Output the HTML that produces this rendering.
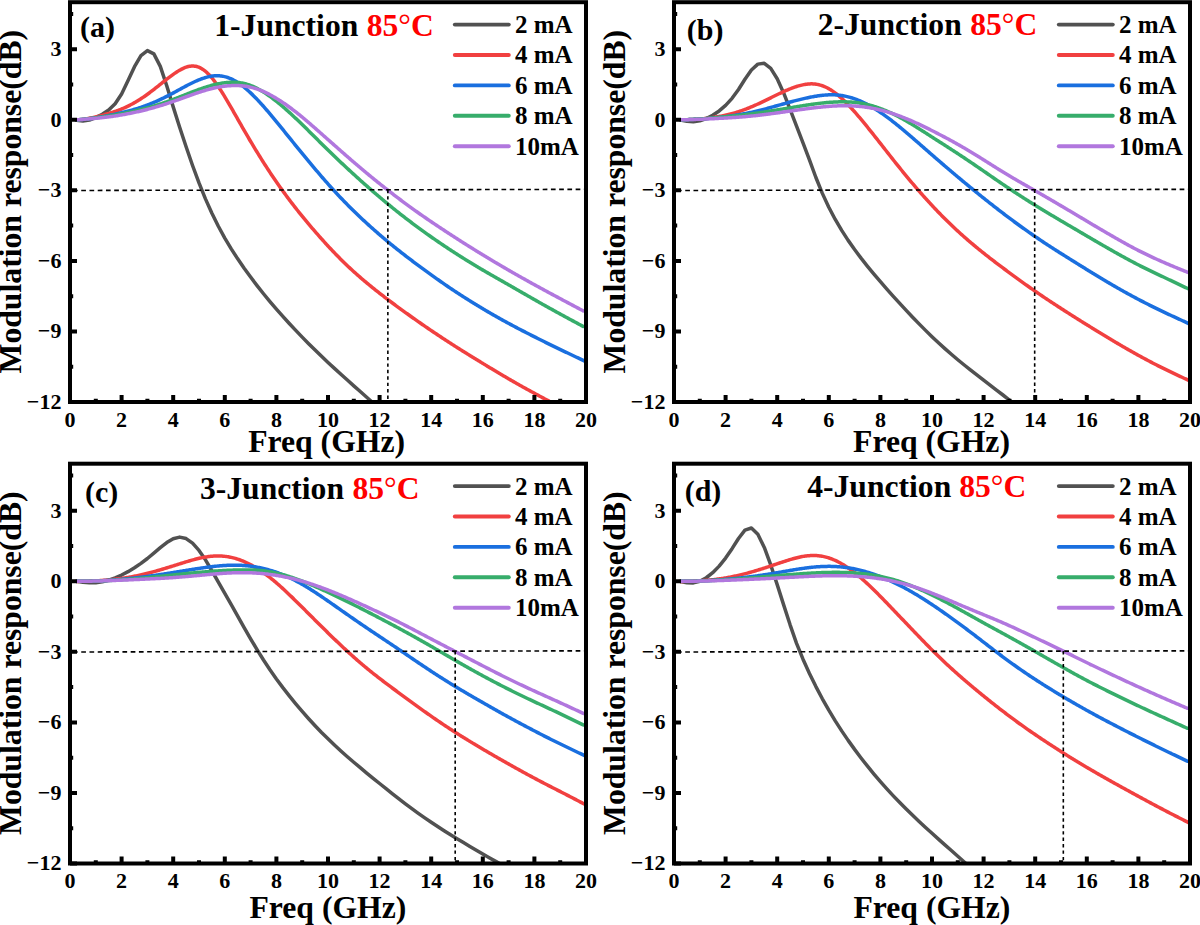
<!DOCTYPE html>
<html><head><meta charset="utf-8"><style>
html,body{margin:0;padding:0;background:#fff;}
svg{display:block;}
</style></head><body>
<svg width="1200" height="925" viewBox="0 0 1200 925">
<rect width="1200" height="925" fill="#fff"/>
<clipPath id="c0"><rect x="70" y="2.2" width="516" height="399.8"/></clipPath>
<g clip-path="url(#c0)" fill="none" stroke-width="3.5" stroke-linejoin="round" stroke-linecap="round">
<path d="M76.45 120.28 L82.90 120.94 L89.35 120.11 L95.80 117.52 L102.25 114.25 L108.70 110.06 L115.15 103.75 L121.60 93.97 L128.05 80.59 L134.50 66.65 L140.95 55.68 L147.40 50.64 L153.85 53.92 L160.30 66.38 L166.75 85.74 L173.20 106.88 L179.65 127.22 L186.10 146.77 L192.55 165.48 L199.00 182.94 L205.45 198.87 L211.90 213.25 L218.35 226.26 L224.80 238.07 L231.25 248.86 L237.70 258.84 L244.15 268.21 L250.60 277.08 L257.05 285.58 L263.50 293.75 L269.95 301.60 L276.40 309.15 L282.85 316.44 L289.30 323.52 L295.75 330.40 L302.20 337.11 L308.65 343.65 L315.10 350.05 L321.55 356.29 L328.00 362.40 L334.45 368.38 L340.90 374.26 L347.35 380.06 L353.80 385.82 L360.25 391.56 L366.70 397.31 L373.15 403.06" stroke="#515151"/>
<path d="M76.97 120.19 L78.00 120.05 L79.03 119.90 L80.06 119.76 L81.09 119.61 L82.13 119.46 L83.16 119.31 L84.19 119.15 L85.22 118.98 L86.25 118.81 L87.29 118.63 L88.32 118.44 L89.35 118.25 L90.38 118.05 L91.41 117.84 L92.45 117.62 L93.48 117.40 L94.51 117.17 L95.54 116.93 L96.57 116.69 L97.61 116.44 L98.64 116.18 L99.67 115.92 L100.70 115.65 L101.73 115.39 L102.77 115.12 L103.80 114.84 L104.83 114.56 L105.86 114.28 L106.89 113.99 L107.93 113.69 L108.96 113.39 L109.99 113.08 L111.02 112.77 L112.05 112.44 L113.09 112.11 L114.12 111.77 L115.15 111.42 L116.18 111.06 L117.21 110.69 L118.25 110.31 L119.28 109.92 L120.31 109.52 L121.34 109.10 L122.37 108.68 L123.41 108.24 L124.44 107.79 L125.47 107.33 L126.50 106.85 L127.53 106.36 L128.57 105.86 L129.60 105.34 L130.63 104.81 L131.66 104.27 L132.69 103.71 L133.73 103.14 L134.76 102.56 L135.79 101.96 L136.82 101.35 L137.85 100.72 L138.89 100.08 L139.92 99.43 L140.95 98.76 L141.98 98.08 L143.01 97.39 L144.05 96.69 L145.08 95.97 L146.11 95.24 L147.14 94.50 L148.17 93.75 L149.21 92.99 L150.24 92.22 L151.27 91.44 L152.30 90.65 L153.33 89.86 L154.37 89.05 L155.40 88.24 L156.43 87.43 L157.46 86.61 L158.49 85.78 L159.53 84.96 L160.56 84.13 L161.59 83.31 L162.62 82.48 L163.65 81.66 L164.69 80.84 L165.72 80.03 L166.75 79.23 L167.78 78.43 L168.81 77.64 L169.85 76.86 L170.88 76.09 L171.91 75.34 L172.94 74.59 L173.97 73.87 L175.01 73.16 L176.04 72.47 L177.07 71.79 L178.10 71.14 L179.13 70.52 L180.17 69.92 L181.20 69.35 L182.23 68.82 L183.26 68.32 L184.29 67.87 L185.33 67.46 L186.36 67.09 L187.39 66.77 L188.42 66.51 L189.45 66.30 L190.49 66.15 L191.52 66.05 L192.55 66.02 L193.58 66.05 L194.61 66.15 L195.65 66.31 L196.68 66.54 L197.71 66.84 L198.74 67.21 L199.77 67.65 L200.81 68.17 L201.84 68.75 L202.87 69.40 L203.90 70.12 L204.93 70.90 L205.97 71.76 L207.00 72.68 L208.03 73.66 L209.06 74.72 L210.09 75.83 L211.13 77.00 L212.16 78.23 L213.19 79.51 L214.22 80.85 L215.25 82.23 L216.29 83.66 L217.32 85.13 L218.35 86.64 L219.38 88.18 L220.41 89.76 L221.45 91.37 L222.48 93.01 L223.51 94.68 L224.54 96.37 L225.57 98.08 L226.61 99.81 L227.64 101.56 L228.67 103.32 L229.70 105.09 L230.73 106.88 L231.77 108.68 L232.80 110.48 L233.83 112.29 L234.86 114.11 L235.89 115.92 L236.93 117.74 L237.96 119.55 L238.99 121.37 L240.02 123.18 L241.05 124.99 L242.09 126.79 L243.12 128.59 L244.15 130.39 L245.18 132.17 L246.21 133.95 L247.25 135.72 L248.28 137.49 L249.31 139.24 L250.34 140.99 L251.37 142.73 L252.41 144.45 L253.44 146.17 L254.47 147.88 L255.50 149.58 L256.53 151.27 L257.57 152.95 L258.60 154.62 L259.63 156.28 L260.66 157.94 L261.69 159.58 L262.73 161.21 L263.76 162.84 L264.79 164.45 L265.82 166.05 L266.85 167.65 L267.89 169.23 L268.92 170.80 L269.95 172.36 L270.98 173.91 L272.01 175.45 L273.05 176.98 L274.08 178.50 L275.11 180.01 L276.14 181.51 L277.17 183.00 L278.21 184.48 L279.24 185.95 L280.27 187.41 L281.30 188.86 L282.33 190.29 L283.37 191.72 L284.40 193.14 L285.43 194.55 L286.46 195.95 L287.49 197.34 L288.53 198.72 L289.56 200.10 L290.59 201.46 L291.62 202.82 L292.65 204.16 L293.69 205.50 L294.72 206.83 L295.75 208.15 L296.78 209.46 L297.81 210.77 L298.85 212.06 L299.88 213.35 L300.91 214.63 L301.94 215.91 L302.97 217.17 L304.01 218.43 L305.04 219.68 L306.07 220.93 L307.10 222.17 L308.13 223.40 L309.17 224.62 L310.20 225.84 L311.23 227.05 L312.26 228.26 L313.29 229.46 L314.33 230.66 L315.36 231.84 L316.39 233.03 L317.42 234.21 L318.45 235.38 L319.49 236.55 L320.52 237.72 L321.55 238.88 L322.58 240.03 L323.61 241.18 L324.65 242.32 L325.68 243.46 L326.71 244.59 L327.74 245.71 L328.77 246.83 L329.81 247.94 L330.84 249.04 L331.87 250.14 L332.90 251.23 L333.93 252.31 L334.97 253.38 L336.00 254.45 L337.03 255.51 L338.06 256.56 L339.09 257.60 L340.13 258.64 L341.16 259.67 L342.19 260.69 L343.22 261.71 L344.25 262.71 L345.29 263.71 L346.32 264.71 L347.35 265.69 L348.38 266.67 L349.41 267.64 L350.45 268.60 L351.48 269.56 L352.51 270.51 L353.54 271.45 L354.57 272.38 L355.61 273.31 L356.64 274.22 L357.67 275.14 L358.70 276.04 L359.73 276.94 L360.77 277.83 L361.80 278.72 L362.83 279.60 L363.86 280.47 L364.89 281.34 L365.93 282.21 L366.96 283.07 L367.99 283.92 L369.02 284.77 L370.05 285.62 L371.09 286.46 L372.12 287.30 L373.15 288.13 L374.18 288.96 L375.21 289.78 L376.25 290.60 L377.28 291.42 L378.31 292.23 L379.34 293.04 L380.37 293.84 L381.41 294.64 L382.44 295.44 L383.47 296.24 L384.50 297.03 L385.53 297.82 L386.57 298.60 L387.60 299.38 L388.63 300.16 L389.66 300.94 L390.69 301.71 L391.73 302.48 L392.76 303.25 L393.79 304.02 L394.82 304.78 L395.85 305.54 L396.89 306.30 L397.92 307.06 L398.95 307.81 L399.98 308.57 L401.01 309.32 L402.05 310.07 L403.08 310.82 L404.11 311.56 L405.14 312.31 L406.17 313.05 L407.21 313.79 L408.24 314.53 L409.27 315.27 L410.30 316.00 L411.33 316.74 L412.37 317.47 L413.40 318.20 L414.43 318.93 L415.46 319.66 L416.49 320.38 L417.53 321.11 L418.56 321.83 L419.59 322.55 L420.62 323.27 L421.65 323.99 L422.69 324.70 L423.72 325.42 L424.75 326.13 L425.78 326.84 L426.81 327.54 L427.85 328.25 L428.88 328.95 L429.91 329.65 L430.94 330.35 L431.97 331.05 L433.01 331.75 L434.04 332.44 L435.07 333.13 L436.10 333.82 L437.13 334.51 L438.17 335.20 L439.20 335.88 L440.23 336.56 L441.26 337.24 L442.29 337.92 L443.33 338.60 L444.36 339.28 L445.39 339.95 L446.42 340.62 L447.45 341.30 L448.49 341.97 L449.52 342.63 L450.55 343.30 L451.58 343.96 L452.61 344.63 L453.65 345.29 L454.68 345.95 L455.71 346.61 L456.74 347.26 L457.77 347.92 L458.81 348.57 L459.84 349.22 L460.87 349.87 L461.90 350.52 L462.93 351.17 L463.97 351.82 L465.00 352.46 L466.03 353.10 L467.06 353.74 L468.09 354.38 L469.13 355.02 L470.16 355.66 L471.19 356.30 L472.22 356.93 L473.25 357.57 L474.29 358.20 L475.32 358.83 L476.35 359.46 L477.38 360.10 L478.41 360.73 L479.45 361.36 L480.48 361.99 L481.51 362.62 L482.54 363.25 L483.57 363.88 L484.61 364.50 L485.64 365.13 L486.67 365.76 L487.70 366.38 L488.73 367.01 L489.77 367.63 L490.80 368.25 L491.83 368.87 L492.86 369.49 L493.89 370.11 L494.93 370.73 L495.96 371.35 L496.99 371.97 L498.02 372.58 L499.05 373.19 L500.09 373.81 L501.12 374.42 L502.15 375.03 L503.18 375.64 L504.21 376.24 L505.25 376.85 L506.28 377.45 L507.31 378.06 L508.34 378.66 L509.37 379.26 L510.41 379.86 L511.44 380.45 L512.47 381.05 L513.50 381.64 L514.53 382.23 L515.57 382.82 L516.60 383.41 L517.63 384.00 L518.66 384.58 L519.69 385.16 L520.73 385.75 L521.76 386.32 L522.79 386.90 L523.82 387.48 L524.85 388.05 L525.89 388.62 L526.92 389.19 L527.95 389.76 L528.98 390.33 L530.01 390.89 L531.05 391.46 L532.08 392.02 L533.11 392.58 L534.14 393.14 L535.17 393.70 L536.21 394.26 L537.24 394.82 L538.27 395.38 L539.30 395.93 L540.33 396.49 L541.37 397.04 L542.40 397.60 L543.43 398.15 L544.46 398.70 L545.49 399.26 L546.53 399.81 L547.56 400.36 L548.59 400.91 L549.62 401.46 L550.65 402.02 L551.69 402.57 L552.72 403.12 L553.75 403.67 L554.78 404.22 L555.04 404.36" stroke="#F14040"/>
<path d="M76.97 120.00 L78.00 119.90 L79.03 119.80 L80.06 119.70 L81.09 119.60 L82.13 119.50 L83.16 119.39 L84.19 119.28 L85.22 119.17 L86.25 119.06 L87.29 118.94 L88.32 118.81 L89.35 118.69 L90.38 118.56 L91.41 118.42 L92.45 118.28 L93.48 118.14 L94.51 117.99 L95.54 117.83 L96.57 117.68 L97.61 117.51 L98.64 117.35 L99.67 117.18 L100.70 117.00 L101.73 116.82 L102.77 116.64 L103.80 116.45 L104.83 116.26 L105.86 116.07 L106.89 115.87 L107.93 115.67 L108.96 115.47 L109.99 115.26 L111.02 115.06 L112.05 114.85 L113.09 114.63 L114.12 114.42 L115.15 114.20 L116.18 113.97 L117.21 113.75 L118.25 113.52 L119.28 113.28 L120.31 113.05 L121.34 112.80 L122.37 112.56 L123.41 112.31 L124.44 112.06 L125.47 111.80 L126.50 111.53 L127.53 111.27 L128.57 110.99 L129.60 110.72 L130.63 110.43 L131.66 110.14 L132.69 109.85 L133.73 109.55 L134.76 109.25 L135.79 108.94 L136.82 108.62 L137.85 108.30 L138.89 107.97 L139.92 107.63 L140.95 107.29 L141.98 106.94 L143.01 106.59 L144.05 106.22 L145.08 105.85 L146.11 105.48 L147.14 105.09 L148.17 104.70 L149.21 104.30 L150.24 103.90 L151.27 103.48 L152.30 103.06 L153.33 102.63 L154.37 102.20 L155.40 101.75 L156.43 101.30 L157.46 100.84 L158.49 100.38 L159.53 99.91 L160.56 99.43 L161.59 98.94 L162.62 98.45 L163.65 97.95 L164.69 97.44 L165.72 96.93 L166.75 96.41 L167.78 95.88 L168.81 95.35 L169.85 94.81 L170.88 94.26 L171.91 93.71 L172.94 93.15 L173.97 92.59 L175.01 92.03 L176.04 91.47 L177.07 90.90 L178.10 90.33 L179.13 89.76 L180.17 89.19 L181.20 88.63 L182.23 88.06 L183.26 87.50 L184.29 86.94 L185.33 86.39 L186.36 85.84 L187.39 85.30 L188.42 84.76 L189.45 84.23 L190.49 83.71 L191.52 83.20 L192.55 82.70 L193.58 82.21 L194.61 81.73 L195.65 81.26 L196.68 80.81 L197.71 80.37 L198.74 79.94 L199.77 79.53 L200.81 79.14 L201.84 78.76 L202.87 78.40 L203.90 78.06 L204.93 77.73 L205.97 77.43 L207.00 77.15 L208.03 76.89 L209.06 76.65 L210.09 76.44 L211.13 76.25 L212.16 76.09 L213.19 75.96 L214.22 75.86 L215.25 75.78 L216.29 75.74 L217.32 75.73 L218.35 75.76 L219.38 75.81 L220.41 75.91 L221.45 76.03 L222.48 76.19 L223.51 76.38 L224.54 76.61 L225.57 76.87 L226.61 77.17 L227.64 77.49 L228.67 77.86 L229.70 78.26 L230.73 78.69 L231.77 79.16 L232.80 79.66 L233.83 80.19 L234.86 80.76 L235.89 81.36 L236.93 81.99 L237.96 82.65 L238.99 83.34 L240.02 84.06 L241.05 84.81 L242.09 85.59 L243.12 86.39 L244.15 87.21 L245.18 88.06 L246.21 88.94 L247.25 89.83 L248.28 90.75 L249.31 91.69 L250.34 92.65 L251.37 93.63 L252.41 94.63 L253.44 95.65 L254.47 96.69 L255.50 97.74 L256.53 98.81 L257.57 99.90 L258.60 100.99 L259.63 102.11 L260.66 103.23 L261.69 104.37 L262.73 105.53 L263.76 106.69 L264.79 107.86 L265.82 109.05 L266.85 110.24 L267.89 111.44 L268.92 112.66 L269.95 113.88 L270.98 115.10 L272.01 116.34 L273.05 117.58 L274.08 118.82 L275.11 120.08 L276.14 121.33 L277.17 122.59 L278.21 123.86 L279.24 125.12 L280.27 126.40 L281.30 127.67 L282.33 128.95 L283.37 130.22 L284.40 131.50 L285.43 132.78 L286.46 134.06 L287.49 135.35 L288.53 136.63 L289.56 137.91 L290.59 139.19 L291.62 140.47 L292.65 141.74 L293.69 143.02 L294.72 144.29 L295.75 145.57 L296.78 146.84 L297.81 148.11 L298.85 149.38 L299.88 150.64 L300.91 151.91 L301.94 153.17 L302.97 154.43 L304.01 155.68 L305.04 156.94 L306.07 158.18 L307.10 159.43 L308.13 160.67 L309.17 161.92 L310.20 163.15 L311.23 164.39 L312.26 165.62 L313.29 166.84 L314.33 168.07 L315.36 169.29 L316.39 170.51 L317.42 171.72 L318.45 172.93 L319.49 174.14 L320.52 175.34 L321.55 176.54 L322.58 177.74 L323.61 178.93 L324.65 180.11 L325.68 181.29 L326.71 182.47 L327.74 183.64 L328.77 184.80 L329.81 185.96 L330.84 187.11 L331.87 188.25 L332.90 189.39 L333.93 190.52 L334.97 191.65 L336.00 192.77 L337.03 193.88 L338.06 194.98 L339.09 196.08 L340.13 197.17 L341.16 198.26 L342.19 199.33 L343.22 200.41 L344.25 201.47 L345.29 202.53 L346.32 203.58 L347.35 204.63 L348.38 205.67 L349.41 206.70 L350.45 207.73 L351.48 208.75 L352.51 209.77 L353.54 210.78 L354.57 211.79 L355.61 212.79 L356.64 213.78 L357.67 214.77 L358.70 215.76 L359.73 216.74 L360.77 217.71 L361.80 218.68 L362.83 219.65 L363.86 220.61 L364.89 221.57 L365.93 222.52 L366.96 223.46 L367.99 224.41 L369.02 225.35 L370.05 226.28 L371.09 227.21 L372.12 228.13 L373.15 229.05 L374.18 229.97 L375.21 230.88 L376.25 231.79 L377.28 232.69 L378.31 233.59 L379.34 234.48 L380.37 235.37 L381.41 236.26 L382.44 237.14 L383.47 238.02 L384.50 238.89 L385.53 239.76 L386.57 240.62 L387.60 241.48 L388.63 242.34 L389.66 243.19 L390.69 244.04 L391.73 244.88 L392.76 245.72 L393.79 246.56 L394.82 247.39 L395.85 248.22 L396.89 249.04 L397.92 249.86 L398.95 250.67 L399.98 251.49 L401.01 252.29 L402.05 253.10 L403.08 253.90 L404.11 254.70 L405.14 255.50 L406.17 256.29 L407.21 257.08 L408.24 257.87 L409.27 258.66 L410.30 259.44 L411.33 260.22 L412.37 261.00 L413.40 261.78 L414.43 262.55 L415.46 263.33 L416.49 264.10 L417.53 264.87 L418.56 265.63 L419.59 266.40 L420.62 267.16 L421.65 267.92 L422.69 268.67 L423.72 269.43 L424.75 270.18 L425.78 270.93 L426.81 271.68 L427.85 272.43 L428.88 273.17 L429.91 273.92 L430.94 274.66 L431.97 275.40 L433.01 276.13 L434.04 276.87 L435.07 277.60 L436.10 278.33 L437.13 279.06 L438.17 279.79 L439.20 280.51 L440.23 281.23 L441.26 281.95 L442.29 282.67 L443.33 283.39 L444.36 284.10 L445.39 284.82 L446.42 285.52 L447.45 286.23 L448.49 286.93 L449.52 287.63 L450.55 288.33 L451.58 289.02 L452.61 289.71 L453.65 290.40 L454.68 291.09 L455.71 291.77 L456.74 292.45 L457.77 293.13 L458.81 293.80 L459.84 294.47 L460.87 295.14 L461.90 295.80 L462.93 296.47 L463.97 297.13 L465.00 297.78 L466.03 298.44 L467.06 299.09 L468.09 299.74 L469.13 300.39 L470.16 301.03 L471.19 301.68 L472.22 302.32 L473.25 302.95 L474.29 303.59 L475.32 304.22 L476.35 304.85 L477.38 305.48 L478.41 306.11 L479.45 306.73 L480.48 307.35 L481.51 307.97 L482.54 308.59 L483.57 309.20 L484.61 309.81 L485.64 310.42 L486.67 311.03 L487.70 311.63 L488.73 312.24 L489.77 312.84 L490.80 313.44 L491.83 314.03 L492.86 314.63 L493.89 315.22 L494.93 315.80 L495.96 316.39 L496.99 316.98 L498.02 317.56 L499.05 318.14 L500.09 318.71 L501.12 319.29 L502.15 319.86 L503.18 320.43 L504.21 321.00 L505.25 321.56 L506.28 322.13 L507.31 322.69 L508.34 323.25 L509.37 323.80 L510.41 324.36 L511.44 324.91 L512.47 325.46 L513.50 326.00 L514.53 326.55 L515.57 327.09 L516.60 327.64 L517.63 328.18 L518.66 328.71 L519.69 329.25 L520.73 329.79 L521.76 330.32 L522.79 330.86 L523.82 331.39 L524.85 331.92 L525.89 332.45 L526.92 332.98 L527.95 333.51 L528.98 334.04 L530.01 334.56 L531.05 335.09 L532.08 335.61 L533.11 336.13 L534.14 336.65 L535.17 337.17 L536.21 337.69 L537.24 338.21 L538.27 338.73 L539.30 339.24 L540.33 339.76 L541.37 340.27 L542.40 340.78 L543.43 341.29 L544.46 341.80 L545.49 342.31 L546.53 342.82 L547.56 343.32 L548.59 343.83 L549.62 344.33 L550.65 344.84 L551.69 345.34 L552.72 345.84 L553.75 346.34 L554.78 346.84 L555.81 347.34 L556.85 347.84 L557.88 348.34 L558.91 348.84 L559.94 349.33 L560.97 349.83 L562.01 350.32 L563.04 350.82 L564.07 351.31 L565.10 351.81 L566.13 352.30 L567.17 352.79 L568.20 353.29 L569.23 353.78 L570.26 354.27 L571.29 354.76 L572.33 355.25 L573.36 355.74 L574.39 356.23 L575.42 356.72 L576.45 357.21 L577.49 357.70 L578.52 358.19 L579.55 358.68 L580.58 359.17 L581.61 359.66 L582.65 360.15 L583.68 360.64 L584.71 361.13 L584.71 361.13" stroke="#1A6FDF"/>
<path d="M76.97 119.89 L78.00 119.79 L79.03 119.69 L80.06 119.59 L81.09 119.48 L82.13 119.38 L83.16 119.27 L84.19 119.17 L85.22 119.06 L86.25 118.95 L87.29 118.84 L88.32 118.73 L89.35 118.61 L90.38 118.50 L91.41 118.38 L92.45 118.25 L93.48 118.13 L94.51 118.00 L95.54 117.87 L96.57 117.74 L97.61 117.60 L98.64 117.46 L99.67 117.32 L100.70 117.18 L101.73 117.03 L102.77 116.88 L103.80 116.73 L104.83 116.57 L105.86 116.41 L106.89 116.25 L107.93 116.09 L108.96 115.92 L109.99 115.76 L111.02 115.58 L112.05 115.41 L113.09 115.24 L114.12 115.06 L115.15 114.88 L116.18 114.69 L117.21 114.51 L118.25 114.32 L119.28 114.13 L120.31 113.94 L121.34 113.74 L122.37 113.55 L123.41 113.35 L124.44 113.15 L125.47 112.94 L126.50 112.74 L127.53 112.53 L128.57 112.31 L129.60 112.10 L130.63 111.88 L131.66 111.66 L132.69 111.43 L133.73 111.21 L134.76 110.98 L135.79 110.74 L136.82 110.50 L137.85 110.26 L138.89 110.02 L139.92 109.77 L140.95 109.51 L141.98 109.26 L143.01 109.00 L144.05 108.73 L145.08 108.46 L146.11 108.19 L147.14 107.91 L148.17 107.63 L149.21 107.35 L150.24 107.06 L151.27 106.76 L152.30 106.46 L153.33 106.16 L154.37 105.85 L155.40 105.54 L156.43 105.22 L157.46 104.90 L158.49 104.57 L159.53 104.24 L160.56 103.90 L161.59 103.56 L162.62 103.21 L163.65 102.86 L164.69 102.51 L165.72 102.15 L166.75 101.79 L167.78 101.42 L168.81 101.05 L169.85 100.67 L170.88 100.29 L171.91 99.91 L172.94 99.52 L173.97 99.13 L175.01 98.74 L176.04 98.35 L177.07 97.95 L178.10 97.55 L179.13 97.14 L180.17 96.74 L181.20 96.33 L182.23 95.92 L183.26 95.51 L184.29 95.10 L185.33 94.69 L186.36 94.28 L187.39 93.86 L188.42 93.45 L189.45 93.05 L190.49 92.64 L191.52 92.24 L192.55 91.83 L193.58 91.44 L194.61 91.04 L195.65 90.65 L196.68 90.27 L197.71 89.89 L198.74 89.51 L199.77 89.14 L200.81 88.78 L201.84 88.42 L202.87 88.07 L203.90 87.72 L204.93 87.39 L205.97 87.06 L207.00 86.74 L208.03 86.42 L209.06 86.12 L210.09 85.82 L211.13 85.53 L212.16 85.26 L213.19 84.99 L214.22 84.73 L215.25 84.48 L216.29 84.25 L217.32 84.02 L218.35 83.81 L219.38 83.61 L220.41 83.42 L221.45 83.24 L222.48 83.08 L223.51 82.93 L224.54 82.79 L225.57 82.67 L226.61 82.56 L227.64 82.47 L228.67 82.40 L229.70 82.34 L230.73 82.29 L231.77 82.27 L232.80 82.26 L233.83 82.27 L234.86 82.29 L235.89 82.34 L236.93 82.40 L237.96 82.49 L238.99 82.59 L240.02 82.72 L241.05 82.87 L242.09 83.05 L243.12 83.25 L244.15 83.48 L245.18 83.73 L246.21 84.01 L247.25 84.31 L248.28 84.64 L249.31 85.00 L250.34 85.37 L251.37 85.77 L252.41 86.20 L253.44 86.64 L254.47 87.11 L255.50 87.60 L256.53 88.11 L257.57 88.64 L258.60 89.19 L259.63 89.77 L260.66 90.36 L261.69 90.97 L262.73 91.59 L263.76 92.24 L264.79 92.90 L265.82 93.58 L266.85 94.27 L267.89 94.98 L268.92 95.70 L269.95 96.44 L270.98 97.19 L272.01 97.96 L273.05 98.74 L274.08 99.53 L275.11 100.33 L276.14 101.15 L277.17 101.97 L278.21 102.81 L279.24 103.66 L280.27 104.51 L281.30 105.38 L282.33 106.25 L283.37 107.14 L284.40 108.03 L285.43 108.93 L286.46 109.84 L287.49 110.76 L288.53 111.69 L289.56 112.62 L290.59 113.56 L291.62 114.51 L292.65 115.47 L293.69 116.43 L294.72 117.40 L295.75 118.37 L296.78 119.35 L297.81 120.33 L298.85 121.32 L299.88 122.31 L300.91 123.30 L301.94 124.30 L302.97 125.31 L304.01 126.31 L305.04 127.33 L306.07 128.34 L307.10 129.36 L308.13 130.38 L309.17 131.40 L310.20 132.42 L311.23 133.45 L312.26 134.47 L313.29 135.50 L314.33 136.53 L315.36 137.55 L316.39 138.58 L317.42 139.60 L318.45 140.63 L319.49 141.65 L320.52 142.68 L321.55 143.70 L322.58 144.72 L323.61 145.74 L324.65 146.75 L325.68 147.76 L326.71 148.77 L327.74 149.78 L328.77 150.79 L329.81 151.79 L330.84 152.79 L331.87 153.79 L332.90 154.79 L333.93 155.78 L334.97 156.77 L336.00 157.76 L337.03 158.74 L338.06 159.72 L339.09 160.70 L340.13 161.68 L341.16 162.65 L342.19 163.62 L343.22 164.59 L344.25 165.56 L345.29 166.52 L346.32 167.48 L347.35 168.44 L348.38 169.40 L349.41 170.35 L350.45 171.30 L351.48 172.25 L352.51 173.20 L353.54 174.14 L354.57 175.08 L355.61 176.02 L356.64 176.96 L357.67 177.89 L358.70 178.83 L359.73 179.75 L360.77 180.68 L361.80 181.61 L362.83 182.53 L363.86 183.45 L364.89 184.36 L365.93 185.27 L366.96 186.18 L367.99 187.09 L369.02 188.00 L370.05 188.90 L371.09 189.80 L372.12 190.69 L373.15 191.59 L374.18 192.48 L375.21 193.37 L376.25 194.25 L377.28 195.13 L378.31 196.01 L379.34 196.89 L380.37 197.76 L381.41 198.63 L382.44 199.50 L383.47 200.36 L384.50 201.22 L385.53 202.08 L386.57 202.93 L387.60 203.79 L388.63 204.64 L389.66 205.48 L390.69 206.32 L391.73 207.16 L392.76 208.00 L393.79 208.83 L394.82 209.66 L395.85 210.49 L396.89 211.31 L397.92 212.13 L398.95 212.95 L399.98 213.76 L401.01 214.57 L402.05 215.38 L403.08 216.19 L404.11 216.99 L405.14 217.79 L406.17 218.58 L407.21 219.37 L408.24 220.16 L409.27 220.94 L410.30 221.73 L411.33 222.50 L412.37 223.28 L413.40 224.05 L414.43 224.82 L415.46 225.59 L416.49 226.35 L417.53 227.12 L418.56 227.87 L419.59 228.63 L420.62 229.38 L421.65 230.13 L422.69 230.88 L423.72 231.62 L424.75 232.36 L425.78 233.10 L426.81 233.84 L427.85 234.57 L428.88 235.30 L429.91 236.03 L430.94 236.75 L431.97 237.48 L433.01 238.20 L434.04 238.91 L435.07 239.63 L436.10 240.34 L437.13 241.05 L438.17 241.76 L439.20 242.46 L440.23 243.16 L441.26 243.86 L442.29 244.56 L443.33 245.25 L444.36 245.95 L445.39 246.63 L446.42 247.32 L447.45 248.01 L448.49 248.69 L449.52 249.37 L450.55 250.05 L451.58 250.72 L452.61 251.40 L453.65 252.07 L454.68 252.73 L455.71 253.40 L456.74 254.06 L457.77 254.72 L458.81 255.38 L459.84 256.04 L460.87 256.69 L461.90 257.34 L462.93 257.99 L463.97 258.64 L465.00 259.28 L466.03 259.92 L467.06 260.56 L468.09 261.20 L469.13 261.83 L470.16 262.46 L471.19 263.09 L472.22 263.72 L473.25 264.34 L474.29 264.97 L475.32 265.59 L476.35 266.20 L477.38 266.82 L478.41 267.43 L479.45 268.04 L480.48 268.65 L481.51 269.26 L482.54 269.87 L483.57 270.47 L484.61 271.07 L485.64 271.67 L486.67 272.27 L487.70 272.87 L488.73 273.47 L489.77 274.06 L490.80 274.66 L491.83 275.25 L492.86 275.84 L493.89 276.43 L494.93 277.02 L495.96 277.61 L496.99 278.20 L498.02 278.79 L499.05 279.38 L500.09 279.97 L501.12 280.56 L502.15 281.14 L503.18 281.73 L504.21 282.32 L505.25 282.91 L506.28 283.50 L507.31 284.08 L508.34 284.67 L509.37 285.26 L510.41 285.85 L511.44 286.44 L512.47 287.03 L513.50 287.62 L514.53 288.22 L515.57 288.81 L516.60 289.40 L517.63 289.99 L518.66 290.59 L519.69 291.18 L520.73 291.77 L521.76 292.37 L522.79 292.96 L523.82 293.55 L524.85 294.14 L525.89 294.74 L526.92 295.33 L527.95 295.92 L528.98 296.51 L530.01 297.10 L531.05 297.69 L532.08 298.29 L533.11 298.87 L534.14 299.46 L535.17 300.05 L536.21 300.64 L537.24 301.23 L538.27 301.81 L539.30 302.40 L540.33 302.98 L541.37 303.56 L542.40 304.15 L543.43 304.73 L544.46 305.31 L545.49 305.88 L546.53 306.46 L547.56 307.04 L548.59 307.61 L549.62 308.18 L550.65 308.76 L551.69 309.33 L552.72 309.90 L553.75 310.47 L554.78 311.04 L555.81 311.60 L556.85 312.17 L557.88 312.74 L558.91 313.30 L559.94 313.87 L560.97 314.43 L562.01 314.99 L563.04 315.55 L564.07 316.12 L565.10 316.68 L566.13 317.24 L567.17 317.80 L568.20 318.36 L569.23 318.92 L570.26 319.47 L571.29 320.03 L572.33 320.59 L573.36 321.15 L574.39 321.70 L575.42 322.26 L576.45 322.82 L577.49 323.37 L578.52 323.93 L579.55 324.48 L580.58 325.04 L581.61 325.60 L582.65 326.15 L583.16 326.43" stroke="#37AD6B"/>
<path d="M76.97 119.81 L78.00 119.73 L79.03 119.65 L80.06 119.57 L81.09 119.49 L82.13 119.41 L83.16 119.32 L84.19 119.24 L85.22 119.16 L86.25 119.08 L87.29 119.00 L88.32 118.92 L89.35 118.83 L90.38 118.75 L91.41 118.67 L92.45 118.58 L93.48 118.49 L94.51 118.40 L95.54 118.31 L96.57 118.22 L97.61 118.12 L98.64 118.03 L99.67 117.92 L100.70 117.82 L101.73 117.71 L102.77 117.60 L103.80 117.48 L104.83 117.36 L105.86 117.24 L106.89 117.11 L107.93 116.98 L108.96 116.84 L109.99 116.71 L111.02 116.57 L112.05 116.42 L113.09 116.27 L114.12 116.12 L115.15 115.97 L116.18 115.81 L117.21 115.65 L118.25 115.48 L119.28 115.31 L120.31 115.14 L121.34 114.96 L122.37 114.78 L123.41 114.60 L124.44 114.42 L125.47 114.23 L126.50 114.03 L127.53 113.84 L128.57 113.64 L129.60 113.43 L130.63 113.23 L131.66 113.02 L132.69 112.80 L133.73 112.59 L134.76 112.37 L135.79 112.14 L136.82 111.91 L137.85 111.68 L138.89 111.45 L139.92 111.21 L140.95 110.96 L141.98 110.72 L143.01 110.47 L144.05 110.21 L145.08 109.96 L146.11 109.69 L147.14 109.43 L148.17 109.16 L149.21 108.89 L150.24 108.61 L151.27 108.33 L152.30 108.04 L153.33 107.75 L154.37 107.46 L155.40 107.16 L156.43 106.86 L157.46 106.55 L158.49 106.25 L159.53 105.93 L160.56 105.62 L161.59 105.30 L162.62 104.97 L163.65 104.65 L164.69 104.32 L165.72 103.98 L166.75 103.64 L167.78 103.30 L168.81 102.96 L169.85 102.61 L170.88 102.26 L171.91 101.90 L172.94 101.55 L173.97 101.19 L175.01 100.83 L176.04 100.46 L177.07 100.09 L178.10 99.73 L179.13 99.36 L180.17 98.99 L181.20 98.61 L182.23 98.24 L183.26 97.87 L184.29 97.50 L185.33 97.13 L186.36 96.75 L187.39 96.38 L188.42 96.01 L189.45 95.64 L190.49 95.28 L191.52 94.91 L192.55 94.55 L193.58 94.18 L194.61 93.83 L195.65 93.47 L196.68 93.12 L197.71 92.77 L198.74 92.43 L199.77 92.09 L200.81 91.76 L201.84 91.43 L202.87 91.11 L203.90 90.79 L204.93 90.48 L205.97 90.18 L207.00 89.88 L208.03 89.59 L209.06 89.31 L210.09 89.03 L211.13 88.77 L212.16 88.51 L213.19 88.26 L214.22 88.02 L215.25 87.79 L216.29 87.57 L217.32 87.36 L218.35 87.15 L219.38 86.96 L220.41 86.78 L221.45 86.61 L222.48 86.46 L223.51 86.31 L224.54 86.17 L225.57 86.05 L226.61 85.94 L227.64 85.85 L228.67 85.76 L229.70 85.69 L230.73 85.63 L231.77 85.58 L232.80 85.55 L233.83 85.52 L234.86 85.52 L235.89 85.52 L236.93 85.54 L237.96 85.57 L238.99 85.61 L240.02 85.67 L241.05 85.74 L242.09 85.83 L243.12 85.93 L244.15 86.05 L245.18 86.19 L246.21 86.35 L247.25 86.52 L248.28 86.71 L249.31 86.91 L250.34 87.14 L251.37 87.38 L252.41 87.63 L253.44 87.91 L254.47 88.20 L255.50 88.51 L256.53 88.84 L257.57 89.18 L258.60 89.55 L259.63 89.94 L260.66 90.35 L261.69 90.77 L262.73 91.21 L263.76 91.67 L264.79 92.14 L265.82 92.63 L266.85 93.13 L267.89 93.64 L268.92 94.17 L269.95 94.72 L270.98 95.27 L272.01 95.84 L273.05 96.42 L274.08 97.02 L275.11 97.62 L276.14 98.24 L277.17 98.87 L278.21 99.51 L279.24 100.16 L280.27 100.82 L281.30 101.49 L282.33 102.17 L283.37 102.87 L284.40 103.57 L285.43 104.28 L286.46 105.00 L287.49 105.74 L288.53 106.48 L289.56 107.23 L290.59 107.99 L291.62 108.76 L292.65 109.54 L293.69 110.33 L294.72 111.12 L295.75 111.93 L296.78 112.74 L297.81 113.56 L298.85 114.39 L299.88 115.23 L300.91 116.07 L301.94 116.92 L302.97 117.78 L304.01 118.64 L305.04 119.51 L306.07 120.39 L307.10 121.26 L308.13 122.15 L309.17 123.04 L310.20 123.93 L311.23 124.82 L312.26 125.72 L313.29 126.62 L314.33 127.52 L315.36 128.42 L316.39 129.33 L317.42 130.24 L318.45 131.14 L319.49 132.05 L320.52 132.96 L321.55 133.88 L322.58 134.79 L323.61 135.70 L324.65 136.61 L325.68 137.53 L326.71 138.44 L327.74 139.35 L328.77 140.26 L329.81 141.18 L330.84 142.09 L331.87 143.00 L332.90 143.91 L333.93 144.83 L334.97 145.74 L336.00 146.65 L337.03 147.56 L338.06 148.47 L339.09 149.38 L340.13 150.28 L341.16 151.19 L342.19 152.10 L343.22 153.00 L344.25 153.91 L345.29 154.81 L346.32 155.71 L347.35 156.61 L348.38 157.51 L349.41 158.41 L350.45 159.31 L351.48 160.20 L352.51 161.09 L353.54 161.98 L354.57 162.87 L355.61 163.76 L356.64 164.64 L357.67 165.52 L358.70 166.40 L359.73 167.28 L360.77 168.15 L361.80 169.02 L362.83 169.89 L363.86 170.76 L364.89 171.62 L365.93 172.48 L366.96 173.34 L367.99 174.19 L369.02 175.05 L370.05 175.90 L371.09 176.74 L372.12 177.59 L373.15 178.43 L374.18 179.27 L375.21 180.11 L376.25 180.94 L377.28 181.77 L378.31 182.60 L379.34 183.43 L380.37 184.26 L381.41 185.08 L382.44 185.90 L383.47 186.72 L384.50 187.53 L385.53 188.35 L386.57 189.16 L387.60 189.97 L388.63 190.78 L389.66 191.58 L390.69 192.38 L391.73 193.18 L392.76 193.98 L393.79 194.78 L394.82 195.57 L395.85 196.36 L396.89 197.15 L397.92 197.93 L398.95 198.71 L399.98 199.49 L401.01 200.27 L402.05 201.04 L403.08 201.81 L404.11 202.58 L405.14 203.34 L406.17 204.10 L407.21 204.86 L408.24 205.62 L409.27 206.37 L410.30 207.12 L411.33 207.86 L412.37 208.60 L413.40 209.34 L414.43 210.08 L415.46 210.82 L416.49 211.55 L417.53 212.28 L418.56 213.00 L419.59 213.73 L420.62 214.45 L421.65 215.17 L422.69 215.89 L423.72 216.60 L424.75 217.31 L425.78 218.03 L426.81 218.73 L427.85 219.44 L428.88 220.14 L429.91 220.85 L430.94 221.55 L431.97 222.25 L433.01 222.94 L434.04 223.64 L435.07 224.33 L436.10 225.02 L437.13 225.71 L438.17 226.40 L439.20 227.09 L440.23 227.77 L441.26 228.46 L442.29 229.14 L443.33 229.82 L444.36 230.50 L445.39 231.18 L446.42 231.86 L447.45 232.53 L448.49 233.21 L449.52 233.88 L450.55 234.55 L451.58 235.22 L452.61 235.89 L453.65 236.56 L454.68 237.22 L455.71 237.89 L456.74 238.55 L457.77 239.21 L458.81 239.87 L459.84 240.53 L460.87 241.19 L461.90 241.85 L462.93 242.50 L463.97 243.16 L465.00 243.81 L466.03 244.46 L467.06 245.11 L468.09 245.76 L469.13 246.40 L470.16 247.05 L471.19 247.69 L472.22 248.34 L473.25 248.98 L474.29 249.62 L475.32 250.26 L476.35 250.90 L477.38 251.53 L478.41 252.17 L479.45 252.80 L480.48 253.44 L481.51 254.07 L482.54 254.70 L483.57 255.33 L484.61 255.95 L485.64 256.58 L486.67 257.20 L487.70 257.83 L488.73 258.45 L489.77 259.07 L490.80 259.69 L491.83 260.31 L492.86 260.93 L493.89 261.54 L494.93 262.16 L495.96 262.77 L496.99 263.38 L498.02 263.99 L499.05 264.60 L500.09 265.21 L501.12 265.81 L502.15 266.42 L503.18 267.02 L504.21 267.63 L505.25 268.23 L506.28 268.83 L507.31 269.42 L508.34 270.02 L509.37 270.62 L510.41 271.21 L511.44 271.81 L512.47 272.40 L513.50 272.99 L514.53 273.58 L515.57 274.16 L516.60 274.75 L517.63 275.34 L518.66 275.92 L519.69 276.50 L520.73 277.09 L521.76 277.67 L522.79 278.25 L523.82 278.83 L524.85 279.40 L525.89 279.98 L526.92 280.55 L527.95 281.13 L528.98 281.70 L530.01 282.27 L531.05 282.85 L532.08 283.42 L533.11 283.99 L534.14 284.55 L535.17 285.12 L536.21 285.69 L537.24 286.25 L538.27 286.82 L539.30 287.38 L540.33 287.95 L541.37 288.51 L542.40 289.07 L543.43 289.63 L544.46 290.19 L545.49 290.75 L546.53 291.31 L547.56 291.87 L548.59 292.42 L549.62 292.98 L550.65 293.54 L551.69 294.09 L552.72 294.65 L553.75 295.20 L554.78 295.76 L555.81 296.31 L556.85 296.86 L557.88 297.41 L558.91 297.97 L559.94 298.52 L560.97 299.07 L562.01 299.62 L563.04 300.17 L564.07 300.72 L565.10 301.27 L566.13 301.82 L567.17 302.36 L568.20 302.91 L569.23 303.46 L570.26 304.01 L571.29 304.56 L572.33 305.10 L573.36 305.65 L574.39 306.20 L575.42 306.74 L576.45 307.29 L577.49 307.84 L578.52 308.38 L579.55 308.93 L580.58 309.48 L581.61 310.02 L582.65 310.57 L583.16 310.84" stroke="#B177DE"/>
</g>
<path d="M73 190.49 L584 189.34" stroke="#000" stroke-width="1.6" stroke-dasharray="4.7 3.54" fill="none"/>
<path d="M387.86 189.78 V400.0" stroke="#000" stroke-width="1.6" stroke-dasharray="3.4 3.03" fill="none"/>
<rect x="70" y="2.2" width="516" height="399.8" fill="none" stroke="#000" stroke-width="4"/>
<path d="M70.00 402.0 V395.0 M95.80 402.0 V398.8 M121.60 402.0 V395.0 M147.40 402.0 V398.8 M173.20 402.0 V395.0 M199.00 402.0 V398.8 M224.80 402.0 V395.0 M250.60 402.0 V398.8 M276.40 402.0 V395.0 M302.20 402.0 V398.8 M328.00 402.0 V395.0 M353.80 402.0 V398.8 M379.60 402.0 V395.0 M405.40 402.0 V398.8 M431.20 402.0 V395.0 M457.00 402.0 V398.8 M482.80 402.0 V395.0 M508.60 402.0 V398.8 M534.40 402.0 V395.0 M560.20 402.0 V398.8 M586.00 402.0 V395.0 M70 402.00 H77 M70 366.72 H73.2 M70 331.45 H77 M70 296.17 H73.2 M70 260.89 H77 M70 225.62 H73.2 M70 190.34 H77 M70 155.06 H73.2 M70 119.79 H77 M70 84.51 H73.2 M70 49.24 H77 M70 13.96 H73.2" stroke="#000" stroke-width="4" fill="none"/>
<text x="70.00" y="426.80" text-anchor="middle" font-size="22" font-family="Liberation Serif" font-weight="bold">0</text>
<text x="121.60" y="426.80" text-anchor="middle" font-size="22" font-family="Liberation Serif" font-weight="bold">2</text>
<text x="173.20" y="426.80" text-anchor="middle" font-size="22" font-family="Liberation Serif" font-weight="bold">4</text>
<text x="224.80" y="426.80" text-anchor="middle" font-size="22" font-family="Liberation Serif" font-weight="bold">6</text>
<text x="276.40" y="426.80" text-anchor="middle" font-size="22" font-family="Liberation Serif" font-weight="bold">8</text>
<text x="328.00" y="426.80" text-anchor="middle" font-size="22" font-family="Liberation Serif" font-weight="bold">10</text>
<text x="379.60" y="426.80" text-anchor="middle" font-size="22" font-family="Liberation Serif" font-weight="bold">12</text>
<text x="431.20" y="426.80" text-anchor="middle" font-size="22" font-family="Liberation Serif" font-weight="bold">14</text>
<text x="482.80" y="426.80" text-anchor="middle" font-size="22" font-family="Liberation Serif" font-weight="bold">16</text>
<text x="534.40" y="426.80" text-anchor="middle" font-size="22" font-family="Liberation Serif" font-weight="bold">18</text>
<text x="586.00" y="426.80" text-anchor="middle" font-size="22" font-family="Liberation Serif" font-weight="bold">20</text>
<text x="61.40" y="408.80" text-anchor="end" font-size="22" font-family="Liberation Serif" font-weight="bold">−12</text>
<text x="61.40" y="338.25" text-anchor="end" font-size="22" font-family="Liberation Serif" font-weight="bold">−9</text>
<text x="61.40" y="267.69" text-anchor="end" font-size="22" font-family="Liberation Serif" font-weight="bold">−6</text>
<text x="61.40" y="197.14" text-anchor="end" font-size="22" font-family="Liberation Serif" font-weight="bold">−3</text>
<text x="61.40" y="126.59" text-anchor="end" font-size="22" font-family="Liberation Serif" font-weight="bold">0</text>
<text x="61.40" y="56.04" text-anchor="end" font-size="22" font-family="Liberation Serif" font-weight="bold">3</text>
<text x="326.60" y="452.25" text-anchor="middle" font-size="31.7" font-family="Liberation Serif" font-weight="bold">Freq (GHz)</text>
<text transform="translate(21.30,373.50) rotate(-90)" x="0" y="0" font-size="31.7" font-family="Liberation Serif" font-weight="bold">Modulation response(dB)</text>
<text x="80.0" y="36.6" font-size="30" font-family="Liberation Serif" font-weight="bold">(a)</text>
<text x="214.3" y="35.8" font-size="31.6" font-family="Liberation Serif" font-weight="bold">1-Junction</text>
<text x="366.7" y="35.8" font-size="31.6" fill="#FF0000" font-family="Liberation Serif" font-weight="bold">85<tspan font-weight="normal">°</tspan>C</text>
<path d="M454.8 24.60 H508.8" stroke="#515151" stroke-width="3.9" stroke-linecap="round"/>
<text x="515" y="33.00" font-size="25" font-family="Liberation Serif" font-weight="bold">2 mA</text>
<path d="M454.8 55.00 H508.8" stroke="#F14040" stroke-width="3.9" stroke-linecap="round"/>
<text x="515" y="63.40" font-size="25" font-family="Liberation Serif" font-weight="bold">4 mA</text>
<path d="M454.8 85.40 H508.8" stroke="#1A6FDF" stroke-width="3.9" stroke-linecap="round"/>
<text x="515" y="93.80" font-size="25" font-family="Liberation Serif" font-weight="bold">6 mA</text>
<path d="M454.8 115.80 H508.8" stroke="#37AD6B" stroke-width="3.9" stroke-linecap="round"/>
<text x="515" y="124.20" font-size="25" font-family="Liberation Serif" font-weight="bold">8 mA</text>
<path d="M454.8 146.20 H508.8" stroke="#B177DE" stroke-width="3.9" stroke-linecap="round"/>
<text x="515" y="154.60" font-size="25" font-family="Liberation Serif" font-weight="bold">10mA</text>
<clipPath id="c1"><rect x="674" y="2.2" width="516" height="399.8"/></clipPath>
<g clip-path="url(#c1)" fill="none" stroke-width="3.5" stroke-linejoin="round" stroke-linecap="round">
<path d="M680.45 119.93 L686.90 121.22 L693.35 121.77 L699.80 120.87 L706.25 118.55 L712.70 115.23 L719.15 110.93 L725.60 105.40 L732.05 98.32 L738.50 89.47 L744.95 79.29 L751.40 70.01 L757.85 64.13 L764.30 63.30 L770.75 68.38 L777.20 78.72 L783.65 92.98 L790.10 109.32 L796.55 126.18 L803.00 142.79 L809.45 159.92 L815.90 177.52 L822.35 193.38 L828.80 207.24 L835.25 219.47 L841.70 230.42 L848.15 240.38 L854.60 249.56 L861.05 258.15 L867.50 266.31 L873.95 274.11 L880.40 281.66 L886.85 289.05 L893.30 296.31 L899.75 303.43 L906.20 310.40 L912.65 317.22 L919.10 323.88 L925.55 330.36 L932.00 336.66 L938.45 342.75 L944.90 348.62 L951.35 354.27 L957.80 359.73 L964.25 365.01 L970.70 370.15 L977.15 375.18 L983.60 380.15 L990.05 385.08 L996.50 390.03 L1002.95 395.01 L1009.40 400.02 L1014.56 404.04" stroke="#515151"/>
<path d="M680.97 119.93 L682.00 119.90 L683.03 119.86 L684.06 119.82 L685.09 119.78 L686.13 119.74 L687.16 119.70 L688.19 119.66 L689.22 119.61 L690.25 119.57 L691.29 119.52 L692.32 119.46 L693.35 119.40 L694.38 119.34 L695.41 119.28 L696.45 119.21 L697.48 119.14 L698.51 119.06 L699.54 118.98 L700.57 118.90 L701.61 118.81 L702.64 118.72 L703.67 118.62 L704.70 118.51 L705.73 118.41 L706.77 118.29 L707.80 118.17 L708.83 118.05 L709.86 117.92 L710.89 117.78 L711.93 117.64 L712.96 117.50 L713.99 117.34 L715.02 117.19 L716.05 117.02 L717.09 116.85 L718.12 116.67 L719.15 116.49 L720.18 116.30 L721.21 116.10 L722.25 115.90 L723.28 115.69 L724.31 115.47 L725.34 115.25 L726.37 115.02 L727.41 114.78 L728.44 114.53 L729.47 114.27 L730.50 114.01 L731.53 113.74 L732.57 113.46 L733.60 113.17 L734.63 112.88 L735.66 112.57 L736.69 112.26 L737.73 111.94 L738.76 111.61 L739.79 111.27 L740.82 110.92 L741.85 110.57 L742.89 110.20 L743.92 109.83 L744.95 109.45 L745.98 109.06 L747.01 108.66 L748.05 108.25 L749.08 107.84 L750.11 107.41 L751.14 106.98 L752.17 106.55 L753.21 106.10 L754.24 105.65 L755.27 105.19 L756.30 104.73 L757.33 104.26 L758.37 103.79 L759.40 103.31 L760.43 102.82 L761.46 102.33 L762.49 101.84 L763.53 101.34 L764.56 100.84 L765.59 100.34 L766.62 99.84 L767.65 99.33 L768.69 98.83 L769.72 98.32 L770.75 97.81 L771.78 97.30 L772.81 96.79 L773.85 96.29 L774.88 95.78 L775.91 95.28 L776.94 94.78 L777.97 94.28 L779.01 93.79 L780.04 93.30 L781.07 92.81 L782.10 92.33 L783.13 91.86 L784.17 91.39 L785.20 90.93 L786.23 90.47 L787.26 90.03 L788.29 89.59 L789.33 89.17 L790.36 88.75 L791.39 88.34 L792.42 87.95 L793.45 87.57 L794.49 87.20 L795.52 86.85 L796.55 86.51 L797.58 86.19 L798.61 85.89 L799.65 85.60 L800.68 85.33 L801.71 85.08 L802.74 84.85 L803.77 84.65 L804.81 84.46 L805.84 84.30 L806.87 84.16 L807.90 84.04 L808.93 83.96 L809.97 83.90 L811.00 83.87 L812.03 83.87 L813.06 83.91 L814.09 83.97 L815.13 84.07 L816.16 84.21 L817.19 84.38 L818.22 84.58 L819.25 84.82 L820.29 85.10 L821.32 85.41 L822.35 85.76 L823.38 86.14 L824.41 86.56 L825.45 87.02 L826.48 87.51 L827.51 88.03 L828.54 88.59 L829.57 89.18 L830.61 89.80 L831.64 90.46 L832.67 91.15 L833.70 91.87 L834.73 92.62 L835.77 93.40 L836.80 94.21 L837.83 95.05 L838.86 95.91 L839.89 96.81 L840.93 97.72 L841.96 98.66 L842.99 99.63 L844.02 100.61 L845.05 101.62 L846.09 102.65 L847.12 103.70 L848.15 104.77 L849.18 105.85 L850.21 106.95 L851.25 108.07 L852.28 109.20 L853.31 110.35 L854.34 111.51 L855.37 112.68 L856.41 113.87 L857.44 115.07 L858.47 116.27 L859.50 117.49 L860.53 118.71 L861.57 119.95 L862.60 121.19 L863.63 122.44 L864.66 123.69 L865.69 124.96 L866.73 126.22 L867.76 127.50 L868.79 128.78 L869.82 130.07 L870.85 131.36 L871.89 132.65 L872.92 133.95 L873.95 135.26 L874.98 136.56 L876.01 137.87 L877.05 139.18 L878.08 140.50 L879.11 141.81 L880.14 143.13 L881.17 144.44 L882.21 145.76 L883.24 147.08 L884.27 148.40 L885.30 149.72 L886.33 151.04 L887.37 152.35 L888.40 153.67 L889.43 154.98 L890.46 156.29 L891.49 157.60 L892.53 158.91 L893.56 160.22 L894.59 161.52 L895.62 162.82 L896.65 164.11 L897.69 165.40 L898.72 166.69 L899.75 167.97 L900.78 169.25 L901.81 170.52 L902.85 171.79 L903.88 173.06 L904.91 174.32 L905.94 175.57 L906.97 176.82 L908.01 178.07 L909.04 179.31 L910.07 180.54 L911.10 181.77 L912.13 183.00 L913.17 184.21 L914.20 185.43 L915.23 186.64 L916.26 187.84 L917.29 189.04 L918.33 190.23 L919.36 191.41 L920.39 192.59 L921.42 193.76 L922.45 194.93 L923.49 196.09 L924.52 197.25 L925.55 198.40 L926.58 199.54 L927.61 200.68 L928.65 201.81 L929.68 202.93 L930.71 204.05 L931.74 205.16 L932.77 206.27 L933.81 207.37 L934.84 208.46 L935.87 209.54 L936.90 210.62 L937.93 211.70 L938.97 212.76 L940.00 213.82 L941.03 214.88 L942.06 215.92 L943.09 216.97 L944.13 218.00 L945.16 219.03 L946.19 220.05 L947.22 221.07 L948.25 222.07 L949.29 223.08 L950.32 224.07 L951.35 225.06 L952.38 226.05 L953.41 227.02 L954.45 227.99 L955.48 228.96 L956.51 229.92 L957.54 230.87 L958.57 231.81 L959.61 232.75 L960.64 233.69 L961.67 234.62 L962.70 235.54 L963.73 236.45 L964.77 237.37 L965.80 238.27 L966.83 239.17 L967.86 240.06 L968.89 240.95 L969.93 241.84 L970.96 242.72 L971.99 243.59 L973.02 244.46 L974.05 245.32 L975.09 246.18 L976.12 247.03 L977.15 247.88 L978.18 248.73 L979.21 249.57 L980.25 250.40 L981.28 251.24 L982.31 252.06 L983.34 252.89 L984.37 253.71 L985.41 254.53 L986.44 255.34 L987.47 256.15 L988.50 256.96 L989.53 257.76 L990.57 258.56 L991.60 259.36 L992.63 260.15 L993.66 260.95 L994.69 261.73 L995.73 262.52 L996.76 263.31 L997.79 264.09 L998.82 264.87 L999.85 265.65 L1000.89 266.42 L1001.92 267.20 L1002.95 267.97 L1003.98 268.74 L1005.01 269.51 L1006.05 270.28 L1007.08 271.05 L1008.11 271.81 L1009.14 272.57 L1010.17 273.33 L1011.21 274.09 L1012.24 274.85 L1013.27 275.61 L1014.30 276.37 L1015.33 277.12 L1016.37 277.87 L1017.40 278.62 L1018.43 279.37 L1019.46 280.12 L1020.49 280.86 L1021.53 281.61 L1022.56 282.35 L1023.59 283.09 L1024.62 283.82 L1025.65 284.56 L1026.69 285.29 L1027.72 286.02 L1028.75 286.75 L1029.78 287.48 L1030.81 288.20 L1031.85 288.92 L1032.88 289.64 L1033.91 290.36 L1034.94 291.07 L1035.97 291.78 L1037.01 292.49 L1038.04 293.20 L1039.07 293.90 L1040.10 294.61 L1041.13 295.30 L1042.17 296.00 L1043.20 296.70 L1044.23 297.39 L1045.26 298.08 L1046.29 298.77 L1047.33 299.46 L1048.36 300.14 L1049.39 300.83 L1050.42 301.51 L1051.45 302.19 L1052.49 302.87 L1053.52 303.54 L1054.55 304.22 L1055.58 304.89 L1056.61 305.57 L1057.65 306.24 L1058.68 306.91 L1059.71 307.58 L1060.74 308.25 L1061.77 308.91 L1062.81 309.58 L1063.84 310.25 L1064.87 310.91 L1065.90 311.57 L1066.93 312.23 L1067.97 312.89 L1069.00 313.55 L1070.03 314.21 L1071.06 314.87 L1072.09 315.52 L1073.13 316.18 L1074.16 316.83 L1075.19 317.48 L1076.22 318.13 L1077.25 318.78 L1078.29 319.43 L1079.32 320.08 L1080.35 320.72 L1081.38 321.37 L1082.41 322.01 L1083.45 322.66 L1084.48 323.30 L1085.51 323.94 L1086.54 324.58 L1087.57 325.22 L1088.61 325.86 L1089.64 326.50 L1090.67 327.13 L1091.70 327.77 L1092.73 328.40 L1093.77 329.04 L1094.80 329.67 L1095.83 330.30 L1096.86 330.94 L1097.89 331.57 L1098.93 332.20 L1099.96 332.83 L1100.99 333.46 L1102.02 334.08 L1103.05 334.71 L1104.09 335.34 L1105.12 335.96 L1106.15 336.59 L1107.18 337.21 L1108.21 337.83 L1109.25 338.45 L1110.28 339.07 L1111.31 339.69 L1112.34 340.30 L1113.37 340.92 L1114.41 341.53 L1115.44 342.15 L1116.47 342.76 L1117.50 343.37 L1118.53 343.97 L1119.57 344.58 L1120.60 345.18 L1121.63 345.79 L1122.66 346.39 L1123.69 346.99 L1124.73 347.59 L1125.76 348.18 L1126.79 348.78 L1127.82 349.37 L1128.85 349.96 L1129.89 350.55 L1130.92 351.13 L1131.95 351.72 L1132.98 352.30 L1134.01 352.88 L1135.05 353.45 L1136.08 354.03 L1137.11 354.60 L1138.14 355.17 L1139.17 355.74 L1140.21 356.31 L1141.24 356.87 L1142.27 357.44 L1143.30 358.00 L1144.33 358.55 L1145.37 359.11 L1146.40 359.66 L1147.43 360.21 L1148.46 360.76 L1149.49 361.30 L1150.53 361.85 L1151.56 362.39 L1152.59 362.93 L1153.62 363.46 L1154.65 363.99 L1155.69 364.52 L1156.72 365.05 L1157.75 365.58 L1158.78 366.10 L1159.81 366.62 L1160.85 367.14 L1161.88 367.65 L1162.91 368.16 L1163.94 368.67 L1164.97 369.18 L1166.01 369.69 L1167.04 370.19 L1168.07 370.69 L1169.10 371.19 L1170.13 371.68 L1171.17 372.17 L1172.20 372.67 L1173.23 373.16 L1174.26 373.65 L1175.29 374.13 L1176.33 374.62 L1177.36 375.10 L1178.39 375.59 L1179.42 376.07 L1180.45 376.55 L1181.49 377.03 L1182.52 377.51 L1183.55 377.99 L1184.58 378.47 L1185.61 378.95 L1186.65 379.43 L1187.68 379.91 L1188.71 380.39 L1188.71 380.39" stroke="#F14040"/>
<path d="M680.97 119.88 L682.00 119.85 L683.03 119.81 L684.06 119.78 L685.09 119.74 L686.13 119.71 L687.16 119.67 L688.19 119.63 L689.22 119.59 L690.25 119.55 L691.29 119.51 L692.32 119.46 L693.35 119.41 L694.38 119.37 L695.41 119.31 L696.45 119.26 L697.48 119.20 L698.51 119.15 L699.54 119.08 L700.57 119.02 L701.61 118.96 L702.64 118.89 L703.67 118.82 L704.70 118.74 L705.73 118.67 L706.77 118.59 L707.80 118.51 L708.83 118.43 L709.86 118.34 L710.89 118.25 L711.93 118.16 L712.96 118.07 L713.99 117.97 L715.02 117.87 L716.05 117.77 L717.09 117.67 L718.12 117.56 L719.15 117.45 L720.18 117.34 L721.21 117.22 L722.25 117.10 L723.28 116.98 L724.31 116.85 L725.34 116.72 L726.37 116.59 L727.41 116.46 L728.44 116.32 L729.47 116.17 L730.50 116.03 L731.53 115.88 L732.57 115.73 L733.60 115.57 L734.63 115.41 L735.66 115.25 L736.69 115.08 L737.73 114.91 L738.76 114.74 L739.79 114.56 L740.82 114.38 L741.85 114.19 L742.89 114.00 L743.92 113.81 L744.95 113.61 L745.98 113.41 L747.01 113.20 L748.05 112.99 L749.08 112.78 L750.11 112.56 L751.14 112.34 L752.17 112.12 L753.21 111.89 L754.24 111.65 L755.27 111.42 L756.30 111.17 L757.33 110.93 L758.37 110.68 L759.40 110.43 L760.43 110.17 L761.46 109.91 L762.49 109.65 L763.53 109.38 L764.56 109.11 L765.59 108.84 L766.62 108.57 L767.65 108.29 L768.69 108.01 L769.72 107.73 L770.75 107.45 L771.78 107.16 L772.81 106.88 L773.85 106.59 L774.88 106.30 L775.91 106.01 L776.94 105.72 L777.97 105.44 L779.01 105.15 L780.04 104.86 L781.07 104.57 L782.10 104.28 L783.13 103.99 L784.17 103.70 L785.20 103.41 L786.23 103.13 L787.26 102.84 L788.29 102.56 L789.33 102.28 L790.36 102.00 L791.39 101.72 L792.42 101.45 L793.45 101.17 L794.49 100.90 L795.52 100.63 L796.55 100.37 L797.58 100.11 L798.61 99.85 L799.65 99.60 L800.68 99.35 L801.71 99.10 L802.74 98.86 L803.77 98.62 L804.81 98.38 L805.84 98.15 L806.87 97.93 L807.90 97.71 L808.93 97.49 L809.97 97.28 L811.00 97.08 L812.03 96.88 L813.06 96.69 L814.09 96.51 L815.13 96.33 L816.16 96.16 L817.19 96.00 L818.22 95.85 L819.25 95.70 L820.29 95.57 L821.32 95.44 L822.35 95.33 L823.38 95.22 L824.41 95.13 L825.45 95.04 L826.48 94.97 L827.51 94.91 L828.54 94.86 L829.57 94.83 L830.61 94.81 L831.64 94.80 L832.67 94.81 L833.70 94.83 L834.73 94.86 L835.77 94.91 L836.80 94.98 L837.83 95.06 L838.86 95.16 L839.89 95.28 L840.93 95.41 L841.96 95.56 L842.99 95.73 L844.02 95.92 L845.05 96.12 L846.09 96.34 L847.12 96.58 L848.15 96.84 L849.18 97.11 L850.21 97.40 L851.25 97.70 L852.28 98.03 L853.31 98.36 L854.34 98.72 L855.37 99.09 L856.41 99.47 L857.44 99.87 L858.47 100.29 L859.50 100.72 L860.53 101.17 L861.57 101.63 L862.60 102.11 L863.63 102.60 L864.66 103.10 L865.69 103.62 L866.73 104.15 L867.76 104.70 L868.79 105.26 L869.82 105.83 L870.85 106.41 L871.89 107.01 L872.92 107.62 L873.95 108.24 L874.98 108.88 L876.01 109.53 L877.05 110.18 L878.08 110.85 L879.11 111.54 L880.14 112.23 L881.17 112.93 L882.21 113.64 L883.24 114.37 L884.27 115.10 L885.30 115.84 L886.33 116.59 L887.37 117.35 L888.40 118.12 L889.43 118.90 L890.46 119.68 L891.49 120.47 L892.53 121.28 L893.56 122.08 L894.59 122.90 L895.62 123.72 L896.65 124.54 L897.69 125.38 L898.72 126.22 L899.75 127.06 L900.78 127.91 L901.81 128.76 L902.85 129.62 L903.88 130.49 L904.91 131.35 L905.94 132.23 L906.97 133.10 L908.01 133.98 L909.04 134.86 L910.07 135.75 L911.10 136.63 L912.13 137.52 L913.17 138.41 L914.20 139.31 L915.23 140.20 L916.26 141.10 L917.29 142.00 L918.33 142.90 L919.36 143.80 L920.39 144.70 L921.42 145.60 L922.45 146.50 L923.49 147.41 L924.52 148.31 L925.55 149.21 L926.58 150.11 L927.61 151.02 L928.65 151.92 L929.68 152.82 L930.71 153.72 L931.74 154.62 L932.77 155.52 L933.81 156.42 L934.84 157.31 L935.87 158.21 L936.90 159.10 L937.93 160.00 L938.97 160.89 L940.00 161.78 L941.03 162.67 L942.06 163.56 L943.09 164.44 L944.13 165.33 L945.16 166.21 L946.19 167.10 L947.22 167.98 L948.25 168.86 L949.29 169.74 L950.32 170.62 L951.35 171.50 L952.38 172.37 L953.41 173.24 L954.45 174.12 L955.48 174.99 L956.51 175.86 L957.54 176.73 L958.57 177.59 L959.61 178.46 L960.64 179.32 L961.67 180.18 L962.70 181.05 L963.73 181.90 L964.77 182.76 L965.80 183.62 L966.83 184.47 L967.86 185.32 L968.89 186.18 L969.93 187.02 L970.96 187.87 L971.99 188.72 L973.02 189.56 L974.05 190.40 L975.09 191.24 L976.12 192.08 L977.15 192.92 L978.18 193.75 L979.21 194.58 L980.25 195.41 L981.28 196.24 L982.31 197.07 L983.34 197.90 L984.37 198.72 L985.41 199.54 L986.44 200.36 L987.47 201.18 L988.50 202.00 L989.53 202.81 L990.57 203.62 L991.60 204.43 L992.63 205.24 L993.66 206.05 L994.69 206.85 L995.73 207.65 L996.76 208.45 L997.79 209.25 L998.82 210.05 L999.85 210.84 L1000.89 211.64 L1001.92 212.43 L1002.95 213.21 L1003.98 214.00 L1005.01 214.78 L1006.05 215.56 L1007.08 216.34 L1008.11 217.12 L1009.14 217.89 L1010.17 218.66 L1011.21 219.43 L1012.24 220.20 L1013.27 220.96 L1014.30 221.72 L1015.33 222.48 L1016.37 223.24 L1017.40 223.99 L1018.43 224.74 L1019.46 225.49 L1020.49 226.24 L1021.53 226.98 L1022.56 227.72 L1023.59 228.46 L1024.62 229.19 L1025.65 229.93 L1026.69 230.66 L1027.72 231.39 L1028.75 232.11 L1029.78 232.83 L1030.81 233.55 L1031.85 234.27 L1032.88 234.99 L1033.91 235.70 L1034.94 236.41 L1035.97 237.11 L1037.01 237.82 L1038.04 238.52 L1039.07 239.22 L1040.10 239.91 L1041.13 240.61 L1042.17 241.30 L1043.20 241.99 L1044.23 242.67 L1045.26 243.36 L1046.29 244.04 L1047.33 244.71 L1048.36 245.39 L1049.39 246.06 L1050.42 246.73 L1051.45 247.40 L1052.49 248.06 L1053.52 248.72 L1054.55 249.38 L1055.58 250.04 L1056.61 250.69 L1057.65 251.35 L1058.68 252.00 L1059.71 252.65 L1060.74 253.29 L1061.77 253.94 L1062.81 254.59 L1063.84 255.24 L1064.87 255.88 L1065.90 256.53 L1066.93 257.17 L1067.97 257.82 L1069.00 258.46 L1070.03 259.11 L1071.06 259.75 L1072.09 260.40 L1073.13 261.04 L1074.16 261.69 L1075.19 262.33 L1076.22 262.97 L1077.25 263.62 L1078.29 264.26 L1079.32 264.90 L1080.35 265.55 L1081.38 266.19 L1082.41 266.83 L1083.45 267.47 L1084.48 268.11 L1085.51 268.75 L1086.54 269.39 L1087.57 270.02 L1088.61 270.66 L1089.64 271.30 L1090.67 271.93 L1091.70 272.56 L1092.73 273.20 L1093.77 273.83 L1094.80 274.46 L1095.83 275.09 L1096.86 275.71 L1097.89 276.34 L1098.93 276.96 L1099.96 277.59 L1100.99 278.21 L1102.02 278.83 L1103.05 279.45 L1104.09 280.06 L1105.12 280.68 L1106.15 281.29 L1107.18 281.90 L1108.21 282.51 L1109.25 283.12 L1110.28 283.73 L1111.31 284.33 L1112.34 284.93 L1113.37 285.53 L1114.41 286.13 L1115.44 286.73 L1116.47 287.32 L1117.50 287.91 L1118.53 288.50 L1119.57 289.09 L1120.60 289.67 L1121.63 290.26 L1122.66 290.84 L1123.69 291.42 L1124.73 291.99 L1125.76 292.56 L1126.79 293.14 L1127.82 293.70 L1128.85 294.27 L1129.89 294.83 L1130.92 295.39 L1131.95 295.95 L1132.98 296.51 L1134.01 297.06 L1135.05 297.61 L1136.08 298.16 L1137.11 298.70 L1138.14 299.25 L1139.17 299.79 L1140.21 300.33 L1141.24 300.86 L1142.27 301.40 L1143.30 301.93 L1144.33 302.46 L1145.37 302.98 L1146.40 303.51 L1147.43 304.03 L1148.46 304.55 L1149.49 305.07 L1150.53 305.58 L1151.56 306.10 L1152.59 306.61 L1153.62 307.12 L1154.65 307.63 L1155.69 308.13 L1156.72 308.64 L1157.75 309.14 L1158.78 309.64 L1159.81 310.14 L1160.85 310.63 L1161.88 311.13 L1162.91 311.62 L1163.94 312.11 L1164.97 312.60 L1166.01 313.09 L1167.04 313.57 L1168.07 314.06 L1169.10 314.54 L1170.13 315.02 L1171.17 315.50 L1172.20 315.98 L1173.23 316.46 L1174.26 316.94 L1175.29 317.41 L1176.33 317.89 L1177.36 318.36 L1178.39 318.84 L1179.42 319.31 L1180.45 319.78 L1181.49 320.25 L1182.52 320.72 L1183.55 321.19 L1184.58 321.66 L1185.61 322.13 L1186.65 322.60 L1187.68 323.07 L1188.71 323.54 L1188.71 323.54" stroke="#1A6FDF"/>
<path d="M680.97 119.89 L682.00 119.85 L683.03 119.81 L684.06 119.77 L685.09 119.73 L686.13 119.69 L687.16 119.65 L688.19 119.60 L689.22 119.56 L690.25 119.51 L691.29 119.46 L692.32 119.41 L693.35 119.36 L694.38 119.30 L695.41 119.24 L696.45 119.18 L697.48 119.12 L698.51 119.06 L699.54 118.99 L700.57 118.92 L701.61 118.85 L702.64 118.78 L703.67 118.70 L704.70 118.63 L705.73 118.55 L706.77 118.47 L707.80 118.39 L708.83 118.31 L709.86 118.22 L710.89 118.14 L711.93 118.05 L712.96 117.96 L713.99 117.87 L715.02 117.78 L716.05 117.69 L717.09 117.60 L718.12 117.50 L719.15 117.41 L720.18 117.31 L721.21 117.21 L722.25 117.11 L723.28 117.01 L724.31 116.91 L725.34 116.81 L726.37 116.71 L727.41 116.61 L728.44 116.50 L729.47 116.40 L730.50 116.29 L731.53 116.19 L732.57 116.08 L733.60 115.97 L734.63 115.86 L735.66 115.75 L736.69 115.63 L737.73 115.52 L738.76 115.40 L739.79 115.28 L740.82 115.17 L741.85 115.04 L742.89 114.92 L743.92 114.80 L744.95 114.67 L745.98 114.54 L747.01 114.41 L748.05 114.28 L749.08 114.15 L750.11 114.01 L751.14 113.88 L752.17 113.74 L753.21 113.60 L754.24 113.46 L755.27 113.32 L756.30 113.17 L757.33 113.02 L758.37 112.88 L759.40 112.73 L760.43 112.58 L761.46 112.42 L762.49 112.27 L763.53 112.11 L764.56 111.96 L765.59 111.80 L766.62 111.64 L767.65 111.48 L768.69 111.32 L769.72 111.16 L770.75 111.00 L771.78 110.84 L772.81 110.68 L773.85 110.51 L774.88 110.35 L775.91 110.18 L776.94 110.01 L777.97 109.85 L779.01 109.68 L780.04 109.51 L781.07 109.34 L782.10 109.17 L783.13 109.00 L784.17 108.83 L785.20 108.65 L786.23 108.48 L787.26 108.31 L788.29 108.14 L789.33 107.96 L790.36 107.79 L791.39 107.62 L792.42 107.45 L793.45 107.27 L794.49 107.10 L795.52 106.93 L796.55 106.76 L797.58 106.59 L798.61 106.42 L799.65 106.25 L800.68 106.08 L801.71 105.91 L802.74 105.74 L803.77 105.58 L804.81 105.41 L805.84 105.25 L806.87 105.09 L807.90 104.93 L808.93 104.77 L809.97 104.62 L811.00 104.47 L812.03 104.32 L813.06 104.18 L814.09 104.03 L815.13 103.89 L816.16 103.76 L817.19 103.62 L818.22 103.50 L819.25 103.37 L820.29 103.25 L821.32 103.13 L822.35 103.02 L823.38 102.91 L824.41 102.80 L825.45 102.70 L826.48 102.61 L827.51 102.51 L828.54 102.43 L829.57 102.35 L830.61 102.27 L831.64 102.20 L832.67 102.13 L833.70 102.07 L834.73 102.02 L835.77 101.97 L836.80 101.93 L837.83 101.90 L838.86 101.87 L839.89 101.84 L840.93 101.83 L841.96 101.82 L842.99 101.82 L844.02 101.83 L845.05 101.84 L846.09 101.86 L847.12 101.89 L848.15 101.93 L849.18 101.98 L850.21 102.03 L851.25 102.10 L852.28 102.17 L853.31 102.25 L854.34 102.35 L855.37 102.45 L856.41 102.57 L857.44 102.70 L858.47 102.84 L859.50 102.99 L860.53 103.15 L861.57 103.33 L862.60 103.51 L863.63 103.71 L864.66 103.92 L865.69 104.15 L866.73 104.38 L867.76 104.63 L868.79 104.88 L869.82 105.15 L870.85 105.43 L871.89 105.72 L872.92 106.02 L873.95 106.34 L874.98 106.66 L876.01 106.99 L877.05 107.34 L878.08 107.69 L879.11 108.05 L880.14 108.43 L881.17 108.81 L882.21 109.20 L883.24 109.61 L884.27 110.02 L885.30 110.45 L886.33 110.88 L887.37 111.32 L888.40 111.78 L889.43 112.24 L890.46 112.71 L891.49 113.20 L892.53 113.69 L893.56 114.19 L894.59 114.70 L895.62 115.22 L896.65 115.74 L897.69 116.28 L898.72 116.82 L899.75 117.37 L900.78 117.93 L901.81 118.49 L902.85 119.06 L903.88 119.64 L904.91 120.22 L905.94 120.81 L906.97 121.41 L908.01 122.01 L909.04 122.62 L910.07 123.24 L911.10 123.85 L912.13 124.48 L913.17 125.11 L914.20 125.74 L915.23 126.37 L916.26 127.02 L917.29 127.66 L918.33 128.31 L919.36 128.96 L920.39 129.61 L921.42 130.27 L922.45 130.92 L923.49 131.58 L924.52 132.24 L925.55 132.90 L926.58 133.57 L927.61 134.23 L928.65 134.89 L929.68 135.55 L930.71 136.22 L931.74 136.88 L932.77 137.54 L933.81 138.20 L934.84 138.86 L935.87 139.52 L936.90 140.18 L937.93 140.84 L938.97 141.50 L940.00 142.16 L941.03 142.82 L942.06 143.48 L943.09 144.14 L944.13 144.80 L945.16 145.46 L946.19 146.12 L947.22 146.78 L948.25 147.45 L949.29 148.11 L950.32 148.78 L951.35 149.44 L952.38 150.11 L953.41 150.78 L954.45 151.45 L955.48 152.12 L956.51 152.80 L957.54 153.48 L958.57 154.16 L959.61 154.84 L960.64 155.52 L961.67 156.20 L962.70 156.89 L963.73 157.57 L964.77 158.26 L965.80 158.95 L966.83 159.64 L967.86 160.34 L968.89 161.03 L969.93 161.73 L970.96 162.42 L971.99 163.12 L973.02 163.82 L974.05 164.52 L975.09 165.23 L976.12 165.93 L977.15 166.64 L978.18 167.34 L979.21 168.05 L980.25 168.76 L981.28 169.47 L982.31 170.18 L983.34 170.89 L984.37 171.60 L985.41 172.31 L986.44 173.03 L987.47 173.74 L988.50 174.45 L989.53 175.17 L990.57 175.88 L991.60 176.59 L992.63 177.30 L993.66 178.01 L994.69 178.72 L995.73 179.43 L996.76 180.14 L997.79 180.85 L998.82 181.55 L999.85 182.26 L1000.89 182.96 L1001.92 183.66 L1002.95 184.36 L1003.98 185.05 L1005.01 185.75 L1006.05 186.44 L1007.08 187.13 L1008.11 187.82 L1009.14 188.51 L1010.17 189.20 L1011.21 189.88 L1012.24 190.57 L1013.27 191.25 L1014.30 191.93 L1015.33 192.61 L1016.37 193.28 L1017.40 193.96 L1018.43 194.63 L1019.46 195.30 L1020.49 195.97 L1021.53 196.64 L1022.56 197.31 L1023.59 197.97 L1024.62 198.63 L1025.65 199.29 L1026.69 199.95 L1027.72 200.60 L1028.75 201.25 L1029.78 201.91 L1030.81 202.55 L1031.85 203.20 L1032.88 203.85 L1033.91 204.49 L1034.94 205.13 L1035.97 205.77 L1037.01 206.41 L1038.04 207.04 L1039.07 207.67 L1040.10 208.30 L1041.13 208.93 L1042.17 209.56 L1043.20 210.19 L1044.23 210.81 L1045.26 211.43 L1046.29 212.05 L1047.33 212.67 L1048.36 213.29 L1049.39 213.91 L1050.42 214.53 L1051.45 215.14 L1052.49 215.75 L1053.52 216.37 L1054.55 216.98 L1055.58 217.59 L1056.61 218.20 L1057.65 218.81 L1058.68 219.42 L1059.71 220.03 L1060.74 220.64 L1061.77 221.24 L1062.81 221.85 L1063.84 222.46 L1064.87 223.07 L1065.90 223.67 L1066.93 224.28 L1067.97 224.89 L1069.00 225.49 L1070.03 226.10 L1071.06 226.71 L1072.09 227.32 L1073.13 227.92 L1074.16 228.53 L1075.19 229.13 L1076.22 229.74 L1077.25 230.35 L1078.29 230.95 L1079.32 231.56 L1080.35 232.17 L1081.38 232.77 L1082.41 233.38 L1083.45 233.98 L1084.48 234.59 L1085.51 235.19 L1086.54 235.80 L1087.57 236.40 L1088.61 237.00 L1089.64 237.61 L1090.67 238.21 L1091.70 238.81 L1092.73 239.41 L1093.77 240.02 L1094.80 240.62 L1095.83 241.22 L1096.86 241.82 L1097.89 242.42 L1098.93 243.02 L1099.96 243.62 L1100.99 244.22 L1102.02 244.81 L1103.05 245.41 L1104.09 246.00 L1105.12 246.60 L1106.15 247.19 L1107.18 247.78 L1108.21 248.38 L1109.25 248.97 L1110.28 249.56 L1111.31 250.14 L1112.34 250.73 L1113.37 251.31 L1114.41 251.90 L1115.44 252.48 L1116.47 253.06 L1117.50 253.64 L1118.53 254.22 L1119.57 254.79 L1120.60 255.37 L1121.63 255.94 L1122.66 256.51 L1123.69 257.08 L1124.73 257.64 L1125.76 258.21 L1126.79 258.77 L1127.82 259.33 L1128.85 259.88 L1129.89 260.44 L1130.92 260.99 L1131.95 261.53 L1132.98 262.08 L1134.01 262.62 L1135.05 263.16 L1136.08 263.70 L1137.11 264.23 L1138.14 264.76 L1139.17 265.29 L1140.21 265.81 L1141.24 266.33 L1142.27 266.85 L1143.30 267.37 L1144.33 267.88 L1145.37 268.39 L1146.40 268.90 L1147.43 269.41 L1148.46 269.91 L1149.49 270.41 L1150.53 270.91 L1151.56 271.41 L1152.59 271.90 L1153.62 272.39 L1154.65 272.89 L1155.69 273.38 L1156.72 273.87 L1157.75 274.35 L1158.78 274.84 L1159.81 275.33 L1160.85 275.81 L1161.88 276.30 L1162.91 276.79 L1163.94 277.27 L1164.97 277.76 L1166.01 278.24 L1167.04 278.73 L1168.07 279.22 L1169.10 279.71 L1170.13 280.19 L1171.17 280.68 L1172.20 281.17 L1173.23 281.66 L1174.26 282.15 L1175.29 282.64 L1176.33 283.13 L1177.36 283.62 L1178.39 284.11 L1179.42 284.60 L1180.45 285.09 L1181.49 285.58 L1182.52 286.07 L1183.55 286.56 L1184.58 287.06 L1185.61 287.55 L1186.65 288.04 L1187.68 288.53 L1188.71 289.02 L1188.71 289.02" stroke="#37AD6B"/>
<path d="M680.97 119.83 L682.00 119.80 L683.03 119.77 L684.06 119.74 L685.09 119.72 L686.13 119.69 L687.16 119.66 L688.19 119.63 L689.22 119.60 L690.25 119.57 L691.29 119.53 L692.32 119.50 L693.35 119.47 L694.38 119.43 L695.41 119.40 L696.45 119.36 L697.48 119.33 L698.51 119.29 L699.54 119.25 L700.57 119.21 L701.61 119.17 L702.64 119.13 L703.67 119.09 L704.70 119.05 L705.73 119.00 L706.77 118.96 L707.80 118.91 L708.83 118.87 L709.86 118.82 L710.89 118.77 L711.93 118.72 L712.96 118.68 L713.99 118.63 L715.02 118.58 L716.05 118.52 L717.09 118.47 L718.12 118.42 L719.15 118.37 L720.18 118.31 L721.21 118.26 L722.25 118.20 L723.28 118.15 L724.31 118.09 L725.34 118.03 L726.37 117.97 L727.41 117.91 L728.44 117.85 L729.47 117.79 L730.50 117.73 L731.53 117.67 L732.57 117.60 L733.60 117.53 L734.63 117.47 L735.66 117.39 L736.69 117.32 L737.73 117.25 L738.76 117.17 L739.79 117.09 L740.82 117.01 L741.85 116.93 L742.89 116.84 L743.92 116.76 L744.95 116.67 L745.98 116.57 L747.01 116.48 L748.05 116.38 L749.08 116.29 L750.11 116.19 L751.14 116.08 L752.17 115.98 L753.21 115.87 L754.24 115.76 L755.27 115.65 L756.30 115.54 L757.33 115.43 L758.37 115.31 L759.40 115.19 L760.43 115.07 L761.46 114.95 L762.49 114.82 L763.53 114.70 L764.56 114.57 L765.59 114.44 L766.62 114.31 L767.65 114.18 L768.69 114.05 L769.72 113.91 L770.75 113.78 L771.78 113.64 L772.81 113.50 L773.85 113.36 L774.88 113.22 L775.91 113.08 L776.94 112.94 L777.97 112.80 L779.01 112.65 L780.04 112.51 L781.07 112.37 L782.10 112.22 L783.13 112.07 L784.17 111.93 L785.20 111.78 L786.23 111.64 L787.26 111.49 L788.29 111.34 L789.33 111.19 L790.36 111.05 L791.39 110.90 L792.42 110.75 L793.45 110.60 L794.49 110.46 L795.52 110.31 L796.55 110.17 L797.58 110.02 L798.61 109.88 L799.65 109.73 L800.68 109.59 L801.71 109.45 L802.74 109.31 L803.77 109.17 L804.81 109.03 L805.84 108.89 L806.87 108.75 L807.90 108.62 L808.93 108.49 L809.97 108.36 L811.00 108.23 L812.03 108.10 L813.06 107.98 L814.09 107.85 L815.13 107.73 L816.16 107.61 L817.19 107.50 L818.22 107.38 L819.25 107.27 L820.29 107.16 L821.32 107.06 L822.35 106.96 L823.38 106.86 L824.41 106.76 L825.45 106.67 L826.48 106.58 L827.51 106.49 L828.54 106.41 L829.57 106.33 L830.61 106.26 L831.64 106.19 L832.67 106.12 L833.70 106.06 L834.73 106.00 L835.77 105.95 L836.80 105.90 L837.83 105.86 L838.86 105.82 L839.89 105.78 L840.93 105.76 L841.96 105.74 L842.99 105.72 L844.02 105.71 L845.05 105.71 L846.09 105.71 L847.12 105.73 L848.15 105.74 L849.18 105.77 L850.21 105.80 L851.25 105.84 L852.28 105.88 L853.31 105.93 L854.34 105.99 L855.37 106.06 L856.41 106.13 L857.44 106.22 L858.47 106.31 L859.50 106.40 L860.53 106.51 L861.57 106.62 L862.60 106.75 L863.63 106.88 L864.66 107.01 L865.69 107.16 L866.73 107.31 L867.76 107.47 L868.79 107.64 L869.82 107.82 L870.85 108.00 L871.89 108.19 L872.92 108.39 L873.95 108.60 L874.98 108.81 L876.01 109.03 L877.05 109.26 L878.08 109.49 L879.11 109.74 L880.14 109.99 L881.17 110.24 L882.21 110.51 L883.24 110.78 L884.27 111.06 L885.30 111.34 L886.33 111.64 L887.37 111.94 L888.40 112.24 L889.43 112.56 L890.46 112.88 L891.49 113.21 L892.53 113.55 L893.56 113.90 L894.59 114.25 L895.62 114.60 L896.65 114.97 L897.69 115.34 L898.72 115.71 L899.75 116.09 L900.78 116.48 L901.81 116.88 L902.85 117.27 L903.88 117.68 L904.91 118.09 L905.94 118.51 L906.97 118.93 L908.01 119.36 L909.04 119.79 L910.07 120.23 L911.10 120.67 L912.13 121.12 L913.17 121.58 L914.20 122.04 L915.23 122.50 L916.26 122.97 L917.29 123.45 L918.33 123.93 L919.36 124.41 L920.39 124.90 L921.42 125.39 L922.45 125.89 L923.49 126.39 L924.52 126.89 L925.55 127.39 L926.58 127.90 L927.61 128.41 L928.65 128.93 L929.68 129.44 L930.71 129.96 L931.74 130.48 L932.77 131.00 L933.81 131.53 L934.84 132.05 L935.87 132.58 L936.90 133.11 L937.93 133.64 L938.97 134.18 L940.00 134.71 L941.03 135.25 L942.06 135.79 L943.09 136.33 L944.13 136.88 L945.16 137.42 L946.19 137.97 L947.22 138.52 L948.25 139.07 L949.29 139.63 L950.32 140.19 L951.35 140.75 L952.38 141.31 L953.41 141.88 L954.45 142.45 L955.48 143.03 L956.51 143.61 L957.54 144.19 L958.57 144.77 L959.61 145.36 L960.64 145.95 L961.67 146.55 L962.70 147.15 L963.73 147.75 L964.77 148.35 L965.80 148.96 L966.83 149.57 L967.86 150.18 L968.89 150.80 L969.93 151.42 L970.96 152.04 L971.99 152.66 L973.02 153.29 L974.05 153.92 L975.09 154.55 L976.12 155.18 L977.15 155.82 L978.18 156.45 L979.21 157.09 L980.25 157.74 L981.28 158.38 L982.31 159.03 L983.34 159.68 L984.37 160.33 L985.41 160.98 L986.44 161.63 L987.47 162.28 L988.50 162.93 L989.53 163.58 L990.57 164.23 L991.60 164.88 L992.63 165.54 L993.66 166.19 L994.69 166.83 L995.73 167.48 L996.76 168.13 L997.79 168.77 L998.82 169.41 L999.85 170.05 L1000.89 170.69 L1001.92 171.32 L1002.95 171.96 L1003.98 172.59 L1005.01 173.21 L1006.05 173.84 L1007.08 174.46 L1008.11 175.08 L1009.14 175.70 L1010.17 176.31 L1011.21 176.92 L1012.24 177.53 L1013.27 178.14 L1014.30 178.74 L1015.33 179.35 L1016.37 179.95 L1017.40 180.55 L1018.43 181.15 L1019.46 181.74 L1020.49 182.34 L1021.53 182.93 L1022.56 183.53 L1023.59 184.12 L1024.62 184.71 L1025.65 185.30 L1026.69 185.89 L1027.72 186.48 L1028.75 187.07 L1029.78 187.66 L1030.81 188.25 L1031.85 188.84 L1032.88 189.43 L1033.91 190.02 L1034.94 190.61 L1035.97 191.20 L1037.01 191.80 L1038.04 192.39 L1039.07 192.98 L1040.10 193.58 L1041.13 194.18 L1042.17 194.77 L1043.20 195.37 L1044.23 195.97 L1045.26 196.57 L1046.29 197.16 L1047.33 197.76 L1048.36 198.37 L1049.39 198.97 L1050.42 199.57 L1051.45 200.17 L1052.49 200.77 L1053.52 201.38 L1054.55 201.98 L1055.58 202.59 L1056.61 203.19 L1057.65 203.80 L1058.68 204.40 L1059.71 205.01 L1060.74 205.62 L1061.77 206.23 L1062.81 206.84 L1063.84 207.45 L1064.87 208.06 L1065.90 208.67 L1066.93 209.28 L1067.97 209.89 L1069.00 210.50 L1070.03 211.12 L1071.06 211.73 L1072.09 212.35 L1073.13 212.96 L1074.16 213.58 L1075.19 214.19 L1076.22 214.81 L1077.25 215.42 L1078.29 216.04 L1079.32 216.65 L1080.35 217.27 L1081.38 217.88 L1082.41 218.50 L1083.45 219.12 L1084.48 219.73 L1085.51 220.35 L1086.54 220.96 L1087.57 221.58 L1088.61 222.19 L1089.64 222.80 L1090.67 223.42 L1091.70 224.03 L1092.73 224.64 L1093.77 225.26 L1094.80 225.87 L1095.83 226.48 L1096.86 227.09 L1097.89 227.70 L1098.93 228.31 L1099.96 228.92 L1100.99 229.52 L1102.02 230.13 L1103.05 230.73 L1104.09 231.34 L1105.12 231.94 L1106.15 232.54 L1107.18 233.14 L1108.21 233.74 L1109.25 234.34 L1110.28 234.94 L1111.31 235.54 L1112.34 236.13 L1113.37 236.73 L1114.41 237.32 L1115.44 237.91 L1116.47 238.50 L1117.50 239.09 L1118.53 239.67 L1119.57 240.26 L1120.60 240.84 L1121.63 241.42 L1122.66 242.00 L1123.69 242.58 L1124.73 243.15 L1125.76 243.72 L1126.79 244.29 L1127.82 244.86 L1128.85 245.42 L1129.89 245.98 L1130.92 246.54 L1131.95 247.09 L1132.98 247.64 L1134.01 248.18 L1135.05 248.72 L1136.08 249.26 L1137.11 249.79 L1138.14 250.32 L1139.17 250.84 L1140.21 251.37 L1141.24 251.88 L1142.27 252.40 L1143.30 252.91 L1144.33 253.42 L1145.37 253.92 L1146.40 254.42 L1147.43 254.92 L1148.46 255.41 L1149.49 255.90 L1150.53 256.39 L1151.56 256.88 L1152.59 257.36 L1153.62 257.84 L1154.65 258.31 L1155.69 258.78 L1156.72 259.25 L1157.75 259.72 L1158.78 260.18 L1159.81 260.64 L1160.85 261.10 L1161.88 261.56 L1162.91 262.01 L1163.94 262.46 L1164.97 262.91 L1166.01 263.35 L1167.04 263.79 L1168.07 264.23 L1169.10 264.67 L1170.13 265.10 L1171.17 265.54 L1172.20 265.97 L1173.23 266.40 L1174.26 266.83 L1175.29 267.25 L1176.33 267.68 L1177.36 268.10 L1178.39 268.52 L1179.42 268.94 L1180.45 269.36 L1181.49 269.78 L1182.52 270.20 L1183.55 270.62 L1184.58 271.04 L1185.61 271.45 L1186.65 271.87 L1187.68 272.29 L1188.19 272.49" stroke="#B177DE"/>
</g>
<path d="M677 190.49 L1188 189.34" stroke="#000" stroke-width="1.6" stroke-dasharray="4.7 3.54" fill="none"/>
<path d="M1034.68 189.69 V400.0" stroke="#000" stroke-width="1.6" stroke-dasharray="3.4 3.03" fill="none"/>
<rect x="674" y="2.2" width="516" height="399.8" fill="none" stroke="#000" stroke-width="4"/>
<path d="M674.00 402.0 V395.0 M699.80 402.0 V398.8 M725.60 402.0 V395.0 M751.40 402.0 V398.8 M777.20 402.0 V395.0 M803.00 402.0 V398.8 M828.80 402.0 V395.0 M854.60 402.0 V398.8 M880.40 402.0 V395.0 M906.20 402.0 V398.8 M932.00 402.0 V395.0 M957.80 402.0 V398.8 M983.60 402.0 V395.0 M1009.40 402.0 V398.8 M1035.20 402.0 V395.0 M1061.00 402.0 V398.8 M1086.80 402.0 V395.0 M1112.60 402.0 V398.8 M1138.40 402.0 V395.0 M1164.20 402.0 V398.8 M1190.00 402.0 V395.0 M674 402.00 H681 M674 366.72 H677.2 M674 331.45 H681 M674 296.17 H677.2 M674 260.89 H681 M674 225.62 H677.2 M674 190.34 H681 M674 155.06 H677.2 M674 119.79 H681 M674 84.51 H677.2 M674 49.24 H681 M674 13.96 H677.2" stroke="#000" stroke-width="4" fill="none"/>
<text x="674.00" y="426.80" text-anchor="middle" font-size="22" font-family="Liberation Serif" font-weight="bold">0</text>
<text x="725.60" y="426.80" text-anchor="middle" font-size="22" font-family="Liberation Serif" font-weight="bold">2</text>
<text x="777.20" y="426.80" text-anchor="middle" font-size="22" font-family="Liberation Serif" font-weight="bold">4</text>
<text x="828.80" y="426.80" text-anchor="middle" font-size="22" font-family="Liberation Serif" font-weight="bold">6</text>
<text x="880.40" y="426.80" text-anchor="middle" font-size="22" font-family="Liberation Serif" font-weight="bold">8</text>
<text x="932.00" y="426.80" text-anchor="middle" font-size="22" font-family="Liberation Serif" font-weight="bold">10</text>
<text x="983.60" y="426.80" text-anchor="middle" font-size="22" font-family="Liberation Serif" font-weight="bold">12</text>
<text x="1035.20" y="426.80" text-anchor="middle" font-size="22" font-family="Liberation Serif" font-weight="bold">14</text>
<text x="1086.80" y="426.80" text-anchor="middle" font-size="22" font-family="Liberation Serif" font-weight="bold">16</text>
<text x="1138.40" y="426.80" text-anchor="middle" font-size="22" font-family="Liberation Serif" font-weight="bold">18</text>
<text x="1190.00" y="426.80" text-anchor="middle" font-size="22" font-family="Liberation Serif" font-weight="bold">20</text>
<text x="665.40" y="408.80" text-anchor="end" font-size="22" font-family="Liberation Serif" font-weight="bold">−12</text>
<text x="665.40" y="338.25" text-anchor="end" font-size="22" font-family="Liberation Serif" font-weight="bold">−9</text>
<text x="665.40" y="267.69" text-anchor="end" font-size="22" font-family="Liberation Serif" font-weight="bold">−6</text>
<text x="665.40" y="197.14" text-anchor="end" font-size="22" font-family="Liberation Serif" font-weight="bold">−3</text>
<text x="665.40" y="126.59" text-anchor="end" font-size="22" font-family="Liberation Serif" font-weight="bold">0</text>
<text x="665.40" y="56.04" text-anchor="end" font-size="22" font-family="Liberation Serif" font-weight="bold">3</text>
<text x="931.50" y="452.25" text-anchor="middle" font-size="31.7" font-family="Liberation Serif" font-weight="bold">Freq (GHz)</text>
<text transform="translate(625.30,373.50) rotate(-90)" x="0" y="0" font-size="31.7" font-family="Liberation Serif" font-weight="bold">Modulation response(dB)</text>
<text x="686.8" y="39.5" font-size="30" font-family="Liberation Serif" font-weight="bold">(b)</text>
<text x="817.75" y="35.0" font-size="31.6" font-family="Liberation Serif" font-weight="bold">2-Junction</text>
<text x="970.2" y="35.0" font-size="31.6" fill="#FF0000" font-family="Liberation Serif" font-weight="bold">85<tspan font-weight="normal">°</tspan>C</text>
<path d="M1058.8 24.60 H1112.8" stroke="#515151" stroke-width="3.9" stroke-linecap="round"/>
<text x="1119" y="33.00" font-size="25" font-family="Liberation Serif" font-weight="bold">2 mA</text>
<path d="M1058.8 55.00 H1112.8" stroke="#F14040" stroke-width="3.9" stroke-linecap="round"/>
<text x="1119" y="63.40" font-size="25" font-family="Liberation Serif" font-weight="bold">4 mA</text>
<path d="M1058.8 85.40 H1112.8" stroke="#1A6FDF" stroke-width="3.9" stroke-linecap="round"/>
<text x="1119" y="93.80" font-size="25" font-family="Liberation Serif" font-weight="bold">6 mA</text>
<path d="M1058.8 115.80 H1112.8" stroke="#37AD6B" stroke-width="3.9" stroke-linecap="round"/>
<text x="1119" y="124.20" font-size="25" font-family="Liberation Serif" font-weight="bold">8 mA</text>
<path d="M1058.8 146.20 H1112.8" stroke="#B177DE" stroke-width="3.9" stroke-linecap="round"/>
<text x="1119" y="154.60" font-size="25" font-family="Liberation Serif" font-weight="bold">10mA</text>
<clipPath id="c2"><rect x="70" y="463.7" width="516" height="399.8"/></clipPath>
<g clip-path="url(#c2)" fill="none" stroke-width="3.5" stroke-linejoin="round" stroke-linecap="round">
<path d="M76.45 581.38 L82.90 582.21 L89.35 582.76 L95.80 582.71 L102.25 581.85 L108.70 580.23 L115.15 577.95 L121.60 575.07 L128.05 571.67 L134.50 567.81 L140.95 563.42 L147.40 558.50 L153.85 553.17 L160.30 547.70 L166.75 542.55 L173.20 538.68 L179.65 537.11 L186.10 538.56 L192.55 543.10 L199.00 550.41 L205.45 559.86 L211.90 570.75 L218.35 582.20 L224.80 593.40 L231.25 604.63 L237.70 616.07 L244.15 627.53 L250.60 638.79 L257.05 649.66 L263.50 660.01 L269.95 669.79 L276.40 678.97 L282.85 687.65 L289.30 695.91 L295.75 703.82 L302.20 711.43 L308.65 718.73 L315.10 725.72 L321.55 732.42 L328.00 738.83 L334.45 745.00 L340.90 750.94 L347.35 756.69 L353.80 762.26 L360.25 767.70 L366.70 773.03 L373.15 778.30 L379.60 783.51 L386.05 788.68 L392.50 793.80 L398.95 798.84 L405.40 803.79 L411.85 808.62 L418.30 813.31 L424.75 817.86 L431.20 822.26 L437.65 826.53 L444.10 830.67 L450.55 834.71 L457.00 838.66 L463.45 842.55 L469.90 846.38 L476.35 850.17 L482.80 853.92 L489.25 857.65 L495.70 861.38 L500.86 864.36" stroke="#515151"/>
<path d="M76.45 581.41 L77.48 581.39 L78.51 581.38 L79.55 581.36 L80.58 581.34 L81.61 581.32 L82.64 581.30 L83.67 581.28 L84.71 581.26 L85.74 581.23 L86.77 581.21 L87.80 581.18 L88.83 581.14 L89.87 581.11 L90.90 581.07 L91.93 581.02 L92.96 580.98 L93.99 580.93 L95.03 580.88 L96.06 580.83 L97.09 580.77 L98.12 580.71 L99.15 580.65 L100.19 580.58 L101.22 580.51 L102.25 580.44 L103.28 580.36 L104.31 580.28 L105.35 580.20 L106.38 580.11 L107.41 580.02 L108.44 579.93 L109.47 579.84 L110.51 579.74 L111.54 579.63 L112.57 579.52 L113.60 579.41 L114.63 579.30 L115.67 579.18 L116.70 579.06 L117.73 578.93 L118.76 578.80 L119.79 578.66 L120.83 578.52 L121.86 578.38 L122.89 578.23 L123.92 578.08 L124.95 577.92 L125.99 577.76 L127.02 577.59 L128.05 577.42 L129.08 577.25 L130.11 577.06 L131.15 576.88 L132.18 576.69 L133.21 576.49 L134.24 576.29 L135.27 576.09 L136.31 575.88 L137.34 575.67 L138.37 575.45 L139.40 575.23 L140.43 575.00 L141.47 574.77 L142.50 574.53 L143.53 574.29 L144.56 574.04 L145.59 573.79 L146.63 573.54 L147.66 573.28 L148.69 573.02 L149.72 572.75 L150.75 572.48 L151.79 572.21 L152.82 571.93 L153.85 571.65 L154.88 571.36 L155.91 571.08 L156.95 570.79 L157.98 570.49 L159.01 570.20 L160.04 569.90 L161.07 569.60 L162.11 569.29 L163.14 568.98 L164.17 568.68 L165.20 568.36 L166.23 568.05 L167.27 567.74 L168.30 567.42 L169.33 567.10 L170.36 566.78 L171.39 566.46 L172.43 566.13 L173.46 565.81 L174.49 565.48 L175.52 565.15 L176.55 564.83 L177.59 564.50 L178.62 564.18 L179.65 563.85 L180.68 563.53 L181.71 563.21 L182.75 562.89 L183.78 562.57 L184.81 562.25 L185.84 561.94 L186.87 561.63 L187.91 561.32 L188.94 561.02 L189.97 560.72 L191.00 560.43 L192.03 560.14 L193.07 559.85 L194.10 559.57 L195.13 559.30 L196.16 559.04 L197.19 558.78 L198.23 558.53 L199.26 558.29 L200.29 558.06 L201.32 557.84 L202.35 557.63 L203.39 557.43 L204.42 557.24 L205.45 557.06 L206.48 556.90 L207.51 556.74 L208.55 556.60 L209.58 556.48 L210.61 556.36 L211.64 556.26 L212.67 556.18 L213.71 556.11 L214.74 556.05 L215.77 556.01 L216.80 555.98 L217.83 555.97 L218.87 555.98 L219.90 556.00 L220.93 556.04 L221.96 556.10 L222.99 556.17 L224.03 556.26 L225.06 556.37 L226.09 556.49 L227.12 556.64 L228.15 556.80 L229.19 556.98 L230.22 557.17 L231.25 557.39 L232.28 557.62 L233.31 557.88 L234.35 558.15 L235.38 558.43 L236.41 558.74 L237.44 559.07 L238.47 559.41 L239.51 559.77 L240.54 560.14 L241.57 560.54 L242.60 560.95 L243.63 561.38 L244.67 561.82 L245.70 562.29 L246.73 562.77 L247.76 563.26 L248.79 563.77 L249.83 564.30 L250.86 564.84 L251.89 565.40 L252.92 565.97 L253.95 566.56 L254.99 567.17 L256.02 567.79 L257.05 568.43 L258.08 569.08 L259.11 569.74 L260.15 570.42 L261.18 571.11 L262.21 571.82 L263.24 572.54 L264.27 573.28 L265.31 574.02 L266.34 574.79 L267.37 575.56 L268.40 576.35 L269.43 577.15 L270.47 577.96 L271.50 578.79 L272.53 579.62 L273.56 580.47 L274.59 581.33 L275.63 582.20 L276.66 583.09 L277.69 583.98 L278.72 584.88 L279.75 585.80 L280.79 586.72 L281.82 587.65 L282.85 588.59 L283.88 589.54 L284.91 590.50 L285.95 591.47 L286.98 592.44 L288.01 593.42 L289.04 594.40 L290.07 595.39 L291.11 596.38 L292.14 597.38 L293.17 598.38 L294.20 599.39 L295.23 600.40 L296.27 601.41 L297.30 602.43 L298.33 603.44 L299.36 604.47 L300.39 605.49 L301.43 606.51 L302.46 607.54 L303.49 608.57 L304.52 609.59 L305.55 610.62 L306.59 611.65 L307.62 612.68 L308.65 613.71 L309.68 614.75 L310.71 615.78 L311.75 616.81 L312.78 617.84 L313.81 618.87 L314.84 619.89 L315.87 620.92 L316.91 621.95 L317.94 622.97 L318.97 624.00 L320.00 625.02 L321.03 626.04 L322.07 627.06 L323.10 628.08 L324.13 629.09 L325.16 630.11 L326.19 631.12 L327.23 632.13 L328.26 633.14 L329.29 634.14 L330.32 635.15 L331.35 636.15 L332.39 637.15 L333.42 638.15 L334.45 639.14 L335.48 640.13 L336.51 641.12 L337.55 642.10 L338.58 643.08 L339.61 644.06 L340.64 645.04 L341.67 646.01 L342.71 646.98 L343.74 647.94 L344.77 648.90 L345.80 649.86 L346.83 650.81 L347.87 651.75 L348.90 652.70 L349.93 653.64 L350.96 654.57 L351.99 655.50 L353.03 656.42 L354.06 657.34 L355.09 658.26 L356.12 659.17 L357.15 660.07 L358.19 660.97 L359.22 661.86 L360.25 662.75 L361.28 663.63 L362.31 664.51 L363.35 665.38 L364.38 666.25 L365.41 667.11 L366.44 667.96 L367.47 668.81 L368.51 669.66 L369.54 670.50 L370.57 671.33 L371.60 672.16 L372.63 672.99 L373.67 673.81 L374.70 674.62 L375.73 675.43 L376.76 676.24 L377.79 677.04 L378.83 677.84 L379.86 678.64 L380.89 679.43 L381.92 680.22 L382.95 681.00 L383.99 681.79 L385.02 682.57 L386.05 683.34 L387.08 684.12 L388.11 684.89 L389.15 685.67 L390.18 686.44 L391.21 687.21 L392.24 687.97 L393.27 688.74 L394.31 689.51 L395.34 690.27 L396.37 691.03 L397.40 691.79 L398.43 692.56 L399.47 693.32 L400.50 694.07 L401.53 694.83 L402.56 695.59 L403.59 696.34 L404.63 697.10 L405.66 697.85 L406.69 698.61 L407.72 699.36 L408.75 700.12 L409.79 700.87 L410.82 701.62 L411.85 702.37 L412.88 703.12 L413.91 703.87 L414.95 704.62 L415.98 705.37 L417.01 706.12 L418.04 706.86 L419.07 707.60 L420.11 708.35 L421.14 709.09 L422.17 709.83 L423.20 710.56 L424.23 711.30 L425.27 712.03 L426.30 712.76 L427.33 713.49 L428.36 714.22 L429.39 714.94 L430.43 715.67 L431.46 716.39 L432.49 717.11 L433.52 717.82 L434.55 718.54 L435.59 719.25 L436.62 719.95 L437.65 720.66 L438.68 721.36 L439.71 722.06 L440.75 722.76 L441.78 723.46 L442.81 724.15 L443.84 724.84 L444.87 725.52 L445.91 726.21 L446.94 726.89 L447.97 727.57 L449.00 728.25 L450.03 728.92 L451.07 729.59 L452.10 730.26 L453.13 730.92 L454.16 731.59 L455.19 732.25 L456.23 732.91 L457.26 733.56 L458.29 734.21 L459.32 734.86 L460.35 735.51 L461.39 736.16 L462.42 736.80 L463.45 737.44 L464.48 738.08 L465.51 738.72 L466.55 739.36 L467.58 739.99 L468.61 740.62 L469.64 741.25 L470.67 741.88 L471.71 742.50 L472.74 743.13 L473.77 743.75 L474.80 744.37 L475.83 744.99 L476.87 745.61 L477.90 746.22 L478.93 746.84 L479.96 747.45 L480.99 748.06 L482.03 748.67 L483.06 749.28 L484.09 749.89 L485.12 750.49 L486.15 751.10 L487.19 751.70 L488.22 752.31 L489.25 752.91 L490.28 753.51 L491.31 754.11 L492.35 754.71 L493.38 755.31 L494.41 755.90 L495.44 756.50 L496.47 757.09 L497.51 757.69 L498.54 758.28 L499.57 758.87 L500.60 759.46 L501.63 760.05 L502.67 760.63 L503.70 761.22 L504.73 761.81 L505.76 762.39 L506.79 762.98 L507.83 763.56 L508.86 764.14 L509.89 764.72 L510.92 765.30 L511.95 765.88 L512.99 766.46 L514.02 767.03 L515.05 767.61 L516.08 768.18 L517.11 768.75 L518.15 769.33 L519.18 769.90 L520.21 770.47 L521.24 771.04 L522.27 771.60 L523.31 772.17 L524.34 772.74 L525.37 773.30 L526.40 773.86 L527.43 774.42 L528.47 774.98 L529.50 775.54 L530.53 776.10 L531.56 776.65 L532.59 777.21 L533.63 777.76 L534.66 778.31 L535.69 778.86 L536.72 779.41 L537.75 779.96 L538.79 780.50 L539.82 781.05 L540.85 781.59 L541.88 782.13 L542.91 782.67 L543.95 783.21 L544.98 783.74 L546.01 784.27 L547.04 784.81 L548.07 785.34 L549.11 785.87 L550.14 786.40 L551.17 786.92 L552.20 787.45 L553.23 787.98 L554.27 788.50 L555.30 789.03 L556.33 789.56 L557.36 790.08 L558.39 790.61 L559.43 791.14 L560.46 791.66 L561.49 792.19 L562.52 792.72 L563.55 793.25 L564.59 793.78 L565.62 794.31 L566.65 794.85 L567.68 795.38 L568.71 795.91 L569.75 796.45 L570.78 796.98 L571.81 797.52 L572.84 798.06 L573.87 798.60 L574.91 799.13 L575.94 799.67 L576.97 800.21 L578.00 800.75 L579.03 801.29 L580.07 801.83 L581.10 802.37 L582.13 802.91 L583.16 803.45 L584.19 803.99 L584.19 803.99" stroke="#F14040"/>
<path d="M76.45 581.38 L77.48 581.37 L78.51 581.36 L79.55 581.35 L80.58 581.34 L81.61 581.33 L82.64 581.32 L83.67 581.30 L84.71 581.29 L85.74 581.27 L86.77 581.25 L87.80 581.23 L88.83 581.21 L89.87 581.19 L90.90 581.16 L91.93 581.13 L92.96 581.10 L93.99 581.07 L95.03 581.04 L96.06 581.00 L97.09 580.96 L98.12 580.91 L99.15 580.87 L100.19 580.82 L101.22 580.77 L102.25 580.72 L103.28 580.66 L104.31 580.60 L105.35 580.54 L106.38 580.48 L107.41 580.42 L108.44 580.35 L109.47 580.28 L110.51 580.21 L111.54 580.14 L112.57 580.06 L113.60 579.98 L114.63 579.90 L115.67 579.82 L116.70 579.74 L117.73 579.65 L118.76 579.56 L119.79 579.48 L120.83 579.38 L121.86 579.29 L122.89 579.20 L123.92 579.10 L124.95 579.00 L125.99 578.90 L127.02 578.79 L128.05 578.69 L129.08 578.58 L130.11 578.47 L131.15 578.36 L132.18 578.25 L133.21 578.14 L134.24 578.02 L135.27 577.90 L136.31 577.78 L137.34 577.66 L138.37 577.54 L139.40 577.42 L140.43 577.29 L141.47 577.16 L142.50 577.03 L143.53 576.90 L144.56 576.77 L145.59 576.63 L146.63 576.50 L147.66 576.36 L148.69 576.22 L149.72 576.08 L150.75 575.94 L151.79 575.80 L152.82 575.65 L153.85 575.51 L154.88 575.36 L155.91 575.21 L156.95 575.06 L157.98 574.91 L159.01 574.76 L160.04 574.60 L161.07 574.45 L162.11 574.29 L163.14 574.13 L164.17 573.98 L165.20 573.82 L166.23 573.66 L167.27 573.49 L168.30 573.33 L169.33 573.17 L170.36 573.01 L171.39 572.84 L172.43 572.68 L173.46 572.52 L174.49 572.35 L175.52 572.18 L176.55 572.02 L177.59 571.85 L178.62 571.68 L179.65 571.51 L180.68 571.35 L181.71 571.18 L182.75 571.01 L183.78 570.84 L184.81 570.67 L185.84 570.50 L186.87 570.33 L187.91 570.17 L188.94 570.00 L189.97 569.83 L191.00 569.67 L192.03 569.50 L193.07 569.34 L194.10 569.18 L195.13 569.01 L196.16 568.85 L197.19 568.69 L198.23 568.54 L199.26 568.38 L200.29 568.23 L201.32 568.07 L202.35 567.92 L203.39 567.78 L204.42 567.63 L205.45 567.49 L206.48 567.35 L207.51 567.21 L208.55 567.08 L209.58 566.95 L210.61 566.82 L211.64 566.69 L212.67 566.57 L213.71 566.46 L214.74 566.34 L215.77 566.23 L216.80 566.13 L217.83 566.03 L218.87 565.93 L219.90 565.84 L220.93 565.75 L221.96 565.67 L222.99 565.59 L224.03 565.52 L225.06 565.45 L226.09 565.39 L227.12 565.34 L228.15 565.29 L229.19 565.25 L230.22 565.22 L231.25 565.19 L232.28 565.17 L233.31 565.16 L234.35 565.15 L235.38 565.15 L236.41 565.17 L237.44 565.19 L238.47 565.21 L239.51 565.25 L240.54 565.29 L241.57 565.35 L242.60 565.41 L243.63 565.48 L244.67 565.56 L245.70 565.64 L246.73 565.74 L247.76 565.84 L248.79 565.95 L249.83 566.08 L250.86 566.21 L251.89 566.34 L252.92 566.49 L253.95 566.65 L254.99 566.81 L256.02 566.99 L257.05 567.17 L258.08 567.36 L259.11 567.56 L260.15 567.77 L261.18 567.99 L262.21 568.22 L263.24 568.46 L264.27 568.70 L265.31 568.96 L266.34 569.22 L267.37 569.50 L268.40 569.78 L269.43 570.07 L270.47 570.38 L271.50 570.69 L272.53 571.01 L273.56 571.34 L274.59 571.68 L275.63 572.03 L276.66 572.39 L277.69 572.75 L278.72 573.13 L279.75 573.52 L280.79 573.92 L281.82 574.33 L282.85 574.75 L283.88 575.17 L284.91 575.61 L285.95 576.06 L286.98 576.52 L288.01 576.99 L289.04 577.47 L290.07 577.95 L291.11 578.45 L292.14 578.96 L293.17 579.47 L294.20 580.00 L295.23 580.53 L296.27 581.08 L297.30 581.63 L298.33 582.19 L299.36 582.76 L300.39 583.33 L301.43 583.92 L302.46 584.51 L303.49 585.11 L304.52 585.72 L305.55 586.33 L306.59 586.95 L307.62 587.58 L308.65 588.22 L309.68 588.86 L310.71 589.50 L311.75 590.16 L312.78 590.82 L313.81 591.48 L314.84 592.15 L315.87 592.82 L316.91 593.50 L317.94 594.18 L318.97 594.87 L320.00 595.56 L321.03 596.26 L322.07 596.96 L323.10 597.66 L324.13 598.36 L325.16 599.07 L326.19 599.78 L327.23 600.49 L328.26 601.21 L329.29 601.92 L330.32 602.64 L331.35 603.36 L332.39 604.08 L333.42 604.80 L334.45 605.52 L335.48 606.25 L336.51 606.97 L337.55 607.69 L338.58 608.42 L339.61 609.14 L340.64 609.87 L341.67 610.59 L342.71 611.32 L343.74 612.04 L344.77 612.76 L345.80 613.48 L346.83 614.21 L347.87 614.93 L348.90 615.65 L349.93 616.37 L350.96 617.08 L351.99 617.80 L353.03 618.52 L354.06 619.23 L355.09 619.94 L356.12 620.66 L357.15 621.37 L358.19 622.08 L359.22 622.78 L360.25 623.49 L361.28 624.19 L362.31 624.90 L363.35 625.60 L364.38 626.30 L365.41 627.00 L366.44 627.70 L367.47 628.40 L368.51 629.09 L369.54 629.79 L370.57 630.48 L371.60 631.18 L372.63 631.87 L373.67 632.56 L374.70 633.25 L375.73 633.94 L376.76 634.63 L377.79 635.32 L378.83 636.01 L379.86 636.70 L380.89 637.39 L381.92 638.07 L382.95 638.76 L383.99 639.45 L385.02 640.14 L386.05 640.83 L387.08 641.52 L388.11 642.21 L389.15 642.90 L390.18 643.59 L391.21 644.29 L392.24 644.98 L393.27 645.67 L394.31 646.37 L395.34 647.06 L396.37 647.76 L397.40 648.46 L398.43 649.16 L399.47 649.86 L400.50 650.56 L401.53 651.26 L402.56 651.96 L403.59 652.66 L404.63 653.36 L405.66 654.06 L406.69 654.77 L407.72 655.47 L408.75 656.17 L409.79 656.88 L410.82 657.58 L411.85 658.28 L412.88 658.98 L413.91 659.68 L414.95 660.38 L415.98 661.08 L417.01 661.78 L418.04 662.48 L419.07 663.18 L420.11 663.87 L421.14 664.57 L422.17 665.26 L423.20 665.95 L424.23 666.64 L425.27 667.33 L426.30 668.02 L427.33 668.70 L428.36 669.39 L429.39 670.07 L430.43 670.75 L431.46 671.42 L432.49 672.10 L433.52 672.77 L434.55 673.45 L435.59 674.12 L436.62 674.78 L437.65 675.45 L438.68 676.11 L439.71 676.77 L440.75 677.43 L441.78 678.09 L442.81 678.74 L443.84 679.40 L444.87 680.05 L445.91 680.69 L446.94 681.34 L447.97 681.98 L449.00 682.62 L450.03 683.26 L451.07 683.90 L452.10 684.53 L453.13 685.16 L454.16 685.79 L455.19 686.42 L456.23 687.05 L457.26 687.67 L458.29 688.29 L459.32 688.91 L460.35 689.52 L461.39 690.14 L462.42 690.75 L463.45 691.36 L464.48 691.97 L465.51 692.58 L466.55 693.18 L467.58 693.79 L468.61 694.39 L469.64 694.99 L470.67 695.59 L471.71 696.19 L472.74 696.79 L473.77 697.39 L474.80 697.99 L475.83 698.58 L476.87 699.18 L477.90 699.77 L478.93 700.36 L479.96 700.96 L480.99 701.55 L482.03 702.14 L483.06 702.73 L484.09 703.33 L485.12 703.92 L486.15 704.51 L487.19 705.10 L488.22 705.69 L489.25 706.28 L490.28 706.86 L491.31 707.45 L492.35 708.04 L493.38 708.62 L494.41 709.21 L495.44 709.79 L496.47 710.37 L497.51 710.96 L498.54 711.54 L499.57 712.12 L500.60 712.70 L501.63 713.27 L502.67 713.85 L503.70 714.43 L504.73 715.00 L505.76 715.57 L506.79 716.14 L507.83 716.71 L508.86 717.27 L509.89 717.84 L510.92 718.40 L511.95 718.96 L512.99 719.52 L514.02 720.08 L515.05 720.63 L516.08 721.19 L517.11 721.74 L518.15 722.29 L519.18 722.85 L520.21 723.40 L521.24 723.95 L522.27 724.50 L523.31 725.05 L524.34 725.59 L525.37 726.14 L526.40 726.69 L527.43 727.23 L528.47 727.78 L529.50 728.32 L530.53 728.86 L531.56 729.41 L532.59 729.95 L533.63 730.49 L534.66 731.03 L535.69 731.56 L536.72 732.10 L537.75 732.64 L538.79 733.17 L539.82 733.70 L540.85 734.23 L541.88 734.76 L542.91 735.29 L543.95 735.82 L544.98 736.35 L546.01 736.87 L547.04 737.39 L548.07 737.91 L549.11 738.43 L550.14 738.95 L551.17 739.46 L552.20 739.97 L553.23 740.48 L554.27 740.99 L555.30 741.50 L556.33 742.01 L557.36 742.51 L558.39 743.01 L559.43 743.52 L560.46 744.02 L561.49 744.52 L562.52 745.02 L563.55 745.52 L564.59 746.02 L565.62 746.51 L566.65 747.01 L567.68 747.51 L568.71 748.01 L569.75 748.50 L570.78 749.00 L571.81 749.49 L572.84 749.99 L573.87 750.48 L574.91 750.98 L575.94 751.47 L576.97 751.97 L578.00 752.46 L579.03 752.96 L580.07 753.45 L581.10 753.94 L582.13 754.44 L583.16 754.93 L584.19 755.42 L584.19 755.42" stroke="#1A6FDF"/>
<path d="M76.45 581.36 L77.48 581.35 L78.51 581.34 L79.55 581.33 L80.58 581.32 L81.61 581.31 L82.64 581.30 L83.67 581.29 L84.71 581.27 L85.74 581.26 L86.77 581.24 L87.80 581.23 L88.83 581.21 L89.87 581.19 L90.90 581.17 L91.93 581.14 L92.96 581.12 L93.99 581.09 L95.03 581.06 L96.06 581.03 L97.09 581.00 L98.12 580.97 L99.15 580.93 L100.19 580.89 L101.22 580.85 L102.25 580.81 L103.28 580.77 L104.31 580.73 L105.35 580.68 L106.38 580.64 L107.41 580.59 L108.44 580.54 L109.47 580.49 L110.51 580.43 L111.54 580.38 L112.57 580.32 L113.60 580.27 L114.63 580.21 L115.67 580.15 L116.70 580.09 L117.73 580.03 L118.76 579.96 L119.79 579.90 L120.83 579.83 L121.86 579.76 L122.89 579.69 L123.92 579.62 L124.95 579.55 L125.99 579.47 L127.02 579.40 L128.05 579.32 L129.08 579.25 L130.11 579.17 L131.15 579.09 L132.18 579.00 L133.21 578.92 L134.24 578.84 L135.27 578.75 L136.31 578.66 L137.34 578.57 L138.37 578.48 L139.40 578.39 L140.43 578.30 L141.47 578.21 L142.50 578.11 L143.53 578.02 L144.56 577.92 L145.59 577.82 L146.63 577.72 L147.66 577.62 L148.69 577.52 L149.72 577.42 L150.75 577.32 L151.79 577.21 L152.82 577.11 L153.85 577.01 L154.88 576.90 L155.91 576.79 L156.95 576.69 L157.98 576.58 L159.01 576.47 L160.04 576.36 L161.07 576.25 L162.11 576.14 L163.14 576.03 L164.17 575.92 L165.20 575.81 L166.23 575.70 L167.27 575.59 L168.30 575.48 L169.33 575.37 L170.36 575.25 L171.39 575.14 L172.43 575.03 L173.46 574.92 L174.49 574.81 L175.52 574.70 L176.55 574.59 L177.59 574.48 L178.62 574.37 L179.65 574.26 L180.68 574.16 L181.71 574.05 L182.75 573.94 L183.78 573.83 L184.81 573.73 L185.84 573.62 L186.87 573.52 L187.91 573.42 L188.94 573.31 L189.97 573.21 L191.00 573.11 L192.03 573.01 L193.07 572.91 L194.10 572.81 L195.13 572.71 L196.16 572.62 L197.19 572.52 L198.23 572.43 L199.26 572.34 L200.29 572.25 L201.32 572.16 L202.35 572.07 L203.39 571.98 L204.42 571.90 L205.45 571.81 L206.48 571.73 L207.51 571.64 L208.55 571.56 L209.58 571.48 L210.61 571.41 L211.64 571.33 L212.67 571.25 L213.71 571.18 L214.74 571.11 L215.77 571.04 L216.80 570.97 L217.83 570.90 L218.87 570.83 L219.90 570.77 L220.93 570.70 L221.96 570.64 L222.99 570.58 L224.03 570.52 L225.06 570.47 L226.09 570.41 L227.12 570.36 L228.15 570.31 L229.19 570.26 L230.22 570.22 L231.25 570.17 L232.28 570.13 L233.31 570.09 L234.35 570.06 L235.38 570.03 L236.41 570.00 L237.44 569.97 L238.47 569.95 L239.51 569.93 L240.54 569.91 L241.57 569.90 L242.60 569.89 L243.63 569.88 L244.67 569.88 L245.70 569.88 L246.73 569.88 L247.76 569.89 L248.79 569.91 L249.83 569.93 L250.86 569.95 L251.89 569.99 L252.92 570.02 L253.95 570.07 L254.99 570.12 L256.02 570.18 L257.05 570.25 L258.08 570.33 L259.11 570.41 L260.15 570.50 L261.18 570.60 L262.21 570.71 L263.24 570.83 L264.27 570.96 L265.31 571.10 L266.34 571.24 L267.37 571.39 L268.40 571.55 L269.43 571.72 L270.47 571.90 L271.50 572.09 L272.53 572.28 L273.56 572.49 L274.59 572.70 L275.63 572.92 L276.66 573.14 L277.69 573.38 L278.72 573.62 L279.75 573.87 L280.79 574.13 L281.82 574.40 L282.85 574.67 L283.88 574.96 L284.91 575.25 L285.95 575.54 L286.98 575.85 L288.01 576.16 L289.04 576.48 L290.07 576.81 L291.11 577.14 L292.14 577.48 L293.17 577.83 L294.20 578.18 L295.23 578.54 L296.27 578.91 L297.30 579.29 L298.33 579.66 L299.36 580.05 L300.39 580.44 L301.43 580.84 L302.46 581.24 L303.49 581.64 L304.52 582.05 L305.55 582.47 L306.59 582.89 L307.62 583.31 L308.65 583.74 L309.68 584.17 L310.71 584.60 L311.75 585.04 L312.78 585.48 L313.81 585.93 L314.84 586.38 L315.87 586.83 L316.91 587.28 L317.94 587.74 L318.97 588.20 L320.00 588.66 L321.03 589.13 L322.07 589.59 L323.10 590.06 L324.13 590.54 L325.16 591.01 L326.19 591.48 L327.23 591.96 L328.26 592.44 L329.29 592.92 L330.32 593.41 L331.35 593.89 L332.39 594.38 L333.42 594.87 L334.45 595.36 L335.48 595.85 L336.51 596.34 L337.55 596.83 L338.58 597.33 L339.61 597.83 L340.64 598.33 L341.67 598.83 L342.71 599.33 L343.74 599.83 L344.77 600.34 L345.80 600.85 L346.83 601.35 L347.87 601.86 L348.90 602.37 L349.93 602.89 L350.96 603.40 L351.99 603.91 L353.03 604.43 L354.06 604.95 L355.09 605.47 L356.12 605.99 L357.15 606.51 L358.19 607.03 L359.22 607.55 L360.25 608.08 L361.28 608.61 L362.31 609.13 L363.35 609.66 L364.38 610.19 L365.41 610.72 L366.44 611.25 L367.47 611.79 L368.51 612.32 L369.54 612.85 L370.57 613.39 L371.60 613.92 L372.63 614.46 L373.67 615.00 L374.70 615.53 L375.73 616.07 L376.76 616.61 L377.79 617.15 L378.83 617.69 L379.86 618.23 L380.89 618.77 L381.92 619.31 L382.95 619.85 L383.99 620.39 L385.02 620.94 L386.05 621.48 L387.08 622.02 L388.11 622.57 L389.15 623.11 L390.18 623.66 L391.21 624.21 L392.24 624.76 L393.27 625.31 L394.31 625.86 L395.34 626.41 L396.37 626.96 L397.40 627.51 L398.43 628.07 L399.47 628.63 L400.50 629.18 L401.53 629.74 L402.56 630.30 L403.59 630.86 L404.63 631.43 L405.66 631.99 L406.69 632.56 L407.72 633.13 L408.75 633.69 L409.79 634.26 L410.82 634.84 L411.85 635.41 L412.88 635.98 L413.91 636.56 L414.95 637.13 L415.98 637.71 L417.01 638.29 L418.04 638.87 L419.07 639.45 L420.11 640.03 L421.14 640.62 L422.17 641.20 L423.20 641.79 L424.23 642.37 L425.27 642.96 L426.30 643.55 L427.33 644.14 L428.36 644.73 L429.39 645.33 L430.43 645.92 L431.46 646.51 L432.49 647.11 L433.52 647.71 L434.55 648.30 L435.59 648.90 L436.62 649.50 L437.65 650.10 L438.68 650.70 L439.71 651.30 L440.75 651.91 L441.78 652.51 L442.81 653.11 L443.84 653.72 L444.87 654.32 L445.91 654.92 L446.94 655.53 L447.97 656.13 L449.00 656.73 L450.03 657.33 L451.07 657.94 L452.10 658.54 L453.13 659.14 L454.16 659.73 L455.19 660.33 L456.23 660.93 L457.26 661.52 L458.29 662.11 L459.32 662.71 L460.35 663.30 L461.39 663.89 L462.42 664.47 L463.45 665.06 L464.48 665.64 L465.51 666.23 L466.55 666.81 L467.58 667.39 L468.61 667.97 L469.64 668.55 L470.67 669.12 L471.71 669.70 L472.74 670.27 L473.77 670.84 L474.80 671.41 L475.83 671.98 L476.87 672.55 L477.90 673.12 L478.93 673.68 L479.96 674.24 L480.99 674.81 L482.03 675.37 L483.06 675.92 L484.09 676.48 L485.12 677.04 L486.15 677.59 L487.19 678.14 L488.22 678.69 L489.25 679.24 L490.28 679.79 L491.31 680.34 L492.35 680.88 L493.38 681.43 L494.41 681.97 L495.44 682.51 L496.47 683.05 L497.51 683.59 L498.54 684.12 L499.57 684.66 L500.60 685.19 L501.63 685.72 L502.67 686.25 L503.70 686.78 L504.73 687.30 L505.76 687.83 L506.79 688.35 L507.83 688.88 L508.86 689.40 L509.89 689.91 L510.92 690.43 L511.95 690.95 L512.99 691.46 L514.02 691.97 L515.05 692.48 L516.08 692.99 L517.11 693.50 L518.15 694.00 L519.18 694.51 L520.21 695.01 L521.24 695.51 L522.27 696.01 L523.31 696.51 L524.34 697.00 L525.37 697.49 L526.40 697.98 L527.43 698.47 L528.47 698.96 L529.50 699.45 L530.53 699.93 L531.56 700.42 L532.59 700.90 L533.63 701.38 L534.66 701.86 L535.69 702.34 L536.72 702.82 L537.75 703.30 L538.79 703.78 L539.82 704.26 L540.85 704.74 L541.88 705.21 L542.91 705.69 L543.95 706.17 L544.98 706.65 L546.01 707.12 L547.04 707.60 L548.07 708.08 L549.11 708.56 L550.14 709.04 L551.17 709.52 L552.20 710.00 L553.23 710.49 L554.27 710.97 L555.30 711.45 L556.33 711.94 L557.36 712.43 L558.39 712.91 L559.43 713.40 L560.46 713.89 L561.49 714.38 L562.52 714.87 L563.55 715.36 L564.59 715.86 L565.62 716.35 L566.65 716.84 L567.68 717.34 L568.71 717.84 L569.75 718.33 L570.78 718.83 L571.81 719.33 L572.84 719.83 L573.87 720.33 L574.91 720.83 L575.94 721.33 L576.97 721.83 L578.00 722.33 L579.03 722.83 L580.07 723.33 L581.10 723.83 L582.13 724.33 L583.16 724.84 L583.42 724.96" stroke="#37AD6B"/>
<path d="M76.45 581.34 L77.48 581.33 L78.51 581.33 L79.55 581.32 L80.58 581.31 L81.61 581.30 L82.64 581.29 L83.67 581.27 L84.71 581.26 L85.74 581.25 L86.77 581.23 L87.80 581.22 L88.83 581.20 L89.87 581.18 L90.90 581.17 L91.93 581.14 L92.96 581.12 L93.99 581.10 L95.03 581.08 L96.06 581.05 L97.09 581.03 L98.12 581.00 L99.15 580.97 L100.19 580.94 L101.22 580.91 L102.25 580.88 L103.28 580.85 L104.31 580.82 L105.35 580.78 L106.38 580.75 L107.41 580.71 L108.44 580.68 L109.47 580.64 L110.51 580.61 L111.54 580.57 L112.57 580.53 L113.60 580.49 L114.63 580.45 L115.67 580.41 L116.70 580.37 L117.73 580.33 L118.76 580.29 L119.79 580.25 L120.83 580.20 L121.86 580.16 L122.89 580.12 L123.92 580.07 L124.95 580.03 L125.99 579.98 L127.02 579.94 L128.05 579.89 L129.08 579.85 L130.11 579.80 L131.15 579.76 L132.18 579.71 L133.21 579.67 L134.24 579.62 L135.27 579.57 L136.31 579.53 L137.34 579.48 L138.37 579.43 L139.40 579.39 L140.43 579.34 L141.47 579.29 L142.50 579.24 L143.53 579.20 L144.56 579.15 L145.59 579.10 L146.63 579.05 L147.66 579.00 L148.69 578.95 L149.72 578.90 L150.75 578.85 L151.79 578.80 L152.82 578.75 L153.85 578.70 L154.88 578.65 L155.91 578.59 L156.95 578.54 L157.98 578.49 L159.01 578.43 L160.04 578.38 L161.07 578.32 L162.11 578.27 L163.14 578.21 L164.17 578.15 L165.20 578.10 L166.23 578.04 L167.27 577.97 L168.30 577.91 L169.33 577.85 L170.36 577.78 L171.39 577.71 L172.43 577.65 L173.46 577.58 L174.49 577.50 L175.52 577.43 L176.55 577.35 L177.59 577.28 L178.62 577.20 L179.65 577.12 L180.68 577.04 L181.71 576.96 L182.75 576.87 L183.78 576.79 L184.81 576.70 L185.84 576.62 L186.87 576.53 L187.91 576.44 L188.94 576.35 L189.97 576.26 L191.00 576.16 L192.03 576.07 L193.07 575.97 L194.10 575.88 L195.13 575.78 L196.16 575.69 L197.19 575.59 L198.23 575.49 L199.26 575.40 L200.29 575.30 L201.32 575.20 L202.35 575.11 L203.39 575.01 L204.42 574.91 L205.45 574.82 L206.48 574.72 L207.51 574.63 L208.55 574.53 L209.58 574.44 L210.61 574.35 L211.64 574.26 L212.67 574.17 L213.71 574.08 L214.74 573.99 L215.77 573.91 L216.80 573.82 L217.83 573.74 L218.87 573.66 L219.90 573.59 L220.93 573.51 L221.96 573.44 L222.99 573.37 L224.03 573.30 L225.06 573.23 L226.09 573.17 L227.12 573.11 L228.15 573.05 L229.19 573.00 L230.22 572.95 L231.25 572.90 L232.28 572.86 L233.31 572.82 L234.35 572.78 L235.38 572.75 L236.41 572.72 L237.44 572.69 L238.47 572.67 L239.51 572.66 L240.54 572.65 L241.57 572.64 L242.60 572.64 L243.63 572.64 L244.67 572.65 L245.70 572.66 L246.73 572.68 L247.76 572.71 L248.79 572.73 L249.83 572.77 L250.86 572.81 L251.89 572.85 L252.92 572.90 L253.95 572.95 L254.99 573.01 L256.02 573.07 L257.05 573.14 L258.08 573.22 L259.11 573.30 L260.15 573.38 L261.18 573.47 L262.21 573.56 L263.24 573.66 L264.27 573.77 L265.31 573.88 L266.34 573.99 L267.37 574.11 L268.40 574.24 L269.43 574.37 L270.47 574.50 L271.50 574.65 L272.53 574.79 L273.56 574.94 L274.59 575.10 L275.63 575.26 L276.66 575.43 L277.69 575.60 L278.72 575.78 L279.75 575.96 L280.79 576.15 L281.82 576.34 L282.85 576.54 L283.88 576.75 L284.91 576.96 L285.95 577.17 L286.98 577.39 L288.01 577.61 L289.04 577.84 L290.07 578.07 L291.11 578.31 L292.14 578.56 L293.17 578.81 L294.20 579.06 L295.23 579.32 L296.27 579.58 L297.30 579.85 L298.33 580.13 L299.36 580.41 L300.39 580.69 L301.43 580.98 L302.46 581.27 L303.49 581.57 L304.52 581.88 L305.55 582.19 L306.59 582.50 L307.62 582.82 L308.65 583.15 L309.68 583.48 L310.71 583.81 L311.75 584.15 L312.78 584.49 L313.81 584.84 L314.84 585.19 L315.87 585.55 L316.91 585.91 L317.94 586.28 L318.97 586.65 L320.00 587.02 L321.03 587.40 L322.07 587.78 L323.10 588.16 L324.13 588.55 L325.16 588.94 L326.19 589.34 L327.23 589.74 L328.26 590.14 L329.29 590.55 L330.32 590.96 L331.35 591.37 L332.39 591.78 L333.42 592.20 L334.45 592.62 L335.48 593.04 L336.51 593.47 L337.55 593.90 L338.58 594.33 L339.61 594.76 L340.64 595.19 L341.67 595.63 L342.71 596.07 L343.74 596.51 L344.77 596.96 L345.80 597.40 L346.83 597.85 L347.87 598.30 L348.90 598.75 L349.93 599.20 L350.96 599.66 L351.99 600.11 L353.03 600.57 L354.06 601.03 L355.09 601.49 L356.12 601.96 L357.15 602.42 L358.19 602.88 L359.22 603.35 L360.25 603.82 L361.28 604.29 L362.31 604.76 L363.35 605.23 L364.38 605.70 L365.41 606.17 L366.44 606.64 L367.47 607.12 L368.51 607.59 L369.54 608.07 L370.57 608.55 L371.60 609.03 L372.63 609.51 L373.67 609.99 L374.70 610.47 L375.73 610.95 L376.76 611.43 L377.79 611.92 L378.83 612.40 L379.86 612.89 L380.89 613.37 L381.92 613.86 L382.95 614.35 L383.99 614.84 L385.02 615.33 L386.05 615.83 L387.08 616.32 L388.11 616.82 L389.15 617.32 L390.18 617.82 L391.21 618.33 L392.24 618.83 L393.27 619.34 L394.31 619.85 L395.34 620.36 L396.37 620.88 L397.40 621.40 L398.43 621.91 L399.47 622.44 L400.50 622.96 L401.53 623.49 L402.56 624.01 L403.59 624.54 L404.63 625.07 L405.66 625.60 L406.69 626.14 L407.72 626.67 L408.75 627.21 L409.79 627.75 L410.82 628.28 L411.85 628.82 L412.88 629.36 L413.91 629.90 L414.95 630.44 L415.98 630.99 L417.01 631.53 L418.04 632.07 L419.07 632.61 L420.11 633.15 L421.14 633.70 L422.17 634.24 L423.20 634.78 L424.23 635.32 L425.27 635.86 L426.30 636.40 L427.33 636.94 L428.36 637.48 L429.39 638.02 L430.43 638.56 L431.46 639.10 L432.49 639.64 L433.52 640.18 L434.55 640.72 L435.59 641.26 L436.62 641.80 L437.65 642.33 L438.68 642.87 L439.71 643.41 L440.75 643.95 L441.78 644.49 L442.81 645.03 L443.84 645.56 L444.87 646.10 L445.91 646.64 L446.94 647.18 L447.97 647.71 L449.00 648.25 L450.03 648.79 L451.07 649.33 L452.10 649.87 L453.13 650.40 L454.16 650.94 L455.19 651.48 L456.23 652.02 L457.26 652.56 L458.29 653.10 L459.32 653.64 L460.35 654.18 L461.39 654.71 L462.42 655.25 L463.45 655.79 L464.48 656.33 L465.51 656.87 L466.55 657.41 L467.58 657.95 L468.61 658.49 L469.64 659.02 L470.67 659.56 L471.71 660.10 L472.74 660.64 L473.77 661.17 L474.80 661.71 L475.83 662.25 L476.87 662.78 L477.90 663.32 L478.93 663.85 L479.96 664.39 L480.99 664.92 L482.03 665.46 L483.06 665.99 L484.09 666.52 L485.12 667.05 L486.15 667.58 L487.19 668.11 L488.22 668.64 L489.25 669.17 L490.28 669.70 L491.31 670.23 L492.35 670.75 L493.38 671.28 L494.41 671.80 L495.44 672.32 L496.47 672.85 L497.51 673.37 L498.54 673.88 L499.57 674.40 L500.60 674.92 L501.63 675.44 L502.67 675.95 L503.70 676.46 L504.73 676.97 L505.76 677.48 L506.79 677.99 L507.83 678.50 L508.86 679.01 L509.89 679.51 L510.92 680.01 L511.95 680.52 L512.99 681.02 L514.02 681.52 L515.05 682.01 L516.08 682.51 L517.11 683.00 L518.15 683.49 L519.18 683.99 L520.21 684.48 L521.24 684.96 L522.27 685.45 L523.31 685.93 L524.34 686.42 L525.37 686.90 L526.40 687.38 L527.43 687.85 L528.47 688.33 L529.50 688.81 L530.53 689.28 L531.56 689.75 L532.59 690.22 L533.63 690.69 L534.66 691.16 L535.69 691.63 L536.72 692.10 L537.75 692.57 L538.79 693.03 L539.82 693.50 L540.85 693.97 L541.88 694.43 L542.91 694.90 L543.95 695.36 L544.98 695.83 L546.01 696.30 L547.04 696.76 L548.07 697.23 L549.11 697.69 L550.14 698.16 L551.17 698.62 L552.20 699.09 L553.23 699.56 L554.27 700.03 L555.30 700.49 L556.33 700.96 L557.36 701.43 L558.39 701.90 L559.43 702.37 L560.46 702.84 L561.49 703.31 L562.52 703.78 L563.55 704.26 L564.59 704.73 L565.62 705.20 L566.65 705.68 L567.68 706.15 L568.71 706.63 L569.75 707.11 L570.78 707.58 L571.81 708.06 L572.84 708.54 L573.87 709.02 L574.91 709.50 L575.94 709.98 L576.97 710.46 L578.00 710.94 L579.03 711.42 L580.07 711.90 L581.10 712.38 L582.13 712.86 L583.16 713.34 L583.42 713.46" stroke="#B177DE"/>
</g>
<path d="M73 651.99 L584 650.84" stroke="#000" stroke-width="1.6" stroke-dasharray="4.7 3.54" fill="none"/>
<path d="M455.19 651.13 V861.5" stroke="#000" stroke-width="1.6" stroke-dasharray="3.4 3.03" fill="none"/>
<rect x="70" y="463.7" width="516" height="399.8" fill="none" stroke="#000" stroke-width="4"/>
<path d="M70.00 863.5 V856.5 M95.80 863.5 V860.3 M121.60 863.5 V856.5 M147.40 863.5 V860.3 M173.20 863.5 V856.5 M199.00 863.5 V860.3 M224.80 863.5 V856.5 M250.60 863.5 V860.3 M276.40 863.5 V856.5 M302.20 863.5 V860.3 M328.00 863.5 V856.5 M353.80 863.5 V860.3 M379.60 863.5 V856.5 M405.40 863.5 V860.3 M431.20 863.5 V856.5 M457.00 863.5 V860.3 M482.80 863.5 V856.5 M508.60 863.5 V860.3 M534.40 863.5 V856.5 M560.20 863.5 V860.3 M586.00 863.5 V856.5 M70 863.50 H77 M70 828.22 H73.2 M70 792.95 H77 M70 757.67 H73.2 M70 722.39 H77 M70 687.12 H73.2 M70 651.84 H77 M70 616.56 H73.2 M70 581.29 H77 M70 546.01 H73.2 M70 510.74 H77 M70 475.46 H73.2" stroke="#000" stroke-width="4" fill="none"/>
<text x="70.00" y="888.30" text-anchor="middle" font-size="22" font-family="Liberation Serif" font-weight="bold">0</text>
<text x="121.60" y="888.30" text-anchor="middle" font-size="22" font-family="Liberation Serif" font-weight="bold">2</text>
<text x="173.20" y="888.30" text-anchor="middle" font-size="22" font-family="Liberation Serif" font-weight="bold">4</text>
<text x="224.80" y="888.30" text-anchor="middle" font-size="22" font-family="Liberation Serif" font-weight="bold">6</text>
<text x="276.40" y="888.30" text-anchor="middle" font-size="22" font-family="Liberation Serif" font-weight="bold">8</text>
<text x="328.00" y="888.30" text-anchor="middle" font-size="22" font-family="Liberation Serif" font-weight="bold">10</text>
<text x="379.60" y="888.30" text-anchor="middle" font-size="22" font-family="Liberation Serif" font-weight="bold">12</text>
<text x="431.20" y="888.30" text-anchor="middle" font-size="22" font-family="Liberation Serif" font-weight="bold">14</text>
<text x="482.80" y="888.30" text-anchor="middle" font-size="22" font-family="Liberation Serif" font-weight="bold">16</text>
<text x="534.40" y="888.30" text-anchor="middle" font-size="22" font-family="Liberation Serif" font-weight="bold">18</text>
<text x="586.00" y="888.30" text-anchor="middle" font-size="22" font-family="Liberation Serif" font-weight="bold">20</text>
<text x="61.40" y="870.30" text-anchor="end" font-size="22" font-family="Liberation Serif" font-weight="bold">−12</text>
<text x="61.40" y="799.75" text-anchor="end" font-size="22" font-family="Liberation Serif" font-weight="bold">−9</text>
<text x="61.40" y="729.19" text-anchor="end" font-size="22" font-family="Liberation Serif" font-weight="bold">−6</text>
<text x="61.40" y="658.64" text-anchor="end" font-size="22" font-family="Liberation Serif" font-weight="bold">−3</text>
<text x="61.40" y="588.09" text-anchor="end" font-size="22" font-family="Liberation Serif" font-weight="bold">0</text>
<text x="61.40" y="517.54" text-anchor="end" font-size="22" font-family="Liberation Serif" font-weight="bold">3</text>
<text x="327.90" y="917.70" text-anchor="middle" font-size="31.7" font-family="Liberation Serif" font-weight="bold">Freq (GHz)</text>
<text transform="translate(21.30,835.00) rotate(-90)" x="0" y="0" font-size="31.7" font-family="Liberation Serif" font-weight="bold">Modulation response(dB)</text>
<text x="85" y="501.5" font-size="30" font-family="Liberation Serif" font-weight="bold">(c)</text>
<text x="200" y="499.3" font-size="31.6" font-family="Liberation Serif" font-weight="bold">3-Junction</text>
<text x="352.5" y="499.3" font-size="31.6" fill="#FF0000" font-family="Liberation Serif" font-weight="bold">85<tspan font-weight="normal">°</tspan>C</text>
<path d="M454.8 486.10 H508.8" stroke="#515151" stroke-width="3.9" stroke-linecap="round"/>
<text x="515" y="494.50" font-size="25" font-family="Liberation Serif" font-weight="bold">2 mA</text>
<path d="M454.8 516.50 H508.8" stroke="#F14040" stroke-width="3.9" stroke-linecap="round"/>
<text x="515" y="524.90" font-size="25" font-family="Liberation Serif" font-weight="bold">4 mA</text>
<path d="M454.8 546.90 H508.8" stroke="#1A6FDF" stroke-width="3.9" stroke-linecap="round"/>
<text x="515" y="555.30" font-size="25" font-family="Liberation Serif" font-weight="bold">6 mA</text>
<path d="M454.8 577.30 H508.8" stroke="#37AD6B" stroke-width="3.9" stroke-linecap="round"/>
<text x="515" y="585.70" font-size="25" font-family="Liberation Serif" font-weight="bold">8 mA</text>
<path d="M454.8 607.70 H508.8" stroke="#B177DE" stroke-width="3.9" stroke-linecap="round"/>
<text x="515" y="616.10" font-size="25" font-family="Liberation Serif" font-weight="bold">10mA</text>
<clipPath id="c3"><rect x="674" y="463.7" width="516" height="399.8"/></clipPath>
<g clip-path="url(#c3)" fill="none" stroke-width="3.5" stroke-linejoin="round" stroke-linecap="round">
<path d="M680.45 581.63 L686.90 582.80 L693.35 582.89 L699.80 581.20 L706.25 577.75 L712.70 572.68 L719.15 566.14 L725.60 558.09 L732.05 548.65 L738.50 538.54 L744.95 530.17 L751.40 528.03 L757.85 534.33 L764.30 547.46 L770.75 564.96 L777.20 584.64 L783.65 604.90 L790.10 624.82 L796.55 643.33 L803.00 659.16 L809.45 673.41 L815.90 686.57 L822.35 698.78 L828.80 710.17 L835.25 720.84 L841.70 730.88 L848.15 740.37 L854.60 749.39 L861.05 757.98 L867.50 766.19 L873.95 774.06 L880.40 781.60 L886.85 788.86 L893.30 795.84 L899.75 802.57 L906.20 809.06 L912.65 815.33 L919.10 821.44 L925.55 827.42 L932.00 833.30 L938.45 839.10 L944.90 844.84 L951.35 850.56 L957.80 856.30 L964.25 862.06 L966.83 864.36" stroke="#515151"/>
<path d="M680.45 581.43 L681.48 581.41 L682.51 581.40 L683.55 581.38 L684.58 581.36 L685.61 581.34 L686.64 581.32 L687.67 581.30 L688.71 581.28 L689.74 581.25 L690.77 581.22 L691.80 581.19 L692.83 581.15 L693.87 581.11 L694.90 581.07 L695.93 581.02 L696.96 580.97 L697.99 580.92 L699.03 580.86 L700.06 580.80 L701.09 580.73 L702.12 580.66 L703.15 580.59 L704.19 580.51 L705.22 580.43 L706.25 580.34 L707.28 580.25 L708.31 580.16 L709.35 580.06 L710.38 579.96 L711.41 579.85 L712.44 579.74 L713.47 579.62 L714.51 579.50 L715.54 579.37 L716.57 579.24 L717.60 579.11 L718.63 578.97 L719.67 578.82 L720.70 578.67 L721.73 578.52 L722.76 578.36 L723.79 578.19 L724.83 578.03 L725.86 577.85 L726.89 577.67 L727.92 577.49 L728.95 577.30 L729.99 577.11 L731.02 576.91 L732.05 576.70 L733.08 576.49 L734.11 576.28 L735.15 576.06 L736.18 575.84 L737.21 575.61 L738.24 575.37 L739.27 575.14 L740.31 574.89 L741.34 574.65 L742.37 574.39 L743.40 574.14 L744.43 573.88 L745.47 573.61 L746.50 573.34 L747.53 573.07 L748.56 572.79 L749.59 572.50 L750.63 572.22 L751.66 571.93 L752.69 571.63 L753.72 571.33 L754.75 571.03 L755.79 570.73 L756.82 570.42 L757.85 570.11 L758.88 569.79 L759.91 569.47 L760.95 569.15 L761.98 568.83 L763.01 568.50 L764.04 568.17 L765.07 567.84 L766.11 567.51 L767.14 567.17 L768.17 566.83 L769.20 566.49 L770.23 566.15 L771.27 565.81 L772.30 565.46 L773.33 565.11 L774.36 564.77 L775.39 564.42 L776.43 564.06 L777.46 563.71 L778.49 563.36 L779.52 563.01 L780.55 562.66 L781.59 562.32 L782.62 561.97 L783.65 561.63 L784.68 561.29 L785.71 560.96 L786.75 560.63 L787.78 560.31 L788.81 559.99 L789.84 559.67 L790.87 559.36 L791.91 559.06 L792.94 558.77 L793.97 558.49 L795.00 558.21 L796.03 557.94 L797.07 557.69 L798.10 557.44 L799.13 557.21 L800.16 556.99 L801.19 556.78 L802.23 556.58 L803.26 556.40 L804.29 556.24 L805.32 556.08 L806.35 555.95 L807.39 555.83 L808.42 555.73 L809.45 555.65 L810.48 555.58 L811.51 555.54 L812.55 555.51 L813.58 555.50 L814.61 555.52 L815.64 555.55 L816.67 555.61 L817.71 555.68 L818.74 555.78 L819.77 555.90 L820.80 556.05 L821.83 556.21 L822.87 556.40 L823.90 556.61 L824.93 556.84 L825.96 557.10 L826.99 557.38 L828.03 557.68 L829.06 558.01 L830.09 558.36 L831.12 558.73 L832.15 559.13 L833.19 559.55 L834.22 559.99 L835.25 560.45 L836.28 560.93 L837.31 561.43 L838.35 561.96 L839.38 562.50 L840.41 563.06 L841.44 563.65 L842.47 564.25 L843.51 564.87 L844.54 565.51 L845.57 566.17 L846.60 566.85 L847.63 567.54 L848.67 568.26 L849.70 568.98 L850.73 569.73 L851.76 570.49 L852.79 571.27 L853.83 572.06 L854.86 572.87 L855.89 573.69 L856.92 574.53 L857.95 575.38 L858.99 576.25 L860.02 577.13 L861.05 578.02 L862.08 578.92 L863.11 579.83 L864.15 580.76 L865.18 581.69 L866.21 582.64 L867.24 583.60 L868.27 584.56 L869.31 585.54 L870.34 586.52 L871.37 587.51 L872.40 588.51 L873.43 589.51 L874.47 590.53 L875.50 591.54 L876.53 592.57 L877.56 593.60 L878.59 594.64 L879.63 595.68 L880.66 596.72 L881.69 597.77 L882.72 598.83 L883.75 599.89 L884.79 600.95 L885.82 602.02 L886.85 603.08 L887.88 604.15 L888.91 605.23 L889.95 606.30 L890.98 607.38 L892.01 608.46 L893.04 609.53 L894.07 610.61 L895.11 611.69 L896.14 612.77 L897.17 613.85 L898.20 614.93 L899.23 616.01 L900.27 617.09 L901.30 618.17 L902.33 619.25 L903.36 620.33 L904.39 621.41 L905.43 622.49 L906.46 623.57 L907.49 624.65 L908.52 625.73 L909.55 626.81 L910.59 627.88 L911.62 628.96 L912.65 630.04 L913.68 631.11 L914.71 632.19 L915.75 633.26 L916.78 634.34 L917.81 635.41 L918.84 636.48 L919.87 637.55 L920.91 638.62 L921.94 639.68 L922.97 640.74 L924.00 641.81 L925.03 642.86 L926.07 643.92 L927.10 644.97 L928.13 646.02 L929.16 647.07 L930.19 648.11 L931.23 649.14 L932.26 650.18 L933.29 651.21 L934.32 652.23 L935.35 653.25 L936.39 654.27 L937.42 655.28 L938.45 656.29 L939.48 657.29 L940.51 658.29 L941.55 659.28 L942.58 660.27 L943.61 661.25 L944.64 662.23 L945.67 663.20 L946.71 664.17 L947.74 665.13 L948.77 666.08 L949.80 667.03 L950.83 667.98 L951.87 668.92 L952.90 669.85 L953.93 670.78 L954.96 671.71 L955.99 672.63 L957.03 673.55 L958.06 674.46 L959.09 675.36 L960.12 676.27 L961.15 677.17 L962.19 678.06 L963.22 678.96 L964.25 679.85 L965.28 680.73 L966.31 681.62 L967.35 682.50 L968.38 683.37 L969.41 684.25 L970.44 685.12 L971.47 685.99 L972.51 686.86 L973.54 687.72 L974.57 688.58 L975.60 689.44 L976.63 690.30 L977.67 691.15 L978.70 692.00 L979.73 692.85 L980.76 693.69 L981.79 694.54 L982.83 695.38 L983.86 696.22 L984.89 697.05 L985.92 697.89 L986.95 698.72 L987.99 699.55 L989.02 700.38 L990.05 701.20 L991.08 702.02 L992.11 702.84 L993.15 703.66 L994.18 704.48 L995.21 705.29 L996.24 706.10 L997.27 706.91 L998.31 707.71 L999.34 708.51 L1000.37 709.31 L1001.40 710.11 L1002.43 710.90 L1003.47 711.69 L1004.50 712.48 L1005.53 713.26 L1006.56 714.05 L1007.59 714.83 L1008.63 715.60 L1009.66 716.38 L1010.69 717.15 L1011.72 717.92 L1012.75 718.68 L1013.79 719.45 L1014.82 720.21 L1015.85 720.96 L1016.88 721.72 L1017.91 722.47 L1018.95 723.22 L1019.98 723.96 L1021.01 724.70 L1022.04 725.44 L1023.07 726.18 L1024.11 726.91 L1025.14 727.64 L1026.17 728.37 L1027.20 729.09 L1028.23 729.81 L1029.27 730.53 L1030.30 731.24 L1031.33 731.95 L1032.36 732.66 L1033.39 733.37 L1034.43 734.07 L1035.46 734.77 L1036.49 735.47 L1037.52 736.17 L1038.55 736.86 L1039.59 737.56 L1040.62 738.25 L1041.65 738.93 L1042.68 739.62 L1043.71 740.30 L1044.75 740.98 L1045.78 741.66 L1046.81 742.34 L1047.84 743.02 L1048.87 743.69 L1049.91 744.37 L1050.94 745.04 L1051.97 745.71 L1053.00 746.38 L1054.03 747.04 L1055.07 747.71 L1056.10 748.38 L1057.13 749.04 L1058.16 749.70 L1059.19 750.37 L1060.23 751.03 L1061.26 751.69 L1062.29 752.34 L1063.32 753.00 L1064.35 753.66 L1065.39 754.31 L1066.42 754.96 L1067.45 755.61 L1068.48 756.26 L1069.51 756.91 L1070.55 757.55 L1071.58 758.19 L1072.61 758.83 L1073.64 759.46 L1074.67 760.10 L1075.71 760.73 L1076.74 761.35 L1077.77 761.98 L1078.80 762.60 L1079.83 763.22 L1080.87 763.84 L1081.90 764.46 L1082.93 765.07 L1083.96 765.69 L1084.99 766.30 L1086.03 766.91 L1087.06 767.52 L1088.09 768.12 L1089.12 768.73 L1090.15 769.33 L1091.19 769.93 L1092.22 770.53 L1093.25 771.13 L1094.28 771.73 L1095.31 772.33 L1096.35 772.92 L1097.38 773.52 L1098.41 774.11 L1099.44 774.70 L1100.47 775.29 L1101.51 775.88 L1102.54 776.47 L1103.57 777.05 L1104.60 777.64 L1105.63 778.22 L1106.67 778.81 L1107.70 779.39 L1108.73 779.97 L1109.76 780.55 L1110.79 781.13 L1111.83 781.70 L1112.86 782.28 L1113.89 782.86 L1114.92 783.43 L1115.95 784.01 L1116.99 784.58 L1118.02 785.15 L1119.05 785.72 L1120.08 786.29 L1121.11 786.86 L1122.15 787.43 L1123.18 788.00 L1124.21 788.57 L1125.24 789.14 L1126.27 789.71 L1127.31 790.27 L1128.34 790.84 L1129.37 791.40 L1130.40 791.97 L1131.43 792.53 L1132.47 793.10 L1133.50 793.66 L1134.53 794.22 L1135.56 794.78 L1136.59 795.35 L1137.63 795.91 L1138.66 796.47 L1139.69 797.03 L1140.72 797.59 L1141.75 798.15 L1142.79 798.71 L1143.82 799.26 L1144.85 799.82 L1145.88 800.38 L1146.91 800.93 L1147.95 801.49 L1148.98 802.04 L1150.01 802.60 L1151.04 803.15 L1152.07 803.70 L1153.11 804.25 L1154.14 804.80 L1155.17 805.35 L1156.20 805.90 L1157.23 806.45 L1158.27 807.00 L1159.30 807.54 L1160.33 808.09 L1161.36 808.63 L1162.39 809.17 L1163.43 809.71 L1164.46 810.25 L1165.49 810.79 L1166.52 811.33 L1167.55 811.87 L1168.59 812.40 L1169.62 812.94 L1170.65 813.47 L1171.68 814.00 L1172.71 814.53 L1173.75 815.06 L1174.78 815.59 L1175.81 816.12 L1176.84 816.65 L1177.87 817.17 L1178.91 817.70 L1179.94 818.23 L1180.97 818.75 L1182.00 819.28 L1183.03 819.80 L1184.07 820.32 L1185.10 820.85 L1186.13 821.37 L1187.16 821.89 L1188.19 822.42 L1188.19 822.42" stroke="#F14040"/>
<path d="M680.45 581.37 L681.48 581.37 L682.51 581.36 L683.55 581.35 L684.58 581.34 L685.61 581.32 L686.64 581.31 L687.67 581.30 L688.71 581.29 L689.74 581.27 L690.77 581.25 L691.80 581.23 L692.83 581.21 L693.87 581.19 L694.90 581.16 L695.93 581.13 L696.96 581.10 L697.99 581.07 L699.03 581.04 L700.06 581.00 L701.09 580.96 L702.12 580.92 L703.15 580.87 L704.19 580.83 L705.22 580.78 L706.25 580.73 L707.28 580.67 L708.31 580.62 L709.35 580.56 L710.38 580.50 L711.41 580.44 L712.44 580.37 L713.47 580.30 L714.51 580.24 L715.54 580.17 L716.57 580.09 L717.60 580.02 L718.63 579.94 L719.67 579.87 L720.70 579.79 L721.73 579.70 L722.76 579.62 L723.79 579.54 L724.83 579.45 L725.86 579.36 L726.89 579.27 L727.92 579.18 L728.95 579.08 L729.99 578.99 L731.02 578.89 L732.05 578.79 L733.08 578.69 L734.11 578.58 L735.15 578.48 L736.18 578.37 L737.21 578.26 L738.24 578.15 L739.27 578.04 L740.31 577.93 L741.34 577.81 L742.37 577.70 L743.40 577.58 L744.43 577.46 L745.47 577.34 L746.50 577.21 L747.53 577.09 L748.56 576.96 L749.59 576.83 L750.63 576.70 L751.66 576.57 L752.69 576.43 L753.72 576.30 L754.75 576.16 L755.79 576.02 L756.82 575.88 L757.85 575.74 L758.88 575.59 L759.91 575.44 L760.95 575.29 L761.98 575.14 L763.01 574.99 L764.04 574.84 L765.07 574.68 L766.11 574.52 L767.14 574.36 L768.17 574.20 L769.20 574.04 L770.23 573.87 L771.27 573.70 L772.30 573.54 L773.33 573.37 L774.36 573.19 L775.39 573.02 L776.43 572.85 L777.46 572.67 L778.49 572.49 L779.52 572.31 L780.55 572.14 L781.59 571.96 L782.62 571.78 L783.65 571.59 L784.68 571.41 L785.71 571.23 L786.75 571.05 L787.78 570.87 L788.81 570.69 L789.84 570.51 L790.87 570.34 L791.91 570.16 L792.94 569.98 L793.97 569.81 L795.00 569.64 L796.03 569.47 L797.07 569.30 L798.10 569.14 L799.13 568.97 L800.16 568.81 L801.19 568.66 L802.23 568.50 L803.26 568.36 L804.29 568.21 L805.32 568.07 L806.35 567.93 L807.39 567.80 L808.42 567.67 L809.45 567.55 L810.48 567.44 L811.51 567.32 L812.55 567.22 L813.58 567.12 L814.61 567.02 L815.64 566.93 L816.67 566.85 L817.71 566.77 L818.74 566.70 L819.77 566.64 L820.80 566.58 L821.83 566.53 L822.87 566.48 L823.90 566.45 L824.93 566.42 L825.96 566.39 L826.99 566.38 L828.03 566.37 L829.06 566.37 L830.09 566.37 L831.12 566.39 L832.15 566.41 L833.19 566.44 L834.22 566.47 L835.25 566.52 L836.28 566.57 L837.31 566.63 L838.35 566.70 L839.38 566.78 L840.41 566.87 L841.44 566.96 L842.47 567.07 L843.51 567.18 L844.54 567.30 L845.57 567.43 L846.60 567.56 L847.63 567.71 L848.67 567.86 L849.70 568.03 L850.73 568.20 L851.76 568.38 L852.79 568.57 L853.83 568.77 L854.86 568.97 L855.89 569.19 L856.92 569.41 L857.95 569.64 L858.99 569.89 L860.02 570.14 L861.05 570.39 L862.08 570.66 L863.11 570.93 L864.15 571.22 L865.18 571.51 L866.21 571.81 L867.24 572.11 L868.27 572.43 L869.31 572.75 L870.34 573.08 L871.37 573.42 L872.40 573.76 L873.43 574.12 L874.47 574.48 L875.50 574.84 L876.53 575.22 L877.56 575.60 L878.59 575.99 L879.63 576.39 L880.66 576.79 L881.69 577.20 L882.72 577.61 L883.75 578.04 L884.79 578.47 L885.82 578.90 L886.85 579.34 L887.88 579.79 L888.91 580.25 L889.95 580.71 L890.98 581.17 L892.01 581.65 L893.04 582.13 L894.07 582.61 L895.11 583.10 L896.14 583.60 L897.17 584.10 L898.20 584.61 L899.23 585.13 L900.27 585.65 L901.30 586.18 L902.33 586.72 L903.36 587.26 L904.39 587.81 L905.43 588.37 L906.46 588.93 L907.49 589.50 L908.52 590.07 L909.55 590.65 L910.59 591.24 L911.62 591.83 L912.65 592.43 L913.68 593.03 L914.71 593.64 L915.75 594.25 L916.78 594.87 L917.81 595.49 L918.84 596.12 L919.87 596.76 L920.91 597.39 L921.94 598.04 L922.97 598.69 L924.00 599.34 L925.03 600.00 L926.07 600.66 L927.10 601.33 L928.13 602.00 L929.16 602.67 L930.19 603.35 L931.23 604.03 L932.26 604.72 L933.29 605.41 L934.32 606.10 L935.35 606.80 L936.39 607.50 L937.42 608.21 L938.45 608.91 L939.48 609.63 L940.51 610.34 L941.55 611.06 L942.58 611.78 L943.61 612.50 L944.64 613.23 L945.67 613.95 L946.71 614.68 L947.74 615.42 L948.77 616.15 L949.80 616.89 L950.83 617.63 L951.87 618.37 L952.90 619.12 L953.93 619.86 L954.96 620.61 L955.99 621.36 L957.03 622.11 L958.06 622.87 L959.09 623.62 L960.12 624.38 L961.15 625.14 L962.19 625.91 L963.22 626.67 L964.25 627.44 L965.28 628.21 L966.31 628.98 L967.35 629.75 L968.38 630.53 L969.41 631.30 L970.44 632.08 L971.47 632.86 L972.51 633.65 L973.54 634.43 L974.57 635.21 L975.60 636.00 L976.63 636.79 L977.67 637.58 L978.70 638.37 L979.73 639.17 L980.76 639.96 L981.79 640.76 L982.83 641.55 L983.86 642.35 L984.89 643.15 L985.92 643.95 L986.95 644.75 L987.99 645.54 L989.02 646.34 L990.05 647.14 L991.08 647.93 L992.11 648.73 L993.15 649.52 L994.18 650.31 L995.21 651.09 L996.24 651.88 L997.27 652.66 L998.31 653.44 L999.34 654.22 L1000.37 654.99 L1001.40 655.76 L1002.43 656.53 L1003.47 657.30 L1004.50 658.06 L1005.53 658.82 L1006.56 659.58 L1007.59 660.34 L1008.63 661.09 L1009.66 661.84 L1010.69 662.58 L1011.72 663.33 L1012.75 664.07 L1013.79 664.80 L1014.82 665.54 L1015.85 666.27 L1016.88 666.99 L1017.91 667.72 L1018.95 668.44 L1019.98 669.16 L1021.01 669.87 L1022.04 670.59 L1023.07 671.30 L1024.11 672.00 L1025.14 672.70 L1026.17 673.40 L1027.20 674.10 L1028.23 674.80 L1029.27 675.49 L1030.30 676.18 L1031.33 676.86 L1032.36 677.54 L1033.39 678.22 L1034.43 678.90 L1035.46 679.57 L1036.49 680.24 L1037.52 680.91 L1038.55 681.58 L1039.59 682.24 L1040.62 682.90 L1041.65 683.56 L1042.68 684.21 L1043.71 684.87 L1044.75 685.51 L1045.78 686.16 L1046.81 686.81 L1047.84 687.45 L1048.87 688.09 L1049.91 688.73 L1050.94 689.36 L1051.97 690.00 L1053.00 690.63 L1054.03 691.26 L1055.07 691.89 L1056.10 692.51 L1057.13 693.14 L1058.16 693.76 L1059.19 694.38 L1060.23 695.00 L1061.26 695.61 L1062.29 696.23 L1063.32 696.84 L1064.35 697.45 L1065.39 698.06 L1066.42 698.67 L1067.45 699.28 L1068.48 699.88 L1069.51 700.48 L1070.55 701.09 L1071.58 701.69 L1072.61 702.28 L1073.64 702.88 L1074.67 703.48 L1075.71 704.07 L1076.74 704.66 L1077.77 705.25 L1078.80 705.84 L1079.83 706.43 L1080.87 707.01 L1081.90 707.59 L1082.93 708.17 L1083.96 708.75 L1084.99 709.33 L1086.03 709.91 L1087.06 710.48 L1088.09 711.06 L1089.12 711.63 L1090.15 712.20 L1091.19 712.77 L1092.22 713.34 L1093.25 713.90 L1094.28 714.46 L1095.31 715.03 L1096.35 715.59 L1097.38 716.14 L1098.41 716.70 L1099.44 717.25 L1100.47 717.81 L1101.51 718.36 L1102.54 718.90 L1103.57 719.45 L1104.60 719.99 L1105.63 720.54 L1106.67 721.08 L1107.70 721.62 L1108.73 722.16 L1109.76 722.70 L1110.79 723.24 L1111.83 723.77 L1112.86 724.31 L1113.89 724.85 L1114.92 725.39 L1115.95 725.92 L1116.99 726.46 L1118.02 726.99 L1119.05 727.53 L1120.08 728.06 L1121.11 728.59 L1122.15 729.13 L1123.18 729.66 L1124.21 730.19 L1125.24 730.72 L1126.27 731.25 L1127.31 731.77 L1128.34 732.30 L1129.37 732.82 L1130.40 733.35 L1131.43 733.87 L1132.47 734.39 L1133.50 734.91 L1134.53 735.43 L1135.56 735.95 L1136.59 736.47 L1137.63 736.99 L1138.66 737.51 L1139.69 738.02 L1140.72 738.54 L1141.75 739.06 L1142.79 739.57 L1143.82 740.09 L1144.85 740.60 L1145.88 741.11 L1146.91 741.63 L1147.95 742.14 L1148.98 742.65 L1150.01 743.16 L1151.04 743.67 L1152.07 744.18 L1153.11 744.68 L1154.14 745.19 L1155.17 745.70 L1156.20 746.20 L1157.23 746.71 L1158.27 747.21 L1159.30 747.71 L1160.33 748.21 L1161.36 748.71 L1162.39 749.22 L1163.43 749.72 L1164.46 750.21 L1165.49 750.71 L1166.52 751.21 L1167.55 751.71 L1168.59 752.21 L1169.62 752.71 L1170.65 753.20 L1171.68 753.70 L1172.71 754.20 L1173.75 754.69 L1174.78 755.19 L1175.81 755.69 L1176.84 756.18 L1177.87 756.68 L1178.91 757.17 L1179.94 757.67 L1180.97 758.16 L1182.00 758.66 L1183.03 759.16 L1184.07 759.65 L1185.10 760.15 L1186.13 760.64 L1187.16 761.14 L1187.42 761.26" stroke="#1A6FDF"/>
<path d="M680.45 581.36 L681.48 581.35 L682.51 581.34 L683.55 581.33 L684.58 581.32 L685.61 581.31 L686.64 581.30 L687.67 581.29 L688.71 581.27 L689.74 581.26 L690.77 581.24 L691.80 581.23 L692.83 581.21 L693.87 581.19 L694.90 581.16 L695.93 581.14 L696.96 581.11 L697.99 581.09 L699.03 581.06 L700.06 581.03 L701.09 580.99 L702.12 580.96 L703.15 580.92 L704.19 580.88 L705.22 580.84 L706.25 580.80 L707.28 580.76 L708.31 580.72 L709.35 580.67 L710.38 580.62 L711.41 580.58 L712.44 580.53 L713.47 580.47 L714.51 580.42 L715.54 580.37 L716.57 580.31 L717.60 580.26 L718.63 580.20 L719.67 580.14 L720.70 580.08 L721.73 580.02 L722.76 579.96 L723.79 579.90 L724.83 579.83 L725.86 579.77 L726.89 579.70 L727.92 579.63 L728.95 579.56 L729.99 579.49 L731.02 579.42 L732.05 579.35 L733.08 579.28 L734.11 579.20 L735.15 579.13 L736.18 579.05 L737.21 578.98 L738.24 578.90 L739.27 578.82 L740.31 578.74 L741.34 578.66 L742.37 578.58 L743.40 578.50 L744.43 578.42 L745.47 578.34 L746.50 578.25 L747.53 578.17 L748.56 578.09 L749.59 578.00 L750.63 577.92 L751.66 577.83 L752.69 577.74 L753.72 577.66 L754.75 577.57 L755.79 577.48 L756.82 577.40 L757.85 577.31 L758.88 577.22 L759.91 577.13 L760.95 577.04 L761.98 576.95 L763.01 576.86 L764.04 576.78 L765.07 576.69 L766.11 576.60 L767.14 576.51 L768.17 576.42 L769.20 576.33 L770.23 576.24 L771.27 576.16 L772.30 576.07 L773.33 575.98 L774.36 575.89 L775.39 575.80 L776.43 575.72 L777.46 575.63 L778.49 575.54 L779.52 575.46 L780.55 575.37 L781.59 575.28 L782.62 575.20 L783.65 575.11 L784.68 575.03 L785.71 574.95 L786.75 574.86 L787.78 574.78 L788.81 574.70 L789.84 574.62 L790.87 574.54 L791.91 574.46 L792.94 574.38 L793.97 574.30 L795.00 574.22 L796.03 574.14 L797.07 574.06 L798.10 573.99 L799.13 573.91 L800.16 573.84 L801.19 573.76 L802.23 573.69 L803.26 573.62 L804.29 573.55 L805.32 573.48 L806.35 573.41 L807.39 573.35 L808.42 573.28 L809.45 573.22 L810.48 573.16 L811.51 573.10 L812.55 573.04 L813.58 572.99 L814.61 572.93 L815.64 572.88 L816.67 572.83 L817.71 572.78 L818.74 572.74 L819.77 572.69 L820.80 572.65 L821.83 572.61 L822.87 572.58 L823.90 572.54 L824.93 572.51 L825.96 572.48 L826.99 572.46 L828.03 572.43 L829.06 572.41 L830.09 572.39 L831.12 572.38 L832.15 572.37 L833.19 572.36 L834.22 572.35 L835.25 572.35 L836.28 572.35 L837.31 572.35 L838.35 572.36 L839.38 572.37 L840.41 572.38 L841.44 572.40 L842.47 572.42 L843.51 572.45 L844.54 572.48 L845.57 572.51 L846.60 572.55 L847.63 572.59 L848.67 572.63 L849.70 572.68 L850.73 572.73 L851.76 572.79 L852.79 572.85 L853.83 572.92 L854.86 572.99 L855.89 573.07 L856.92 573.15 L857.95 573.23 L858.99 573.32 L860.02 573.41 L861.05 573.51 L862.08 573.62 L863.11 573.73 L864.15 573.84 L865.18 573.96 L866.21 574.09 L867.24 574.22 L868.27 574.35 L869.31 574.49 L870.34 574.64 L871.37 574.79 L872.40 574.95 L873.43 575.12 L874.47 575.29 L875.50 575.46 L876.53 575.65 L877.56 575.83 L878.59 576.03 L879.63 576.23 L880.66 576.44 L881.69 576.65 L882.72 576.87 L883.75 577.10 L884.79 577.34 L885.82 577.58 L886.85 577.83 L887.88 578.08 L888.91 578.35 L889.95 578.62 L890.98 578.89 L892.01 579.18 L893.04 579.47 L894.07 579.77 L895.11 580.08 L896.14 580.39 L897.17 580.71 L898.20 581.04 L899.23 581.37 L900.27 581.72 L901.30 582.07 L902.33 582.42 L903.36 582.78 L904.39 583.15 L905.43 583.53 L906.46 583.91 L907.49 584.30 L908.52 584.69 L909.55 585.09 L910.59 585.50 L911.62 585.91 L912.65 586.32 L913.68 586.75 L914.71 587.17 L915.75 587.61 L916.78 588.04 L917.81 588.49 L918.84 588.93 L919.87 589.39 L920.91 589.84 L921.94 590.30 L922.97 590.77 L924.00 591.24 L925.03 591.71 L926.07 592.19 L927.10 592.67 L928.13 593.16 L929.16 593.65 L930.19 594.15 L931.23 594.64 L932.26 595.15 L933.29 595.65 L934.32 596.16 L935.35 596.67 L936.39 597.19 L937.42 597.71 L938.45 598.23 L939.48 598.76 L940.51 599.29 L941.55 599.82 L942.58 600.35 L943.61 600.89 L944.64 601.43 L945.67 601.97 L946.71 602.52 L947.74 603.06 L948.77 603.61 L949.80 604.16 L950.83 604.72 L951.87 605.27 L952.90 605.83 L953.93 606.39 L954.96 606.95 L955.99 607.51 L957.03 608.08 L958.06 608.65 L959.09 609.21 L960.12 609.78 L961.15 610.35 L962.19 610.92 L963.22 611.50 L964.25 612.07 L965.28 612.65 L966.31 613.22 L967.35 613.80 L968.38 614.38 L969.41 614.95 L970.44 615.53 L971.47 616.11 L972.51 616.69 L973.54 617.27 L974.57 617.85 L975.60 618.42 L976.63 619.00 L977.67 619.58 L978.70 620.16 L979.73 620.73 L980.76 621.31 L981.79 621.88 L982.83 622.46 L983.86 623.03 L984.89 623.60 L985.92 624.17 L986.95 624.74 L987.99 625.31 L989.02 625.88 L990.05 626.45 L991.08 627.01 L992.11 627.58 L993.15 628.14 L994.18 628.71 L995.21 629.27 L996.24 629.83 L997.27 630.40 L998.31 630.96 L999.34 631.52 L1000.37 632.08 L1001.40 632.64 L1002.43 633.20 L1003.47 633.77 L1004.50 634.33 L1005.53 634.89 L1006.56 635.46 L1007.59 636.02 L1008.63 636.59 L1009.66 637.16 L1010.69 637.73 L1011.72 638.29 L1012.75 638.87 L1013.79 639.44 L1014.82 640.01 L1015.85 640.58 L1016.88 641.16 L1017.91 641.73 L1018.95 642.31 L1019.98 642.89 L1021.01 643.46 L1022.04 644.04 L1023.07 644.62 L1024.11 645.20 L1025.14 645.79 L1026.17 646.37 L1027.20 646.96 L1028.23 647.54 L1029.27 648.13 L1030.30 648.71 L1031.33 649.30 L1032.36 649.89 L1033.39 650.48 L1034.43 651.07 L1035.46 651.66 L1036.49 652.25 L1037.52 652.85 L1038.55 653.44 L1039.59 654.03 L1040.62 654.62 L1041.65 655.22 L1042.68 655.81 L1043.71 656.40 L1044.75 656.99 L1045.78 657.59 L1046.81 658.18 L1047.84 658.77 L1048.87 659.36 L1049.91 659.96 L1050.94 660.55 L1051.97 661.14 L1053.00 661.73 L1054.03 662.32 L1055.07 662.91 L1056.10 663.50 L1057.13 664.09 L1058.16 664.67 L1059.19 665.26 L1060.23 665.85 L1061.26 666.43 L1062.29 667.01 L1063.32 667.60 L1064.35 668.18 L1065.39 668.76 L1066.42 669.34 L1067.45 669.92 L1068.48 670.49 L1069.51 671.07 L1070.55 671.64 L1071.58 672.21 L1072.61 672.79 L1073.64 673.35 L1074.67 673.92 L1075.71 674.49 L1076.74 675.05 L1077.77 675.62 L1078.80 676.18 L1079.83 676.74 L1080.87 677.29 L1081.90 677.85 L1082.93 678.40 L1083.96 678.95 L1084.99 679.50 L1086.03 680.05 L1087.06 680.60 L1088.09 681.14 L1089.12 681.68 L1090.15 682.22 L1091.19 682.75 L1092.22 683.29 L1093.25 683.82 L1094.28 684.35 L1095.31 684.87 L1096.35 685.40 L1097.38 685.92 L1098.41 686.44 L1099.44 686.96 L1100.47 687.48 L1101.51 687.99 L1102.54 688.51 L1103.57 689.02 L1104.60 689.53 L1105.63 690.05 L1106.67 690.56 L1107.70 691.06 L1108.73 691.57 L1109.76 692.08 L1110.79 692.59 L1111.83 693.09 L1112.86 693.60 L1113.89 694.11 L1114.92 694.61 L1115.95 695.11 L1116.99 695.62 L1118.02 696.12 L1119.05 696.62 L1120.08 697.13 L1121.11 697.63 L1122.15 698.13 L1123.18 698.63 L1124.21 699.13 L1125.24 699.63 L1126.27 700.12 L1127.31 700.62 L1128.34 701.12 L1129.37 701.61 L1130.40 702.11 L1131.43 702.60 L1132.47 703.09 L1133.50 703.59 L1134.53 704.08 L1135.56 704.57 L1136.59 705.06 L1137.63 705.54 L1138.66 706.03 L1139.69 706.52 L1140.72 707.00 L1141.75 707.48 L1142.79 707.97 L1143.82 708.45 L1144.85 708.93 L1145.88 709.41 L1146.91 709.89 L1147.95 710.37 L1148.98 710.84 L1150.01 711.32 L1151.04 711.80 L1152.07 712.27 L1153.11 712.75 L1154.14 713.22 L1155.17 713.69 L1156.20 714.17 L1157.23 714.64 L1158.27 715.11 L1159.30 715.58 L1160.33 716.05 L1161.36 716.52 L1162.39 716.99 L1163.43 717.46 L1164.46 717.93 L1165.49 718.40 L1166.52 718.86 L1167.55 719.33 L1168.59 719.80 L1169.62 720.27 L1170.65 720.73 L1171.68 721.20 L1172.71 721.67 L1173.75 722.13 L1174.78 722.60 L1175.81 723.07 L1176.84 723.53 L1177.87 724.00 L1178.91 724.47 L1179.94 724.93 L1180.97 725.40 L1182.00 725.87 L1183.03 726.33 L1184.07 726.80 L1185.10 727.26 L1186.13 727.73 L1187.16 728.20 L1187.42 728.31" stroke="#37AD6B"/>
<path d="M680.45 581.33 L681.48 581.33 L682.51 581.32 L683.55 581.31 L684.58 581.30 L685.61 581.29 L686.64 581.28 L687.67 581.27 L688.71 581.26 L689.74 581.25 L690.77 581.23 L691.80 581.22 L692.83 581.21 L693.87 581.19 L694.90 581.17 L695.93 581.15 L696.96 581.14 L697.99 581.12 L699.03 581.09 L700.06 581.07 L701.09 581.05 L702.12 581.03 L703.15 581.00 L704.19 580.98 L705.22 580.96 L706.25 580.93 L707.28 580.90 L708.31 580.88 L709.35 580.85 L710.38 580.82 L711.41 580.79 L712.44 580.76 L713.47 580.73 L714.51 580.70 L715.54 580.67 L716.57 580.63 L717.60 580.60 L718.63 580.56 L719.67 580.53 L720.70 580.49 L721.73 580.46 L722.76 580.42 L723.79 580.38 L724.83 580.35 L725.86 580.31 L726.89 580.27 L727.92 580.23 L728.95 580.19 L729.99 580.15 L731.02 580.11 L732.05 580.07 L733.08 580.03 L734.11 579.99 L735.15 579.95 L736.18 579.91 L737.21 579.86 L738.24 579.82 L739.27 579.78 L740.31 579.74 L741.34 579.69 L742.37 579.65 L743.40 579.61 L744.43 579.57 L745.47 579.52 L746.50 579.48 L747.53 579.44 L748.56 579.39 L749.59 579.35 L750.63 579.30 L751.66 579.26 L752.69 579.21 L753.72 579.17 L754.75 579.12 L755.79 579.08 L756.82 579.03 L757.85 578.98 L758.88 578.94 L759.91 578.89 L760.95 578.84 L761.98 578.80 L763.01 578.75 L764.04 578.70 L765.07 578.65 L766.11 578.60 L767.14 578.55 L768.17 578.50 L769.20 578.45 L770.23 578.40 L771.27 578.35 L772.30 578.30 L773.33 578.25 L774.36 578.19 L775.39 578.14 L776.43 578.09 L777.46 578.03 L778.49 577.98 L779.52 577.92 L780.55 577.87 L781.59 577.81 L782.62 577.75 L783.65 577.70 L784.68 577.64 L785.71 577.58 L786.75 577.53 L787.78 577.47 L788.81 577.41 L789.84 577.36 L790.87 577.30 L791.91 577.24 L792.94 577.19 L793.97 577.13 L795.00 577.08 L796.03 577.02 L797.07 576.96 L798.10 576.91 L799.13 576.86 L800.16 576.80 L801.19 576.75 L802.23 576.70 L803.26 576.64 L804.29 576.59 L805.32 576.54 L806.35 576.49 L807.39 576.45 L808.42 576.40 L809.45 576.35 L810.48 576.31 L811.51 576.26 L812.55 576.22 L813.58 576.18 L814.61 576.14 L815.64 576.10 L816.67 576.06 L817.71 576.03 L818.74 575.99 L819.77 575.96 L820.80 575.93 L821.83 575.90 L822.87 575.87 L823.90 575.85 L824.93 575.83 L825.96 575.80 L826.99 575.79 L828.03 575.77 L829.06 575.75 L830.09 575.74 L831.12 575.73 L832.15 575.72 L833.19 575.72 L834.22 575.71 L835.25 575.71 L836.28 575.71 L837.31 575.72 L838.35 575.72 L839.38 575.73 L840.41 575.74 L841.44 575.76 L842.47 575.77 L843.51 575.79 L844.54 575.82 L845.57 575.84 L846.60 575.87 L847.63 575.91 L848.67 575.94 L849.70 575.98 L850.73 576.02 L851.76 576.07 L852.79 576.11 L853.83 576.17 L854.86 576.22 L855.89 576.28 L856.92 576.34 L857.95 576.41 L858.99 576.48 L860.02 576.55 L861.05 576.63 L862.08 576.71 L863.11 576.79 L864.15 576.88 L865.18 576.97 L866.21 577.07 L867.24 577.17 L868.27 577.27 L869.31 577.38 L870.34 577.49 L871.37 577.61 L872.40 577.73 L873.43 577.86 L874.47 577.99 L875.50 578.12 L876.53 578.26 L877.56 578.41 L878.59 578.56 L879.63 578.71 L880.66 578.87 L881.69 579.03 L882.72 579.20 L883.75 579.37 L884.79 579.55 L885.82 579.74 L886.85 579.93 L887.88 580.12 L888.91 580.32 L889.95 580.52 L890.98 580.73 L892.01 580.95 L893.04 581.17 L894.07 581.39 L895.11 581.62 L896.14 581.86 L897.17 582.10 L898.20 582.34 L899.23 582.59 L900.27 582.85 L901.30 583.11 L902.33 583.38 L903.36 583.65 L904.39 583.93 L905.43 584.21 L906.46 584.50 L907.49 584.80 L908.52 585.10 L909.55 585.40 L910.59 585.71 L911.62 586.02 L912.65 586.34 L913.68 586.67 L914.71 587.00 L915.75 587.33 L916.78 587.67 L917.81 588.01 L918.84 588.36 L919.87 588.71 L920.91 589.07 L921.94 589.43 L922.97 589.80 L924.00 590.17 L925.03 590.55 L926.07 590.92 L927.10 591.31 L928.13 591.69 L929.16 592.08 L930.19 592.48 L931.23 592.88 L932.26 593.28 L933.29 593.68 L934.32 594.09 L935.35 594.51 L936.39 594.92 L937.42 595.34 L938.45 595.76 L939.48 596.18 L940.51 596.61 L941.55 597.04 L942.58 597.47 L943.61 597.90 L944.64 598.33 L945.67 598.77 L946.71 599.20 L947.74 599.64 L948.77 600.08 L949.80 600.52 L950.83 600.96 L951.87 601.40 L952.90 601.84 L953.93 602.28 L954.96 602.72 L955.99 603.16 L957.03 603.60 L958.06 604.05 L959.09 604.49 L960.12 604.93 L961.15 605.37 L962.19 605.81 L963.22 606.25 L964.25 606.68 L965.28 607.12 L966.31 607.56 L967.35 607.99 L968.38 608.43 L969.41 608.86 L970.44 609.29 L971.47 609.72 L972.51 610.15 L973.54 610.58 L974.57 611.01 L975.60 611.44 L976.63 611.86 L977.67 612.29 L978.70 612.71 L979.73 613.14 L980.76 613.56 L981.79 613.98 L982.83 614.40 L983.86 614.83 L984.89 615.25 L985.92 615.67 L986.95 616.09 L987.99 616.51 L989.02 616.93 L990.05 617.35 L991.08 617.78 L992.11 618.21 L993.15 618.63 L994.18 619.06 L995.21 619.50 L996.24 619.93 L997.27 620.37 L998.31 620.81 L999.34 621.25 L1000.37 621.70 L1001.40 622.14 L1002.43 622.59 L1003.47 623.04 L1004.50 623.50 L1005.53 623.95 L1006.56 624.41 L1007.59 624.87 L1008.63 625.33 L1009.66 625.79 L1010.69 626.26 L1011.72 626.73 L1012.75 627.20 L1013.79 627.67 L1014.82 628.14 L1015.85 628.61 L1016.88 629.09 L1017.91 629.57 L1018.95 630.04 L1019.98 630.52 L1021.01 631.00 L1022.04 631.48 L1023.07 631.96 L1024.11 632.44 L1025.14 632.93 L1026.17 633.41 L1027.20 633.89 L1028.23 634.38 L1029.27 634.86 L1030.30 635.35 L1031.33 635.83 L1032.36 636.32 L1033.39 636.80 L1034.43 637.29 L1035.46 637.78 L1036.49 638.27 L1037.52 638.75 L1038.55 639.24 L1039.59 639.73 L1040.62 640.22 L1041.65 640.71 L1042.68 641.20 L1043.71 641.69 L1044.75 642.18 L1045.78 642.68 L1046.81 643.17 L1047.84 643.66 L1048.87 644.15 L1049.91 644.65 L1050.94 645.14 L1051.97 645.64 L1053.00 646.13 L1054.03 646.63 L1055.07 647.13 L1056.10 647.63 L1057.13 648.13 L1058.16 648.62 L1059.19 649.12 L1060.23 649.63 L1061.26 650.13 L1062.29 650.63 L1063.32 651.13 L1064.35 651.64 L1065.39 652.14 L1066.42 652.65 L1067.45 653.15 L1068.48 653.66 L1069.51 654.17 L1070.55 654.67 L1071.58 655.18 L1072.61 655.69 L1073.64 656.20 L1074.67 656.71 L1075.71 657.22 L1076.74 657.73 L1077.77 658.24 L1078.80 658.75 L1079.83 659.25 L1080.87 659.76 L1081.90 660.27 L1082.93 660.78 L1083.96 661.28 L1084.99 661.79 L1086.03 662.30 L1087.06 662.80 L1088.09 663.30 L1089.12 663.80 L1090.15 664.31 L1091.19 664.80 L1092.22 665.30 L1093.25 665.80 L1094.28 666.29 L1095.31 666.79 L1096.35 667.28 L1097.38 667.77 L1098.41 668.26 L1099.44 668.75 L1100.47 669.24 L1101.51 669.73 L1102.54 670.21 L1103.57 670.70 L1104.60 671.18 L1105.63 671.67 L1106.67 672.16 L1107.70 672.64 L1108.73 673.13 L1109.76 673.61 L1110.79 674.09 L1111.83 674.58 L1112.86 675.06 L1113.89 675.55 L1114.92 676.03 L1115.95 676.51 L1116.99 676.99 L1118.02 677.48 L1119.05 677.96 L1120.08 678.44 L1121.11 678.92 L1122.15 679.40 L1123.18 679.88 L1124.21 680.36 L1125.24 680.84 L1126.27 681.31 L1127.31 681.79 L1128.34 682.27 L1129.37 682.74 L1130.40 683.22 L1131.43 683.69 L1132.47 684.16 L1133.50 684.64 L1134.53 685.11 L1135.56 685.58 L1136.59 686.05 L1137.63 686.52 L1138.66 686.99 L1139.69 687.46 L1140.72 687.92 L1141.75 688.39 L1142.79 688.86 L1143.82 689.32 L1144.85 689.79 L1145.88 690.25 L1146.91 690.71 L1147.95 691.17 L1148.98 691.64 L1150.01 692.10 L1151.04 692.56 L1152.07 693.01 L1153.11 693.47 L1154.14 693.93 L1155.17 694.39 L1156.20 694.84 L1157.23 695.30 L1158.27 695.75 L1159.30 696.20 L1160.33 696.66 L1161.36 697.11 L1162.39 697.56 L1163.43 698.01 L1164.46 698.46 L1165.49 698.91 L1166.52 699.35 L1167.55 699.80 L1168.59 700.25 L1169.62 700.69 L1170.65 701.14 L1171.68 701.58 L1172.71 702.02 L1173.75 702.47 L1174.78 702.91 L1175.81 703.35 L1176.84 703.79 L1177.87 704.23 L1178.91 704.67 L1179.94 705.11 L1180.97 705.55 L1182.00 705.99 L1183.03 706.42 L1184.07 706.86 L1185.10 707.30 L1186.13 707.74 L1187.16 708.17 L1187.42 708.28" stroke="#B177DE"/>
</g>
<path d="M677 651.99 L1188 650.84" stroke="#000" stroke-width="1.6" stroke-dasharray="4.7 3.54" fill="none"/>
<path d="M1063.32 651.12 V861.5" stroke="#000" stroke-width="1.6" stroke-dasharray="3.4 3.03" fill="none"/>
<rect x="674" y="463.7" width="516" height="399.8" fill="none" stroke="#000" stroke-width="4"/>
<path d="M674.00 863.5 V856.5 M699.80 863.5 V860.3 M725.60 863.5 V856.5 M751.40 863.5 V860.3 M777.20 863.5 V856.5 M803.00 863.5 V860.3 M828.80 863.5 V856.5 M854.60 863.5 V860.3 M880.40 863.5 V856.5 M906.20 863.5 V860.3 M932.00 863.5 V856.5 M957.80 863.5 V860.3 M983.60 863.5 V856.5 M1009.40 863.5 V860.3 M1035.20 863.5 V856.5 M1061.00 863.5 V860.3 M1086.80 863.5 V856.5 M1112.60 863.5 V860.3 M1138.40 863.5 V856.5 M1164.20 863.5 V860.3 M1190.00 863.5 V856.5 M674 863.50 H681 M674 828.22 H677.2 M674 792.95 H681 M674 757.67 H677.2 M674 722.39 H681 M674 687.12 H677.2 M674 651.84 H681 M674 616.56 H677.2 M674 581.29 H681 M674 546.01 H677.2 M674 510.74 H681 M674 475.46 H677.2" stroke="#000" stroke-width="4" fill="none"/>
<text x="674.00" y="888.30" text-anchor="middle" font-size="22" font-family="Liberation Serif" font-weight="bold">0</text>
<text x="725.60" y="888.30" text-anchor="middle" font-size="22" font-family="Liberation Serif" font-weight="bold">2</text>
<text x="777.20" y="888.30" text-anchor="middle" font-size="22" font-family="Liberation Serif" font-weight="bold">4</text>
<text x="828.80" y="888.30" text-anchor="middle" font-size="22" font-family="Liberation Serif" font-weight="bold">6</text>
<text x="880.40" y="888.30" text-anchor="middle" font-size="22" font-family="Liberation Serif" font-weight="bold">8</text>
<text x="932.00" y="888.30" text-anchor="middle" font-size="22" font-family="Liberation Serif" font-weight="bold">10</text>
<text x="983.60" y="888.30" text-anchor="middle" font-size="22" font-family="Liberation Serif" font-weight="bold">12</text>
<text x="1035.20" y="888.30" text-anchor="middle" font-size="22" font-family="Liberation Serif" font-weight="bold">14</text>
<text x="1086.80" y="888.30" text-anchor="middle" font-size="22" font-family="Liberation Serif" font-weight="bold">16</text>
<text x="1138.40" y="888.30" text-anchor="middle" font-size="22" font-family="Liberation Serif" font-weight="bold">18</text>
<text x="1190.00" y="888.30" text-anchor="middle" font-size="22" font-family="Liberation Serif" font-weight="bold">20</text>
<text x="665.40" y="870.30" text-anchor="end" font-size="22" font-family="Liberation Serif" font-weight="bold">−12</text>
<text x="665.40" y="799.75" text-anchor="end" font-size="22" font-family="Liberation Serif" font-weight="bold">−9</text>
<text x="665.40" y="729.19" text-anchor="end" font-size="22" font-family="Liberation Serif" font-weight="bold">−6</text>
<text x="665.40" y="658.64" text-anchor="end" font-size="22" font-family="Liberation Serif" font-weight="bold">−3</text>
<text x="665.40" y="588.09" text-anchor="end" font-size="22" font-family="Liberation Serif" font-weight="bold">0</text>
<text x="665.40" y="517.54" text-anchor="end" font-size="22" font-family="Liberation Serif" font-weight="bold">3</text>
<text x="931.90" y="917.70" text-anchor="middle" font-size="31.7" font-family="Liberation Serif" font-weight="bold">Freq (GHz)</text>
<text transform="translate(625.30,835.00) rotate(-90)" x="0" y="0" font-size="31.7" font-family="Liberation Serif" font-weight="bold">Modulation response(dB)</text>
<text x="684.7" y="501.0" font-size="30" font-family="Liberation Serif" font-weight="bold">(d)</text>
<text x="807.25" y="497.2" font-size="31.6" font-family="Liberation Serif" font-weight="bold">4-Junction</text>
<text x="959.2" y="497.2" font-size="31.6" fill="#FF0000" font-family="Liberation Serif" font-weight="bold">85<tspan font-weight="normal">°</tspan>C</text>
<path d="M1058.8 486.10 H1112.8" stroke="#515151" stroke-width="3.9" stroke-linecap="round"/>
<text x="1119" y="494.50" font-size="25" font-family="Liberation Serif" font-weight="bold">2 mA</text>
<path d="M1058.8 516.50 H1112.8" stroke="#F14040" stroke-width="3.9" stroke-linecap="round"/>
<text x="1119" y="524.90" font-size="25" font-family="Liberation Serif" font-weight="bold">4 mA</text>
<path d="M1058.8 546.90 H1112.8" stroke="#1A6FDF" stroke-width="3.9" stroke-linecap="round"/>
<text x="1119" y="555.30" font-size="25" font-family="Liberation Serif" font-weight="bold">6 mA</text>
<path d="M1058.8 577.30 H1112.8" stroke="#37AD6B" stroke-width="3.9" stroke-linecap="round"/>
<text x="1119" y="585.70" font-size="25" font-family="Liberation Serif" font-weight="bold">8 mA</text>
<path d="M1058.8 607.70 H1112.8" stroke="#B177DE" stroke-width="3.9" stroke-linecap="round"/>
<text x="1119" y="616.10" font-size="25" font-family="Liberation Serif" font-weight="bold">10mA</text>
</svg>
</body></html>
